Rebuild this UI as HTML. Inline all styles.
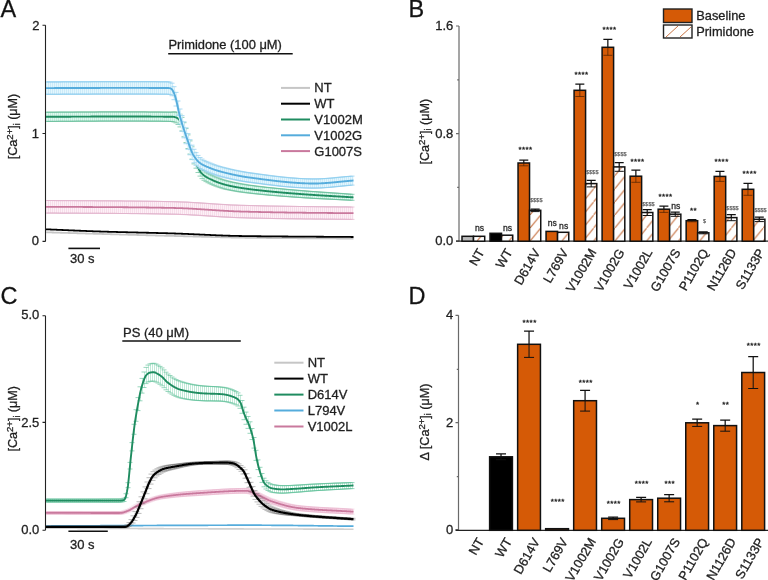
<!DOCTYPE html>
<html><head><meta charset="utf-8"><style>
html,body{margin:0;padding:0;background:#fff;width:768px;height:580px;overflow:hidden}
svg{display:block}
text{font-family:"Liberation Sans",sans-serif}
svg{will-change:transform}
text{stroke:#222;stroke-width:0.3px}
</style></head><body>
<svg width="768" height="580" viewBox="0 0 768 580">
<rect width="768" height="580" fill="#fff"/>
<defs><clipPath id="plotclip"><rect x="46.1" y="0" width="330" height="580"/></clipPath></defs>
<defs><pattern id="hatch" patternUnits="userSpaceOnUse" x="0" y="241.2" width="10.6" height="13.1"><rect width="10.6" height="13.1" fill="#fff"/><path d="M-1,14.34L11.6,-1.24" stroke="#c87444" stroke-width="1.05"/></pattern></defs>
<text x="0.5" y="17" font-size="23.5" text-anchor="start" fill="#111" stroke="#111" stroke-width="0.6">A</text>
<text x="408.5" y="17" font-size="23.5" text-anchor="start" fill="#111" stroke="#111" stroke-width="0.6">B</text>
<text x="0.5" y="303.5" font-size="23.5" text-anchor="start" fill="#111" stroke="#111" stroke-width="0.6">C</text>
<text x="408.5" y="303.5" font-size="23.5" text-anchor="start" fill="#111" stroke="#111" stroke-width="0.6">D</text>
<path d="M45.5,25.3V241.4M42.5,25.3h3M42.5,133.5h3M42.5,241.4h3" stroke="#222" stroke-width="1.1" fill="none"/>
<text x="39.5" y="29.5" font-size="13" text-anchor="end" fill="#1e1e1e" >2</text>
<text x="39.0" y="137.8" font-size="13" text-anchor="end" fill="#1e1e1e" >1</text>
<text x="39.0" y="245.0" font-size="13" text-anchor="end" fill="#1e1e1e" >0</text>
<text transform="translate(17,126.5) rotate(-90)" font-size="12.6" text-anchor="middle" fill="#1e1e1e">[Ca<tspan font-size="9.6" dy="-3.8">2+</tspan><tspan dy="3.8">]</tspan><tspan font-size="8.5" dy="2.5">i</tspan><tspan dy="-2.5"> (μM)</tspan></text>
<path d="M68.4,248.4H100" stroke="#111" stroke-width="1.6"/>
<text x="82.3" y="263" font-size="13" text-anchor="middle" fill="#1e1e1e" >30 s</text>
<path d="M168.2,53.7H292.7" stroke="#111" stroke-width="1.5"/>
<text x="168.4" y="48.5" font-size="12.9" text-anchor="start" fill="#1e1e1e" >Primidone (100 μM)</text>
<path d="M281,87.9H310" stroke="#c6c6c6" stroke-width="2"/>
<text x="314.3" y="92.30000000000001" font-size="13" text-anchor="start" fill="#1e1e1e" >NT</text>
<path d="M281,103.7H310" stroke="#000" stroke-width="2"/>
<text x="314.3" y="108.10000000000001" font-size="13" text-anchor="start" fill="#1e1e1e" >WT</text>
<path d="M281,119.5H310" stroke="#1f8c60" stroke-width="2"/>
<text x="314.3" y="123.9" font-size="13" text-anchor="start" fill="#1e1e1e" >V1002M</text>
<path d="M281,135.3H310" stroke="#55acdc" stroke-width="2"/>
<text x="314.3" y="139.70000000000002" font-size="13" text-anchor="start" fill="#1e1e1e" >V1002G</text>
<path d="M281,151.1H310" stroke="#c9799d" stroke-width="2"/>
<text x="314.3" y="155.50000000000003" font-size="13" text-anchor="start" fill="#1e1e1e" >G1007S</text>
<g clip-path="url(#plotclip)"><path d="M46.0,232.32 L46.5,232.32 L47.0,232.33 L47.5,232.35 L48.0,232.36 L48.5,232.37 L49.0,232.39 L49.5,232.40 L50.0,232.42 L50.5,232.43 L51.0,232.45 L51.5,232.46 L52.0,232.48 L52.5,232.49 L53.0,232.51 L53.5,232.52 L54.0,232.54 L54.5,232.55 L55.0,232.57 L55.5,232.58 L56.0,232.60 L56.5,232.61 L57.0,232.63 L57.5,232.64 L58.0,232.66 L58.5,232.67 L59.0,232.69 L59.5,232.70 L60.0,232.72 L60.5,232.73 L61.0,232.75 L61.5,232.76 L62.0,232.78 L62.5,232.79 L63.0,232.81 L63.5,232.82 L64.0,232.84 L64.5,232.85 L65.0,232.87 L65.5,232.88 L66.0,232.90 L66.5,232.91 L67.0,232.93 L67.5,232.95 L68.0,232.96 L68.5,232.98 L69.0,232.99 L69.5,233.01 L70.0,233.02 L70.5,233.04 L71.0,233.05 L71.5,233.07 L72.0,233.08 L72.5,233.10 L73.0,233.11 L73.5,233.13 L74.0,233.14 L74.5,233.16 L75.0,233.17 L75.5,233.19 L76.0,233.20 L76.5,233.22 L77.0,233.23 L77.5,233.25 L78.0,233.26 L78.5,233.28 L79.0,233.29 L79.5,233.31 L80.0,233.32 L80.5,233.34 L81.0,233.35 L81.5,233.37 L82.0,233.38 L82.5,233.40 L83.0,233.41 L83.5,233.43 L84.0,233.44 L84.5,233.46 L85.0,233.47 L85.5,233.49 L86.0,233.50 L86.5,233.52 L87.0,233.53 L87.5,233.55 L88.0,233.56 L88.5,233.58 L89.0,233.59 L89.5,233.61 L90.0,233.62 L90.5,233.64 L91.0,233.65 L91.5,233.67 L92.0,233.68 L92.5,233.70 L93.0,233.71 L93.5,233.73 L94.0,233.74 L94.5,233.76 L95.0,233.77 L95.5,233.79 L96.0,233.80 L96.5,233.82 L97.0,233.83 L97.5,233.85 L98.0,233.86 L98.5,233.88 L99.0,233.89 L99.5,233.90 L100.0,233.92 L100.5,233.93 L101.0,233.95 L101.5,233.96 L102.0,233.98 L102.5,233.99 L103.0,234.01 L103.5,234.02 L104.0,234.04 L104.5,234.05 L105.0,234.07 L105.5,234.08 L106.0,234.10 L106.5,234.11 L107.0,234.13 L107.5,234.14 L108.0,234.15 L108.5,234.17 L109.0,234.18 L109.5,234.20 L110.0,234.21 L110.5,234.23 L111.0,234.24 L111.5,234.26 L112.0,234.27 L112.5,234.29 L113.0,234.30 L113.5,234.31 L114.0,234.33 L114.5,234.34 L115.0,234.36 L115.5,234.37 L116.0,234.39 L116.5,234.40 L117.0,234.41 L117.5,234.43 L118.0,234.44 L118.5,234.46 L119.0,234.47 L119.5,234.49 L120.0,234.50 L120.5,234.51 L121.0,234.53 L121.5,234.54 L122.0,234.56 L122.5,234.57 L123.0,234.59 L123.5,234.60 L124.0,234.61 L124.5,234.63 L125.0,234.64 L125.5,234.66 L126.0,234.67 L126.5,234.68 L127.0,234.70 L127.5,234.71 L128.0,234.73 L128.5,234.74 L129.0,234.75 L129.5,234.77 L130.0,234.78 L130.5,234.80 L131.0,234.81 L131.5,234.82 L132.0,234.84 L132.5,234.85 L133.0,234.87 L133.5,234.88 L134.0,234.89 L134.5,234.91 L135.0,234.92 L135.5,234.94 L136.0,234.95 L136.5,234.96 L137.0,234.98 L137.5,234.99 L138.0,235.01 L138.5,235.02 L139.0,235.03 L139.5,235.05 L140.0,235.06 L140.5,235.08 L141.0,235.09 L141.5,235.10 L142.0,235.12 L142.5,235.13 L143.0,235.15 L143.5,235.16 L144.0,235.17 L144.5,235.19 L145.0,235.20 L145.5,235.21 L146.0,235.23 L146.5,235.24 L147.0,235.26 L147.5,235.27 L148.0,235.28 L148.5,235.30 L149.0,235.31 L149.5,235.32 L150.0,235.34 L150.5,235.35 L151.0,235.36 L151.5,235.38 L152.0,235.39 L152.5,235.41 L153.0,235.42 L153.5,235.43 L154.0,235.45 L154.5,235.46 L155.0,235.47 L155.5,235.49 L156.0,235.50 L156.5,235.51 L157.0,235.53 L157.5,235.54 L158.0,235.55 L158.5,235.57 L159.0,235.58 L159.5,235.59 L160.0,235.61 L160.5,235.62 L161.0,235.63 L161.5,235.65 L162.0,235.66 L162.5,235.67 L163.0,235.69 L163.5,235.70 L164.0,235.71 L164.5,235.73 L165.0,235.74 L165.5,235.75 L166.0,235.77 L166.5,235.78 L167.0,235.79 L167.5,235.81 L168.0,235.82 L168.5,235.83 L169.0,235.84 L169.5,235.86 L170.0,235.87 L170.5,235.88 L171.0,235.90 L171.5,235.91 L172.0,235.92 L172.5,235.94 L173.0,235.95 L173.5,235.96 L174.0,235.97 L174.5,235.99 L175.0,236.00 L175.5,236.01 L176.0,236.03 L176.5,236.04 L177.0,236.05 L177.5,236.06 L178.0,236.08 L178.5,236.09 L179.0,236.10 L179.5,236.12 L180.0,236.13 L180.5,236.14 L181.0,236.16 L181.5,236.17 L182.0,236.18 L182.5,236.20 L183.0,236.21 L183.5,236.23 L184.0,236.24 L184.5,236.25 L185.0,236.27 L185.5,236.28 L186.0,236.29 L186.5,236.31 L187.0,236.32 L187.5,236.33 L188.0,236.35 L188.5,236.36 L189.0,236.38 L189.5,236.39 L190.0,236.40 L190.5,236.42 L191.0,236.43 L191.5,236.45 L192.0,236.46 L192.5,236.47 L193.0,236.49 L193.5,236.50 L194.0,236.52 L194.5,236.53 L195.0,236.54 L195.5,236.56 L196.0,236.57 L196.5,236.59 L197.0,236.60 L197.5,236.61 L198.0,236.63 L198.5,236.64 L199.0,236.66 L199.5,236.67 L200.0,236.68 L200.5,236.70 L201.0,236.71 L201.5,236.73 L202.0,236.74 L202.5,236.75 L203.0,236.77 L203.5,236.78 L204.0,236.80 L204.5,236.81 L205.0,236.82 L205.5,236.84 L206.0,236.85 L206.5,236.87 L207.0,236.88 L207.5,236.89 L208.0,236.91 L208.5,236.92 L209.0,236.93 L209.5,236.95 L210.0,236.96 L210.5,236.97 L211.0,236.99 L211.5,237.00 L212.0,237.01 L212.5,237.03 L213.0,237.04 L213.5,237.05 L214.0,237.07 L214.5,237.08 L215.0,237.09 L215.5,237.11 L216.0,237.12 L216.5,237.13 L217.0,237.15 L217.5,237.16 L218.0,237.17 L218.5,237.18 L219.0,237.20 L219.5,237.21 L220.0,237.22 L220.5,237.23 L221.0,237.25 L221.5,237.26 L222.0,237.27 L222.5,237.28 L223.0,237.29 L223.5,237.31 L224.0,237.32 L224.5,237.33 L225.0,237.34 L225.5,237.35 L226.0,237.37 L226.5,237.38 L227.0,237.39 L227.5,237.40 L228.0,237.41 L228.5,237.42 L229.0,237.43 L229.5,237.44 L230.0,237.46 L230.5,237.47 L231.0,237.48 L231.5,237.49 L232.0,237.50 L232.5,237.51 L233.0,237.52 L233.5,237.53 L234.0,237.54 L234.5,237.55 L235.0,237.56 L235.5,237.57 L236.0,237.58 L236.5,237.59 L237.0,237.60 L237.5,237.61 L238.0,237.62 L238.5,237.62 L239.0,237.63 L239.5,237.64 L240.0,237.65 L240.5,237.66 L241.0,237.67 L241.5,237.68 L242.0,237.69 L242.5,237.69 L243.0,237.70 L243.5,237.71 L244.0,237.72 L244.5,237.72 L245.0,237.73 L245.5,237.74 L246.0,237.75 L246.5,237.75 L247.0,237.76 L247.5,237.77 L248.0,237.77 L248.5,237.78 L249.0,237.79 L249.5,237.79 L250.0,237.80 L250.5,237.81 L251.0,237.81 L251.5,237.82 L252.0,237.82 L252.5,237.83 L253.0,237.84 L253.5,237.84 L254.0,237.85 L254.5,237.85 L255.0,237.86 L255.5,237.86 L256.0,237.87 L256.5,237.87 L257.0,237.88 L257.5,237.89 L258.0,237.89 L258.5,237.90 L259.0,237.90 L259.5,237.91 L260.0,237.91 L260.5,237.92 L261.0,237.92 L261.5,237.93 L262.0,237.93 L262.5,237.94 L263.0,237.94 L263.5,237.95 L264.0,237.95 L264.5,237.96 L265.0,237.96 L265.5,237.97 L266.0,237.97 L266.5,237.98 L267.0,237.98 L267.5,237.99 L268.0,237.99 L268.5,238.00 L269.0,238.00 L269.5,238.01 L270.0,238.01 L270.5,238.01 L271.0,238.02 L271.5,238.02 L272.0,238.03 L272.5,238.03 L273.0,238.04 L273.5,238.04 L274.0,238.05 L274.5,238.05 L275.0,238.05 L275.5,238.06 L276.0,238.06 L276.5,238.07 L277.0,238.07 L277.5,238.08 L278.0,238.08 L278.5,238.08 L279.0,238.09 L279.5,238.09 L280.0,238.10 L280.5,238.10 L281.0,238.10 L281.5,238.11 L282.0,238.11 L282.5,238.12 L283.0,238.12 L283.5,238.12 L284.0,238.13 L284.5,238.13 L285.0,238.14 L285.5,238.14 L286.0,238.14 L286.5,238.15 L287.0,238.15 L287.5,238.15 L288.0,238.16 L288.5,238.16 L289.0,238.17 L289.5,238.17 L290.0,238.17 L290.5,238.18 L291.0,238.18 L291.5,238.18 L292.0,238.19 L292.5,238.19 L293.0,238.19 L293.5,238.20 L294.0,238.20 L294.5,238.21 L295.0,238.21 L295.5,238.21 L296.0,238.22 L296.5,238.22 L297.0,238.22 L297.5,238.23 L298.0,238.23 L298.5,238.23 L299.0,238.24 L299.5,238.24 L300.0,238.24 L300.5,238.25 L301.0,238.25 L301.5,238.25 L302.0,238.26 L302.5,238.26 L303.0,238.26 L303.5,238.27 L304.0,238.27 L304.5,238.27 L305.0,238.28 L305.5,238.28 L306.0,238.28 L306.5,238.29 L307.0,238.29 L307.5,238.29 L308.0,238.30 L308.5,238.30 L309.0,238.30 L309.5,238.31 L310.0,238.31 L310.5,238.31 L311.0,238.31 L311.5,238.32 L312.0,238.32 L312.5,238.32 L313.0,238.33 L313.5,238.33 L314.0,238.33 L314.5,238.34 L315.0,238.34 L315.5,238.34 L316.0,238.35 L316.5,238.35 L317.0,238.35 L317.5,238.36 L318.0,238.36 L318.5,238.36 L319.0,238.37 L319.5,238.37 L320.0,238.37 L320.5,238.37 L321.0,238.38 L321.5,238.38 L322.0,238.38 L322.5,238.39 L323.0,238.39 L323.5,238.39 L324.0,238.40 L324.5,238.40 L325.0,238.40 L325.5,238.41 L326.0,238.41 L326.5,238.41 L327.0,238.42 L327.5,238.42 L328.0,238.42 L328.5,238.43 L329.0,238.43 L329.5,238.43 L330.0,238.44 L330.5,238.44 L331.0,238.44 L331.5,238.44 L332.0,238.45 L332.5,238.45 L333.0,238.45 L333.5,238.46 L334.0,238.46 L334.5,238.46 L335.0,238.47 L335.5,238.47 L336.0,238.47 L336.5,238.48 L337.0,238.48 L337.5,238.48 L338.0,238.49 L338.5,238.49 L339.0,238.49 L339.5,238.50 L340.0,238.50 L340.5,238.50 L341.0,238.51 L341.5,238.51 L342.0,238.51 L342.5,238.52 L343.0,238.52 L343.5,238.53 L344.0,238.53 L344.5,238.53 L345.0,238.54 L345.5,238.54 L346.0,238.54 L346.5,238.55 L347.0,238.55 L347.5,238.55 L348.0,238.56 L348.5,238.56 L349.0,238.56 L349.5,238.57 L350.0,238.57 L350.5,238.58 L351.0,238.58 L351.5,238.58 L352.0,238.59 L352.5,238.59 L353.0,238.59 L353.5,238.59" stroke="#c6c6c6" stroke-width="1.8" fill="none" stroke-linejoin="round"/></g>
<g clip-path="url(#plotclip)"><path d="M46.0,229.32 L46.5,229.33 L47.0,229.35 L47.5,229.36 L48.0,229.38 L48.5,229.40 L49.0,229.42 L49.5,229.44 L50.0,229.47 L50.5,229.49 L51.0,229.51 L51.5,229.53 L52.0,229.55 L52.5,229.57 L53.0,229.59 L53.5,229.61 L54.0,229.63 L54.5,229.66 L55.0,229.68 L55.5,229.70 L56.0,229.72 L56.5,229.74 L57.0,229.76 L57.5,229.78 L58.0,229.81 L58.5,229.83 L59.0,229.85 L59.5,229.87 L60.0,229.89 L60.5,229.91 L61.0,229.94 L61.5,229.96 L62.0,229.98 L62.5,230.00 L63.0,230.02 L63.5,230.04 L64.0,230.07 L64.5,230.09 L65.0,230.11 L65.5,230.13 L66.0,230.15 L66.5,230.17 L67.0,230.20 L67.5,230.22 L68.0,230.24 L68.5,230.26 L69.0,230.28 L69.5,230.30 L70.0,230.33 L70.5,230.35 L71.0,230.37 L71.5,230.39 L72.0,230.41 L72.5,230.43 L73.0,230.45 L73.5,230.48 L74.0,230.50 L74.5,230.52 L75.0,230.54 L75.5,230.56 L76.0,230.58 L76.5,230.60 L77.0,230.62 L77.5,230.65 L78.0,230.67 L78.5,230.69 L79.0,230.71 L79.5,230.73 L80.0,230.75 L80.5,230.77 L81.0,230.79 L81.5,230.81 L82.0,230.83 L82.5,230.85 L83.0,230.87 L83.5,230.89 L84.0,230.91 L84.5,230.93 L85.0,230.95 L85.5,230.97 L86.0,230.99 L86.5,231.01 L87.0,231.03 L87.5,231.05 L88.0,231.07 L88.5,231.09 L89.0,231.11 L89.5,231.13 L90.0,231.15 L90.5,231.17 L91.0,231.18 L91.5,231.20 L92.0,231.22 L92.5,231.24 L93.0,231.26 L93.5,231.28 L94.0,231.29 L94.5,231.31 L95.0,231.33 L95.5,231.35 L96.0,231.36 L96.5,231.38 L97.0,231.40 L97.5,231.42 L98.0,231.43 L98.5,231.45 L99.0,231.47 L99.5,231.48 L100.0,231.50 L100.5,231.52 L101.0,231.53 L101.5,231.55 L102.0,231.56 L102.5,231.58 L103.0,231.60 L103.5,231.61 L104.0,231.63 L104.5,231.64 L105.0,231.66 L105.5,231.67 L106.0,231.69 L106.5,231.70 L107.0,231.72 L107.5,231.73 L108.0,231.75 L108.5,231.76 L109.0,231.78 L109.5,231.79 L110.0,231.81 L110.5,231.82 L111.0,231.83 L111.5,231.85 L112.0,231.86 L112.5,231.88 L113.0,231.89 L113.5,231.90 L114.0,231.92 L114.5,231.93 L115.0,231.94 L115.5,231.96 L116.0,231.97 L116.5,231.99 L117.0,232.00 L117.5,232.01 L118.0,232.03 L118.5,232.04 L119.0,232.05 L119.5,232.06 L120.0,232.08 L120.5,232.09 L121.0,232.10 L121.5,232.12 L122.0,232.13 L122.5,232.14 L123.0,232.15 L123.5,232.17 L124.0,232.18 L124.5,232.19 L125.0,232.20 L125.5,232.22 L126.0,232.23 L126.5,232.24 L127.0,232.25 L127.5,232.27 L128.0,232.28 L128.5,232.29 L129.0,232.30 L129.5,232.32 L130.0,232.33 L130.5,232.34 L131.0,232.35 L131.5,232.36 L132.0,232.38 L132.5,232.39 L133.0,232.40 L133.5,232.41 L134.0,232.43 L134.5,232.44 L135.0,232.45 L135.5,232.46 L136.0,232.47 L136.5,232.49 L137.0,232.50 L137.5,232.51 L138.0,232.52 L138.5,232.53 L139.0,232.55 L139.5,232.56 L140.0,232.57 L140.5,232.58 L141.0,232.59 L141.5,232.60 L142.0,232.62 L142.5,232.63 L143.0,232.64 L143.5,232.65 L144.0,232.67 L144.5,232.68 L145.0,232.69 L145.5,232.70 L146.0,232.71 L146.5,232.73 L147.0,232.74 L147.5,232.75 L148.0,232.76 L148.5,232.77 L149.0,232.79 L149.5,232.80 L150.0,232.81 L150.5,232.82 L151.0,232.84 L151.5,232.85 L152.0,232.86 L152.5,232.87 L153.0,232.89 L153.5,232.90 L154.0,232.91 L154.5,232.92 L155.0,232.94 L155.5,232.95 L156.0,232.96 L156.5,232.98 L157.0,232.99 L157.5,233.00 L158.0,233.01 L158.5,233.03 L159.0,233.04 L159.5,233.05 L160.0,233.07 L160.5,233.08 L161.0,233.09 L161.5,233.11 L162.0,233.12 L162.5,233.13 L163.0,233.15 L163.5,233.16 L164.0,233.18 L164.5,233.19 L165.0,233.20 L165.5,233.22 L166.0,233.23 L166.5,233.25 L167.0,233.26 L167.5,233.27 L168.0,233.29 L168.5,233.30 L169.0,233.32 L169.5,233.33 L170.0,233.35 L170.5,233.36 L171.0,233.38 L171.5,233.39 L172.0,233.41 L172.5,233.42 L173.0,233.44 L173.5,233.45 L174.0,233.47 L174.5,233.48 L175.0,233.50 L175.5,233.52 L176.0,233.53 L176.5,233.55 L177.0,233.57 L177.5,233.58 L178.0,233.60 L178.5,233.62 L179.0,233.64 L179.5,233.65 L180.0,233.67 L180.5,233.69 L181.0,233.71 L181.5,233.73 L182.0,233.75 L182.5,233.77 L183.0,233.79 L183.5,233.81 L184.0,233.83 L184.5,233.85 L185.0,233.87 L185.5,233.89 L186.0,233.91 L186.5,233.93 L187.0,233.95 L187.5,233.97 L188.0,233.99 L188.5,234.01 L189.0,234.04 L189.5,234.06 L190.0,234.08 L190.5,234.10 L191.0,234.12 L191.5,234.14 L192.0,234.17 L192.5,234.19 L193.0,234.21 L193.5,234.23 L194.0,234.26 L194.5,234.28 L195.0,234.30 L195.5,234.33 L196.0,234.35 L196.5,234.37 L197.0,234.40 L197.5,234.42 L198.0,234.44 L198.5,234.46 L199.0,234.49 L199.5,234.51 L200.0,234.53 L200.5,234.56 L201.0,234.58 L201.5,234.60 L202.0,234.63 L202.5,234.65 L203.0,234.67 L203.5,234.70 L204.0,234.72 L204.5,234.74 L205.0,234.77 L205.5,234.79 L206.0,234.81 L206.5,234.84 L207.0,234.86 L207.5,234.88 L208.0,234.91 L208.5,234.93 L209.0,234.95 L209.5,234.97 L210.0,235.00 L210.5,235.02 L211.0,235.04 L211.5,235.06 L212.0,235.09 L212.5,235.11 L213.0,235.13 L213.5,235.15 L214.0,235.17 L214.5,235.20 L215.0,235.22 L215.5,235.24 L216.0,235.26 L216.5,235.28 L217.0,235.30 L217.5,235.32 L218.0,235.34 L218.5,235.36 L219.0,235.38 L219.5,235.40 L220.0,235.42 L220.5,235.44 L221.0,235.46 L221.5,235.48 L222.0,235.50 L222.5,235.52 L223.0,235.54 L223.5,235.56 L224.0,235.58 L224.5,235.59 L225.0,235.61 L225.5,235.63 L226.0,235.65 L226.5,235.66 L227.0,235.68 L227.5,235.69 L228.0,235.71 L228.5,235.73 L229.0,235.74 L229.5,235.76 L230.0,235.77 L230.5,235.79 L231.0,235.80 L231.5,235.81 L232.0,235.83 L232.5,235.84 L233.0,235.85 L233.5,235.87 L234.0,235.88 L234.5,235.89 L235.0,235.90 L235.5,235.91 L236.0,235.93 L236.5,235.94 L237.0,235.95 L237.5,235.96 L238.0,235.97 L238.5,235.97 L239.0,235.98 L239.5,235.99 L240.0,236.00 L240.5,236.01 L241.0,236.01 L241.5,236.02 L242.0,236.03 L242.5,236.04 L243.0,236.04 L243.5,236.05 L244.0,236.06 L244.5,236.07 L245.0,236.07 L245.5,236.08 L246.0,236.09 L246.5,236.09 L247.0,236.10 L247.5,236.11 L248.0,236.11 L248.5,236.12 L249.0,236.13 L249.5,236.13 L250.0,236.14 L250.5,236.15 L251.0,236.15 L251.5,236.16 L252.0,236.17 L252.5,236.17 L253.0,236.18 L253.5,236.19 L254.0,236.19 L254.5,236.20 L255.0,236.20 L255.5,236.21 L256.0,236.22 L256.5,236.22 L257.0,236.23 L257.5,236.23 L258.0,236.24 L258.5,236.25 L259.0,236.25 L259.5,236.26 L260.0,236.26 L260.5,236.27 L261.0,236.27 L261.5,236.28 L262.0,236.28 L262.5,236.29 L263.0,236.30 L263.5,236.30 L264.0,236.31 L264.5,236.31 L265.0,236.32 L265.5,236.32 L266.0,236.33 L266.5,236.33 L267.0,236.34 L267.5,236.34 L268.0,236.35 L268.5,236.35 L269.0,236.36 L269.5,236.36 L270.0,236.37 L270.5,236.37 L271.0,236.38 L271.5,236.38 L272.0,236.39 L272.5,236.39 L273.0,236.40 L273.5,236.40 L274.0,236.41 L274.5,236.41 L275.0,236.41 L275.5,236.42 L276.0,236.42 L276.5,236.43 L277.0,236.43 L277.5,236.44 L278.0,236.44 L278.5,236.45 L279.0,236.45 L279.5,236.45 L280.0,236.46 L280.5,236.46 L281.0,236.47 L281.5,236.47 L282.0,236.48 L282.5,236.48 L283.0,236.48 L283.5,236.49 L284.0,236.49 L284.5,236.50 L285.0,236.50 L285.5,236.50 L286.0,236.51 L286.5,236.51 L287.0,236.52 L287.5,236.52 L288.0,236.52 L288.5,236.53 L289.0,236.53 L289.5,236.54 L290.0,236.54 L290.5,236.54 L291.0,236.55 L291.5,236.55 L292.0,236.56 L292.5,236.56 L293.0,236.56 L293.5,236.57 L294.0,236.57 L294.5,236.57 L295.0,236.58 L295.5,236.58 L296.0,236.58 L296.5,236.59 L297.0,236.59 L297.5,236.60 L298.0,236.60 L298.5,236.60 L299.0,236.61 L299.5,236.61 L300.0,236.61 L300.5,236.62 L301.0,236.62 L301.5,236.62 L302.0,236.63 L302.5,236.63 L303.0,236.63 L303.5,236.64 L304.0,236.64 L304.5,236.64 L305.0,236.65 L305.5,236.65 L306.0,236.65 L306.5,236.66 L307.0,236.66 L307.5,236.66 L308.0,236.67 L308.5,236.67 L309.0,236.67 L309.5,236.68 L310.0,236.68 L310.5,236.69 L311.0,236.69 L311.5,236.69 L312.0,236.70 L312.5,236.70 L313.0,236.70 L313.5,236.71 L314.0,236.71 L314.5,236.71 L315.0,236.72 L315.5,236.72 L316.0,236.72 L316.5,236.73 L317.0,236.73 L317.5,236.73 L318.0,236.74 L318.5,236.74 L319.0,236.74 L319.5,236.75 L320.0,236.75 L320.5,236.75 L321.0,236.76 L321.5,236.76 L322.0,236.76 L322.5,236.77 L323.0,236.77 L323.5,236.77 L324.0,236.78 L324.5,236.78 L325.0,236.78 L325.5,236.79 L326.0,236.79 L326.5,236.79 L327.0,236.80 L327.5,236.80 L328.0,236.80 L328.5,236.81 L329.0,236.81 L329.5,236.81 L330.0,236.82 L330.5,236.82 L331.0,236.82 L331.5,236.83 L332.0,236.83 L332.5,236.83 L333.0,236.84 L333.5,236.84 L334.0,236.84 L334.5,236.85 L335.0,236.85 L335.5,236.86 L336.0,236.86 L336.5,236.86 L337.0,236.87 L337.5,236.87 L338.0,236.87 L338.5,236.88 L339.0,236.88 L339.5,236.89 L340.0,236.89 L340.5,236.89 L341.0,236.90 L341.5,236.90 L342.0,236.90 L342.5,236.91 L343.0,236.91 L343.5,236.92 L344.0,236.92 L344.5,236.92 L345.0,236.93 L345.5,236.93 L346.0,236.94 L346.5,236.94 L347.0,236.94 L347.5,236.95 L348.0,236.95 L348.5,236.96 L349.0,236.96 L349.5,236.96 L350.0,236.97 L350.5,236.97 L351.0,236.98 L351.5,236.98 L352.0,236.98 L352.5,236.99 L353.0,236.99 L353.5,236.99" stroke="#000" stroke-width="1.8" fill="none" stroke-linejoin="round"/></g>
<g clip-path="url(#plotclip)"><path d="M46.0,200.50 L46.5,200.50 L47.0,200.51 L47.5,200.51 L48.0,200.51 L48.5,200.51 L49.0,200.52 L49.5,200.52 L50.0,200.52 L50.5,200.53 L51.0,200.53 L51.5,200.53 L52.0,200.53 L52.5,200.54 L53.0,200.54 L53.5,200.54 L54.0,200.54 L54.5,200.55 L55.0,200.55 L55.5,200.55 L56.0,200.55 L56.5,200.56 L57.0,200.56 L57.5,200.56 L58.0,200.56 L58.5,200.57 L59.0,200.57 L59.5,200.57 L60.0,200.57 L60.5,200.58 L61.0,200.58 L61.5,200.58 L62.0,200.58 L62.5,200.59 L63.0,200.59 L63.5,200.59 L64.0,200.59 L64.5,200.60 L65.0,200.60 L65.5,200.60 L66.0,200.60 L66.5,200.61 L67.0,200.61 L67.5,200.61 L68.0,200.61 L68.5,200.62 L69.0,200.62 L69.5,200.62 L70.0,200.62 L70.5,200.63 L71.0,200.63 L71.5,200.63 L72.0,200.63 L72.5,200.64 L73.0,200.64 L73.5,200.64 L74.0,200.64 L74.5,200.65 L75.0,200.65 L75.5,200.65 L76.0,200.65 L76.5,200.66 L77.0,200.66 L77.5,200.66 L78.0,200.66 L78.5,200.66 L79.0,200.67 L79.5,200.67 L80.0,200.67 L80.5,200.67 L81.0,200.68 L81.5,200.68 L82.0,200.68 L82.5,200.68 L83.0,200.69 L83.5,200.69 L84.0,200.69 L84.5,200.70 L85.0,200.70 L85.5,200.70 L86.0,200.70 L86.5,200.71 L87.0,200.71 L87.5,200.71 L88.0,200.71 L88.5,200.72 L89.0,200.72 L89.5,200.72 L90.0,200.72 L90.5,200.73 L91.0,200.73 L91.5,200.73 L92.0,200.73 L92.5,200.74 L93.0,200.74 L93.5,200.74 L94.0,200.75 L94.5,200.75 L95.0,200.75 L95.5,200.75 L96.0,200.76 L96.5,200.76 L97.0,200.76 L97.5,200.77 L98.0,200.77 L98.5,200.77 L99.0,200.78 L99.5,200.78 L100.0,200.78 L100.5,200.78 L101.0,200.79 L101.5,200.79 L102.0,200.79 L102.5,200.80 L103.0,200.80 L103.5,200.80 L104.0,200.81 L104.5,200.81 L105.0,200.81 L105.5,200.82 L106.0,200.82 L106.5,200.82 L107.0,200.83 L107.5,200.83 L108.0,200.83 L108.5,200.84 L109.0,200.84 L109.5,200.84 L110.0,200.85 L110.5,200.85 L111.0,200.85 L111.5,200.86 L112.0,200.86 L112.5,200.87 L113.0,200.87 L113.5,200.87 L114.0,200.88 L114.5,200.88 L115.0,200.88 L115.5,200.89 L116.0,200.89 L116.5,200.90 L117.0,200.90 L117.5,200.90 L118.0,200.91 L118.5,200.91 L119.0,200.92 L119.5,200.92 L120.0,200.92 L120.5,200.93 L121.0,200.93 L121.5,200.94 L122.0,200.94 L122.5,200.95 L123.0,200.95 L123.5,200.95 L124.0,200.96 L124.5,200.96 L125.0,200.97 L125.5,200.97 L126.0,200.98 L126.5,200.98 L127.0,200.99 L127.5,200.99 L128.0,201.00 L128.5,201.00 L129.0,201.01 L129.5,201.01 L130.0,201.02 L130.5,201.02 L131.0,201.03 L131.5,201.03 L132.0,201.04 L132.5,201.04 L133.0,201.05 L133.5,201.06 L134.0,201.06 L134.5,201.07 L135.0,201.07 L135.5,201.08 L136.0,201.08 L136.5,201.09 L137.0,201.10 L137.5,201.10 L138.0,201.11 L138.5,201.11 L139.0,201.12 L139.5,201.13 L140.0,201.13 L140.5,201.14 L141.0,201.14 L141.5,201.15 L142.0,201.16 L142.5,201.16 L143.0,201.17 L143.5,201.18 L144.0,201.18 L144.5,201.19 L145.0,201.20 L145.5,201.21 L146.0,201.21 L146.5,201.22 L147.0,201.23 L147.5,201.23 L148.0,201.24 L148.5,201.25 L149.0,201.26 L149.5,201.26 L150.0,201.27 L150.5,201.28 L151.0,201.29 L151.5,201.29 L152.0,201.30 L152.5,201.31 L153.0,201.32 L153.5,201.33 L154.0,201.33 L154.5,201.34 L155.0,201.35 L155.5,201.36 L156.0,201.37 L156.5,201.38 L157.0,201.38 L157.5,201.39 L158.0,201.40 L158.5,201.41 L159.0,201.42 L159.5,201.43 L160.0,201.44 L160.5,201.45 L161.0,201.45 L161.5,201.46 L162.0,201.47 L162.5,201.48 L163.0,201.49 L163.5,201.50 L164.0,201.51 L164.5,201.52 L165.0,201.53 L165.5,201.54 L166.0,201.55 L166.5,201.56 L167.0,201.57 L167.5,201.58 L168.0,201.59 L168.5,201.60 L169.0,201.61 L169.5,201.62 L170.0,201.63 L170.5,201.64 L171.0,201.65 L171.5,201.66 L172.0,201.68 L172.5,201.69 L173.0,201.70 L173.5,201.71 L174.0,201.72 L174.5,201.73 L175.0,201.74 L175.5,201.76 L176.0,201.77 L176.5,201.78 L177.0,201.80 L177.5,201.81 L178.0,201.82 L178.5,201.84 L179.0,201.86 L179.5,201.87 L180.0,201.89 L180.5,201.91 L181.0,201.93 L181.5,201.95 L182.0,201.97 L182.5,201.99 L183.0,202.01 L183.5,202.03 L184.0,202.05 L184.5,202.07 L185.0,202.09 L185.5,202.12 L186.0,202.14 L186.5,202.16 L187.0,202.19 L187.5,202.21 L188.0,202.24 L188.5,202.26 L189.0,202.29 L189.5,202.32 L190.0,202.34 L190.5,202.37 L191.0,202.40 L191.5,202.43 L192.0,202.46 L192.5,202.48 L193.0,202.51 L193.5,202.54 L194.0,202.57 L194.5,202.60 L195.0,202.63 L195.5,202.66 L196.0,202.69 L196.5,202.72 L197.0,202.76 L197.5,202.79 L198.0,202.82 L198.5,202.85 L199.0,202.88 L199.5,202.92 L200.0,202.95 L200.5,202.98 L201.0,203.01 L201.5,203.05 L202.0,203.08 L202.5,203.11 L203.0,203.15 L203.5,203.18 L204.0,203.21 L204.5,203.25 L205.0,203.28 L205.5,203.31 L206.0,203.35 L206.5,203.38 L207.0,203.42 L207.5,203.45 L208.0,203.48 L208.5,203.52 L209.0,203.55 L209.5,203.59 L210.0,203.62 L210.5,203.65 L211.0,203.69 L211.5,203.72 L212.0,203.76 L212.5,203.79 L213.0,203.82 L213.5,203.86 L214.0,203.89 L214.5,203.93 L215.0,203.96 L215.5,203.99 L216.0,204.02 L216.5,204.06 L217.0,204.09 L217.5,204.12 L218.0,204.16 L218.5,204.19 L219.0,204.22 L219.5,204.25 L220.0,204.28 L220.5,204.32 L221.0,204.35 L221.5,204.38 L222.0,204.41 L222.5,204.44 L223.0,204.47 L223.5,204.50 L224.0,204.53 L224.5,204.56 L225.0,204.59 L225.5,204.62 L226.0,204.64 L226.5,204.67 L227.0,204.70 L227.5,204.73 L228.0,204.75 L228.5,204.78 L229.0,204.81 L229.5,204.83 L230.0,204.86 L230.5,204.88 L231.0,204.91 L231.5,204.93 L232.0,204.95 L232.5,204.98 L233.0,205.00 L233.5,205.02 L234.0,205.04 L234.5,205.06 L235.0,205.09 L235.5,205.11 L236.0,205.12 L236.5,205.14 L237.0,205.16 L237.5,205.18 L238.0,205.20 L238.5,205.21 L239.0,205.23 L239.5,205.25 L240.0,205.26 L240.5,205.28 L241.0,205.29 L241.5,205.31 L242.0,205.32 L242.5,205.33 L243.0,205.35 L243.5,205.36 L244.0,205.38 L244.5,205.39 L245.0,205.40 L245.5,205.42 L246.0,205.43 L246.5,205.45 L247.0,205.46 L247.5,205.47 L248.0,205.49 L248.5,205.50 L249.0,205.51 L249.5,205.53 L250.0,205.54 L250.5,205.55 L251.0,205.56 L251.5,205.58 L252.0,205.59 L252.5,205.60 L253.0,205.61 L253.5,205.63 L254.0,205.64 L254.5,205.65 L255.0,205.66 L255.5,205.68 L256.0,205.69 L256.5,205.70 L257.0,205.71 L257.5,205.72 L258.0,205.74 L258.5,205.75 L259.0,205.76 L259.5,205.77 L260.0,205.78 L260.5,205.79 L261.0,205.80 L261.5,205.82 L262.0,205.83 L262.5,205.84 L263.0,205.85 L263.5,205.86 L264.0,205.87 L264.5,205.88 L265.0,205.89 L265.5,205.90 L266.0,205.91 L266.5,205.92 L267.0,205.93 L267.5,205.94 L268.0,205.95 L268.5,205.97 L269.0,205.98 L269.5,205.99 L270.0,206.00 L270.5,206.01 L271.0,206.02 L271.5,206.02 L272.0,206.03 L272.5,206.04 L273.0,206.05 L273.5,206.06 L274.0,206.07 L274.5,206.08 L275.0,206.09 L275.5,206.10 L276.0,206.11 L276.5,206.12 L277.0,206.13 L277.5,206.14 L278.0,206.15 L278.5,206.16 L279.0,206.16 L279.5,206.17 L280.0,206.18 L280.5,206.19 L281.0,206.20 L281.5,206.21 L282.0,206.22 L282.5,206.22 L283.0,206.23 L283.5,206.24 L284.0,206.25 L284.5,206.26 L285.0,206.27 L285.5,206.27 L286.0,206.28 L286.5,206.29 L287.0,206.30 L287.5,206.30 L288.0,206.31 L288.5,206.32 L289.0,206.33 L289.5,206.34 L290.0,206.34 L290.5,206.35 L291.0,206.36 L291.5,206.37 L292.0,206.37 L292.5,206.38 L293.0,206.39 L293.5,206.39 L294.0,206.40 L294.5,206.41 L295.0,206.42 L295.5,206.42 L296.0,206.43 L296.5,206.44 L297.0,206.44 L297.5,206.45 L298.0,206.46 L298.5,206.46 L299.0,206.47 L299.5,206.48 L300.0,206.48 L300.5,206.49 L301.0,206.50 L301.5,206.50 L302.0,206.51 L302.5,206.51 L303.0,206.52 L303.5,206.53 L304.0,206.53 L304.5,206.54 L305.0,206.54 L305.5,206.55 L306.0,206.56 L306.5,206.56 L307.0,206.57 L307.5,206.57 L308.0,206.58 L308.5,206.58 L309.0,206.59 L309.5,206.60 L310.0,206.60 L310.5,206.61 L311.0,206.61 L311.5,206.62 L312.0,206.62 L312.5,206.63 L313.0,206.63 L313.5,206.64 L314.0,206.64 L314.5,206.65 L315.0,206.65 L315.5,206.66 L316.0,206.66 L316.5,206.67 L317.0,206.67 L317.5,206.68 L318.0,206.68 L318.5,206.69 L319.0,206.69 L319.5,206.70 L320.0,206.70 L320.5,206.71 L321.0,206.71 L321.5,206.72 L322.0,206.72 L322.5,206.72 L323.0,206.73 L323.5,206.73 L324.0,206.74 L324.5,206.74 L325.0,206.75 L325.5,206.75 L326.0,206.76 L326.5,206.76 L327.0,206.76 L327.5,206.77 L328.0,206.77 L328.5,206.78 L329.0,206.78 L329.5,206.79 L330.0,206.79 L330.5,206.80 L331.0,206.80 L331.5,206.80 L332.0,206.81 L332.5,206.81 L333.0,206.82 L333.5,206.82 L334.0,206.83 L334.5,206.83 L335.0,206.83 L335.5,206.84 L336.0,206.84 L336.5,206.85 L337.0,206.85 L337.5,206.86 L338.0,206.86 L338.5,206.86 L339.0,206.87 L339.5,206.87 L340.0,206.88 L340.5,206.88 L341.0,206.89 L341.5,206.89 L342.0,206.89 L342.5,206.90 L343.0,206.90 L343.5,206.91 L344.0,206.91 L344.5,206.92 L345.0,206.92 L345.5,206.92 L346.0,206.93 L346.5,206.93 L347.0,206.94 L347.5,206.94 L348.0,206.95 L348.5,206.95 L349.0,206.96 L349.5,206.96 L350.0,206.97 L350.5,206.97 L351.0,206.97 L351.5,206.98 L352.0,206.98 L352.5,206.99 L353.0,206.99 L353.5,206.99 L353.5,219.39 L353.0,219.39 L352.5,219.39 L352.0,219.38 L351.5,219.38 L351.0,219.38 L350.5,219.37 L350.0,219.37 L349.5,219.36 L349.0,219.36 L348.5,219.35 L348.0,219.35 L347.5,219.35 L347.0,219.34 L346.5,219.34 L346.0,219.33 L345.5,219.33 L345.0,219.33 L344.5,219.32 L344.0,219.32 L343.5,219.31 L343.0,219.31 L342.5,219.31 L342.0,219.30 L341.5,219.30 L341.0,219.29 L340.5,219.29 L340.0,219.29 L339.5,219.28 L339.0,219.28 L338.5,219.27 L338.0,219.27 L337.5,219.27 L337.0,219.26 L336.5,219.26 L336.0,219.25 L335.5,219.25 L335.0,219.25 L334.5,219.24 L334.0,219.24 L333.5,219.23 L333.0,219.23 L332.5,219.23 L332.0,219.22 L331.5,219.22 L331.0,219.21 L330.5,219.21 L330.0,219.21 L329.5,219.20 L329.0,219.20 L328.5,219.19 L328.0,219.19 L327.5,219.19 L327.0,219.18 L326.5,219.18 L326.0,219.17 L325.5,219.17 L325.0,219.17 L324.5,219.16 L324.0,219.16 L323.5,219.15 L323.0,219.15 L322.5,219.14 L322.0,219.14 L321.5,219.14 L321.0,219.13 L320.5,219.13 L320.0,219.12 L319.5,219.12 L319.0,219.11 L318.5,219.11 L318.0,219.11 L317.5,219.10 L317.0,219.10 L316.5,219.09 L316.0,219.09 L315.5,219.08 L315.0,219.08 L314.5,219.07 L314.0,219.07 L313.5,219.06 L313.0,219.06 L312.5,219.05 L312.0,219.05 L311.5,219.04 L311.0,219.04 L310.5,219.03 L310.0,219.03 L309.5,219.02 L309.0,219.02 L308.5,219.01 L308.0,219.01 L307.5,219.00 L307.0,219.00 L306.5,218.99 L306.0,218.99 L305.5,218.98 L305.0,218.98 L304.5,218.97 L304.0,218.96 L303.5,218.96 L303.0,218.95 L302.5,218.95 L302.0,218.94 L301.5,218.94 L301.0,218.93 L300.5,218.92 L300.0,218.92 L299.5,218.91 L299.0,218.90 L298.5,218.90 L298.0,218.89 L297.5,218.89 L297.0,218.88 L296.5,218.87 L296.0,218.87 L295.5,218.86 L295.0,218.85 L294.5,218.85 L294.0,218.84 L293.5,218.83 L293.0,218.83 L292.5,218.82 L292.0,218.81 L291.5,218.81 L291.0,218.80 L290.5,218.79 L290.0,218.78 L289.5,218.78 L289.0,218.77 L288.5,218.76 L288.0,218.76 L287.5,218.75 L287.0,218.74 L286.5,218.73 L286.0,218.73 L285.5,218.72 L285.0,218.71 L284.5,218.70 L284.0,218.69 L283.5,218.69 L283.0,218.68 L282.5,218.67 L282.0,218.66 L281.5,218.65 L281.0,218.65 L280.5,218.64 L280.0,218.63 L279.5,218.62 L279.0,218.61 L278.5,218.60 L278.0,218.60 L277.5,218.59 L277.0,218.58 L276.5,218.57 L276.0,218.56 L275.5,218.55 L275.0,218.54 L274.5,218.53 L274.0,218.52 L273.5,218.52 L273.0,218.51 L272.5,218.50 L272.0,218.49 L271.5,218.48 L271.0,218.47 L270.5,218.46 L270.0,218.45 L269.5,218.44 L269.0,218.43 L268.5,218.42 L268.0,218.41 L267.5,218.40 L267.0,218.39 L266.5,218.38 L266.0,218.37 L265.5,218.36 L265.0,218.35 L264.5,218.34 L264.0,218.33 L263.5,218.32 L263.0,218.31 L262.5,218.30 L262.0,218.29 L261.5,218.28 L261.0,218.26 L260.5,218.25 L260.0,218.24 L259.5,218.23 L259.0,218.22 L258.5,218.21 L258.0,218.20 L257.5,218.19 L257.0,218.18 L256.5,218.16 L256.0,218.15 L255.5,218.14 L255.0,218.13 L254.5,218.12 L254.0,218.10 L253.5,218.09 L253.0,218.08 L252.5,218.07 L252.0,218.06 L251.5,218.04 L251.0,218.03 L250.5,218.02 L250.0,218.01 L249.5,217.99 L249.0,217.98 L248.5,217.97 L248.0,217.95 L247.5,217.94 L247.0,217.93 L246.5,217.92 L246.0,217.90 L245.5,217.89 L245.0,217.88 L244.5,217.86 L244.0,217.85 L243.5,217.83 L243.0,217.82 L242.5,217.81 L242.0,217.79 L241.5,217.78 L241.0,217.77 L240.5,217.75 L240.0,217.74 L239.5,217.72 L239.0,217.71 L238.5,217.69 L238.0,217.67 L237.5,217.66 L237.0,217.64 L236.5,217.62 L236.0,217.60 L235.5,217.58 L235.0,217.56 L234.5,217.54 L234.0,217.52 L233.5,217.50 L233.0,217.48 L232.5,217.46 L232.0,217.43 L231.5,217.41 L231.0,217.39 L230.5,217.36 L230.0,217.34 L229.5,217.31 L229.0,217.29 L228.5,217.26 L228.0,217.24 L227.5,217.21 L227.0,217.18 L226.5,217.15 L226.0,217.13 L225.5,217.10 L225.0,217.07 L224.5,217.04 L224.0,217.01 L223.5,216.98 L223.0,216.95 L222.5,216.92 L222.0,216.89 L221.5,216.86 L221.0,216.83 L220.5,216.80 L220.0,216.77 L219.5,216.74 L219.0,216.71 L218.5,216.68 L218.0,216.64 L217.5,216.61 L217.0,216.58 L216.5,216.55 L216.0,216.51 L215.5,216.48 L215.0,216.45 L214.5,216.42 L214.0,216.38 L213.5,216.35 L213.0,216.32 L212.5,216.28 L212.0,216.25 L211.5,216.22 L211.0,216.18 L210.5,216.15 L210.0,216.11 L209.5,216.08 L209.0,216.05 L208.5,216.01 L208.0,215.98 L207.5,215.95 L207.0,215.91 L206.5,215.88 L206.0,215.84 L205.5,215.81 L205.0,215.78 L204.5,215.74 L204.0,215.71 L203.5,215.68 L203.0,215.64 L202.5,215.61 L202.0,215.58 L201.5,215.54 L201.0,215.51 L200.5,215.48 L200.0,215.45 L199.5,215.42 L199.0,215.38 L198.5,215.35 L198.0,215.32 L197.5,215.29 L197.0,215.26 L196.5,215.23 L196.0,215.20 L195.5,215.17 L195.0,215.14 L194.5,215.11 L194.0,215.08 L193.5,215.05 L193.0,215.02 L192.5,214.99 L192.0,214.96 L191.5,214.93 L191.0,214.90 L190.5,214.88 L190.0,214.85 L189.5,214.82 L189.0,214.80 L188.5,214.77 L188.0,214.75 L187.5,214.72 L187.0,214.70 L186.5,214.67 L186.0,214.65 L185.5,214.63 L185.0,214.60 L184.5,214.58 L184.0,214.56 L183.5,214.54 L183.0,214.52 L182.5,214.50 L182.0,214.48 L181.5,214.46 L181.0,214.44 L180.5,214.42 L180.0,214.40 L179.5,214.39 L179.0,214.37 L178.5,214.35 L178.0,214.34 L177.5,214.32 L177.0,214.31 L176.5,214.30 L176.0,214.28 L175.5,214.27 L175.0,214.26 L174.5,214.25 L174.0,214.24 L173.5,214.23 L173.0,214.21 L172.5,214.20 L172.0,214.19 L171.5,214.18 L171.0,214.17 L170.5,214.16 L170.0,214.15 L169.5,214.14 L169.0,214.13 L168.5,214.12 L168.0,214.11 L167.5,214.10 L167.0,214.09 L166.5,214.08 L166.0,214.07 L165.5,214.06 L165.0,214.05 L164.5,214.04 L164.0,214.03 L163.5,214.02 L163.0,214.02 L162.5,214.01 L162.0,214.00 L161.5,213.99 L161.0,213.98 L160.5,213.97 L160.0,213.96 L159.5,213.95 L159.0,213.95 L158.5,213.94 L158.0,213.93 L157.5,213.92 L157.0,213.91 L156.5,213.90 L156.0,213.90 L155.5,213.89 L155.0,213.88 L154.5,213.87 L154.0,213.86 L153.5,213.86 L153.0,213.85 L152.5,213.84 L152.0,213.83 L151.5,213.83 L151.0,213.82 L150.5,213.81 L150.0,213.80 L149.5,213.80 L149.0,213.79 L148.5,213.78 L148.0,213.77 L147.5,213.77 L147.0,213.76 L146.5,213.75 L146.0,213.75 L145.5,213.74 L145.0,213.73 L144.5,213.73 L144.0,213.72 L143.5,213.71 L143.0,213.71 L142.5,213.70 L142.0,213.70 L141.5,213.69 L141.0,213.68 L140.5,213.68 L140.0,213.67 L139.5,213.67 L139.0,213.66 L138.5,213.65 L138.0,213.65 L137.5,213.64 L137.0,213.64 L136.5,213.63 L136.0,213.63 L135.5,213.62 L135.0,213.61 L134.5,213.61 L134.0,213.60 L133.5,213.60 L133.0,213.59 L132.5,213.59 L132.0,213.58 L131.5,213.58 L131.0,213.57 L130.5,213.57 L130.0,213.56 L129.5,213.56 L129.0,213.55 L128.5,213.55 L128.0,213.54 L127.5,213.54 L127.0,213.53 L126.5,213.53 L126.0,213.53 L125.5,213.52 L125.0,213.52 L124.5,213.51 L124.0,213.51 L123.5,213.50 L123.0,213.50 L122.5,213.50 L122.0,213.49 L121.5,213.49 L121.0,213.48 L120.5,213.48 L120.0,213.48 L119.5,213.47 L119.0,213.47 L118.5,213.46 L118.0,213.46 L117.5,213.46 L117.0,213.45 L116.5,213.45 L116.0,213.45 L115.5,213.44 L115.0,213.44 L114.5,213.44 L114.0,213.43 L113.5,213.43 L113.0,213.43 L112.5,213.42 L112.0,213.42 L111.5,213.42 L111.0,213.41 L110.5,213.41 L110.0,213.41 L109.5,213.40 L109.0,213.40 L108.5,213.40 L108.0,213.39 L107.5,213.39 L107.0,213.39 L106.5,213.38 L106.0,213.38 L105.5,213.38 L105.0,213.37 L104.5,213.37 L104.0,213.37 L103.5,213.37 L103.0,213.36 L102.5,213.36 L102.0,213.36 L101.5,213.35 L101.0,213.35 L100.5,213.35 L100.0,213.35 L99.5,213.34 L99.0,213.34 L98.5,213.34 L98.0,213.34 L97.5,213.33 L97.0,213.33 L96.5,213.33 L96.0,213.32 L95.5,213.32 L95.0,213.32 L94.5,213.32 L94.0,213.31 L93.5,213.31 L93.0,213.31 L92.5,213.31 L92.0,213.30 L91.5,213.30 L91.0,213.30 L90.5,213.30 L90.0,213.30 L89.5,213.29 L89.0,213.29 L88.5,213.29 L88.0,213.29 L87.5,213.28 L87.0,213.28 L86.5,213.28 L86.0,213.28 L85.5,213.27 L85.0,213.27 L84.5,213.27 L84.0,213.27 L83.5,213.27 L83.0,213.26 L82.5,213.26 L82.0,213.26 L81.5,213.26 L81.0,213.25 L80.5,213.25 L80.0,213.25 L79.5,213.25 L79.0,213.25 L78.5,213.24 L78.0,213.24 L77.5,213.24 L77.0,213.24 L76.5,213.24 L76.0,213.23 L75.5,213.23 L75.0,213.23 L74.5,213.23 L74.0,213.22 L73.5,213.22 L73.0,213.22 L72.5,213.22 L72.0,213.22 L71.5,213.21 L71.0,213.21 L70.5,213.21 L70.0,213.21 L69.5,213.21 L69.0,213.20 L68.5,213.20 L68.0,213.20 L67.5,213.20 L67.0,213.20 L66.5,213.19 L66.0,213.19 L65.5,213.19 L65.0,213.19 L64.5,213.18 L64.0,213.18 L63.5,213.18 L63.0,213.18 L62.5,213.18 L62.0,213.17 L61.5,213.17 L61.0,213.17 L60.5,213.17 L60.0,213.17 L59.5,213.16 L59.0,213.16 L58.5,213.16 L58.0,213.16 L57.5,213.15 L57.0,213.15 L56.5,213.15 L56.0,213.15 L55.5,213.15 L55.0,213.14 L54.5,213.14 L54.0,213.14 L53.5,213.14 L53.0,213.13 L52.5,213.13 L52.0,213.13 L51.5,213.13 L51.0,213.12 L50.5,213.12 L50.0,213.12 L49.5,213.12 L49.0,213.11 L48.5,213.11 L48.0,213.11 L47.5,213.11 L47.0,213.11 L46.5,213.10 L46.0,213.10Z" fill="#fdf1f7" stroke="none"/>
<path d="M46.5,200.5V213.1M48.5,200.5V213.1M50.5,200.5V213.1M52.5,200.5V213.1M54.5,200.5V213.1M56.5,200.6V213.1M58.5,200.6V213.2M60.5,200.6V213.2M62.5,200.6V213.2M64.5,200.6V213.2M66.5,200.6V213.2M68.5,200.6V213.2M70.5,200.6V213.2M72.5,200.6V213.2M74.5,200.6V213.2M76.5,200.7V213.2M78.5,200.7V213.2M80.5,200.7V213.3M82.5,200.7V213.3M84.5,200.7V213.3M86.5,200.7V213.3M88.5,200.7V213.3M90.5,200.7V213.3M92.5,200.7V213.3M94.5,200.7V213.3M96.5,200.8V213.3M98.5,200.8V213.3M100.5,200.8V213.3M102.5,200.8V213.4M104.5,200.8V213.4M106.5,200.8V213.4M108.5,200.8V213.4M110.5,200.8V213.4M112.5,200.9V213.4M114.5,200.9V213.4M116.5,200.9V213.4M118.5,200.9V213.5M120.5,200.9V213.5M122.5,200.9V213.5M124.5,201.0V213.5M126.5,201.0V213.5M128.5,201.0V213.5M130.5,201.0V213.6M132.5,201.0V213.6M134.5,201.1V213.6M136.5,201.1V213.6M138.5,201.1V213.6M140.5,201.1V213.7M142.5,201.2V213.7M144.5,201.2V213.7M146.5,201.2V213.7M148.5,201.2V213.8M150.5,201.3V213.8M152.5,201.3V213.8M154.5,201.3V213.9M156.5,201.4V213.9M158.5,201.4V213.9M160.5,201.4V214.0M162.5,201.5V214.0M164.5,201.5V214.0M166.5,201.6V214.1M168.5,201.6V214.1M170.5,201.6V214.2M172.5,201.7V214.2M174.5,201.7V214.2M176.5,201.8V214.3M178.5,201.8V214.3M180.5,201.9V214.4M182.5,202.0V214.5M184.5,202.0V214.6M186.5,202.1V214.6M188.5,202.2V214.7M190.5,202.3V214.9M192.5,202.5V215.0M194.5,202.6V215.1M196.5,202.7V215.2M198.5,202.8V215.3M200.5,202.9V215.4M202.5,203.1V215.6M204.5,203.2V215.7M206.5,203.3V215.8M208.5,203.5V216.0M210.5,203.6V216.1M212.5,203.8V216.2M214.5,203.9V216.4M216.5,204.0V216.5M218.5,204.2V216.6M220.5,204.3V216.8M222.5,204.4V216.9M224.5,204.5V217.0M226.5,204.6V217.1M228.5,204.8V217.2M230.5,204.9V217.3M232.5,205.0V217.4M234.5,205.0V217.5M236.5,205.1V217.6M238.5,205.2V217.7M240.5,205.3V217.7M242.5,205.3V217.8M244.5,205.4V217.8M246.5,205.4V217.9M248.5,205.5V218.0M250.5,205.5V218.0M252.5,205.6V218.1M254.5,205.6V218.1M256.5,205.7V218.2M258.5,205.7V218.2M260.5,205.8V218.2M262.5,205.8V218.3M264.5,205.9V218.3M266.5,205.9V218.4M268.5,206.0V218.4M270.5,206.0V218.4M272.5,206.0V218.5M274.5,206.1V218.5M276.5,206.1V218.6M278.5,206.1V218.6M280.5,206.2V218.6M282.5,206.2V218.7M284.5,206.2V218.7M286.5,206.3V218.7M288.5,206.3V218.8M290.5,206.3V218.8M292.5,206.4V218.8M294.5,206.4V218.8M296.5,206.4V218.9M298.5,206.5V218.9M300.5,206.5V218.9M302.5,206.5V218.9M304.5,206.5V219.0M306.5,206.6V219.0M308.5,206.6V219.0M310.5,206.6V219.0M312.5,206.6V219.0M314.5,206.6V219.1M316.5,206.7V219.1M318.5,206.7V219.1M320.5,206.7V219.1M322.5,206.7V219.1M324.5,206.7V219.2M326.5,206.8V219.2M328.5,206.8V219.2M330.5,206.8V219.2M332.5,206.8V219.2M334.5,206.8V219.2M336.5,206.8V219.3M338.5,206.9V219.3M340.5,206.9V219.3M342.5,206.9V219.3M344.5,206.9V219.3M346.5,206.9V219.3M348.5,206.9V219.4M350.5,207.0V219.4M352.5,207.0V219.4" stroke="#e9a3c4" stroke-width="1.0" fill="none" opacity="0.25"/>
<path d="M43.5,200.5h5M43.5,213.1h5M45.5,200.5h5M45.5,213.1h5M47.5,200.5h5M47.5,213.1h5M49.5,200.5h5M49.5,213.1h5M51.5,200.5h5M51.5,213.1h5M53.5,200.6h5M53.5,213.1h5M55.5,200.6h5M55.5,213.2h5M57.5,200.6h5M57.5,213.2h5M59.5,200.6h5M59.5,213.2h5M61.5,200.6h5M61.5,213.2h5M63.5,200.6h5M63.5,213.2h5M65.5,200.6h5M65.5,213.2h5M67.5,200.6h5M67.5,213.2h5M69.5,200.6h5M69.5,213.2h5M71.5,200.6h5M71.5,213.2h5M73.5,200.7h5M73.5,213.2h5M75.5,200.7h5M75.5,213.2h5M77.5,200.7h5M77.5,213.3h5M79.5,200.7h5M79.5,213.3h5M81.5,200.7h5M81.5,213.3h5M83.5,200.7h5M83.5,213.3h5M85.5,200.7h5M85.5,213.3h5M87.5,200.7h5M87.5,213.3h5M89.5,200.7h5M89.5,213.3h5M91.5,200.7h5M91.5,213.3h5M93.5,200.8h5M93.5,213.3h5M95.5,200.8h5M95.5,213.3h5M97.5,200.8h5M97.5,213.3h5M99.5,200.8h5M99.5,213.4h5M101.5,200.8h5M101.5,213.4h5M103.5,200.8h5M103.5,213.4h5M105.5,200.8h5M105.5,213.4h5M107.5,200.8h5M107.5,213.4h5M109.5,200.9h5M109.5,213.4h5M111.5,200.9h5M111.5,213.4h5M113.5,200.9h5M113.5,213.4h5M115.5,200.9h5M115.5,213.5h5M117.5,200.9h5M117.5,213.5h5M119.5,200.9h5M119.5,213.5h5M121.5,201.0h5M121.5,213.5h5M123.5,201.0h5M123.5,213.5h5M125.5,201.0h5M125.5,213.5h5M127.5,201.0h5M127.5,213.6h5M129.5,201.0h5M129.5,213.6h5M131.5,201.1h5M131.5,213.6h5M133.5,201.1h5M133.5,213.6h5M135.5,201.1h5M135.5,213.6h5M137.5,201.1h5M137.5,213.7h5M139.5,201.2h5M139.5,213.7h5M141.5,201.2h5M141.5,213.7h5M143.5,201.2h5M143.5,213.7h5M145.5,201.2h5M145.5,213.8h5M147.5,201.3h5M147.5,213.8h5M149.5,201.3h5M149.5,213.8h5M151.5,201.3h5M151.5,213.9h5M153.5,201.4h5M153.5,213.9h5M155.5,201.4h5M155.5,213.9h5M157.5,201.4h5M157.5,214.0h5M159.5,201.5h5M159.5,214.0h5M161.5,201.5h5M161.5,214.0h5M163.5,201.6h5M163.5,214.1h5M165.5,201.6h5M165.5,214.1h5M167.5,201.6h5M167.5,214.2h5M169.5,201.7h5M169.5,214.2h5M171.5,201.7h5M171.5,214.2h5M173.5,201.8h5M173.5,214.3h5M175.5,201.8h5M175.5,214.3h5M177.5,201.9h5M177.5,214.4h5M179.5,202.0h5M179.5,214.5h5M181.5,202.0h5M181.5,214.6h5M183.5,202.1h5M183.5,214.6h5M185.5,202.2h5M185.5,214.7h5M187.5,202.3h5M187.5,214.9h5M189.5,202.5h5M189.5,215.0h5M191.5,202.6h5M191.5,215.1h5M193.5,202.7h5M193.5,215.2h5M195.5,202.8h5M195.5,215.3h5M197.5,202.9h5M197.5,215.4h5M199.5,203.1h5M199.5,215.6h5M201.5,203.2h5M201.5,215.7h5M203.5,203.3h5M203.5,215.8h5M205.5,203.5h5M205.5,216.0h5M207.5,203.6h5M207.5,216.1h5M209.5,203.8h5M209.5,216.2h5M211.5,203.9h5M211.5,216.4h5M213.5,204.0h5M213.5,216.5h5M215.5,204.2h5M215.5,216.6h5M217.5,204.3h5M217.5,216.8h5M219.5,204.4h5M219.5,216.9h5M221.5,204.5h5M221.5,217.0h5M223.5,204.6h5M223.5,217.1h5M225.5,204.8h5M225.5,217.2h5M227.5,204.9h5M227.5,217.3h5M229.5,205.0h5M229.5,217.4h5M231.5,205.0h5M231.5,217.5h5M233.5,205.1h5M233.5,217.6h5M235.5,205.2h5M235.5,217.7h5M237.5,205.3h5M237.5,217.7h5M239.5,205.3h5M239.5,217.8h5M241.5,205.4h5M241.5,217.8h5M243.5,205.4h5M243.5,217.9h5M245.5,205.5h5M245.5,218.0h5M247.5,205.5h5M247.5,218.0h5M249.5,205.6h5M249.5,218.1h5M251.5,205.6h5M251.5,218.1h5M253.5,205.7h5M253.5,218.2h5M255.5,205.7h5M255.5,218.2h5M257.5,205.8h5M257.5,218.2h5M259.5,205.8h5M259.5,218.3h5M261.5,205.9h5M261.5,218.3h5M263.5,205.9h5M263.5,218.4h5M265.5,206.0h5M265.5,218.4h5M267.5,206.0h5M267.5,218.4h5M269.5,206.0h5M269.5,218.5h5M271.5,206.1h5M271.5,218.5h5M273.5,206.1h5M273.5,218.6h5M275.5,206.1h5M275.5,218.6h5M277.5,206.2h5M277.5,218.6h5M279.5,206.2h5M279.5,218.7h5M281.5,206.2h5M281.5,218.7h5M283.5,206.3h5M283.5,218.7h5M285.5,206.3h5M285.5,218.8h5M287.5,206.3h5M287.5,218.8h5M289.5,206.4h5M289.5,218.8h5M291.5,206.4h5M291.5,218.8h5M293.5,206.4h5M293.5,218.9h5M295.5,206.5h5M295.5,218.9h5M297.5,206.5h5M297.5,218.9h5M299.5,206.5h5M299.5,218.9h5M301.5,206.5h5M301.5,219.0h5M303.5,206.6h5M303.5,219.0h5M305.5,206.6h5M305.5,219.0h5M307.5,206.6h5M307.5,219.0h5M309.5,206.6h5M309.5,219.0h5M311.5,206.6h5M311.5,219.1h5M313.5,206.7h5M313.5,219.1h5M315.5,206.7h5M315.5,219.1h5M317.5,206.7h5M317.5,219.1h5M319.5,206.7h5M319.5,219.1h5M321.5,206.7h5M321.5,219.2h5M323.5,206.8h5M323.5,219.2h5M325.5,206.8h5M325.5,219.2h5M327.5,206.8h5M327.5,219.2h5M329.5,206.8h5M329.5,219.2h5M331.5,206.8h5M331.5,219.2h5M333.5,206.8h5M333.5,219.3h5M335.5,206.9h5M335.5,219.3h5M337.5,206.9h5M337.5,219.3h5M339.5,206.9h5M339.5,219.3h5M341.5,206.9h5M341.5,219.3h5M343.5,206.9h5M343.5,219.3h5M345.5,206.9h5M345.5,219.4h5M347.5,207.0h5M347.5,219.4h5M349.5,207.0h5M349.5,219.4h5" stroke="#dfb0ca" stroke-width="0.9" fill="none" opacity="0.75"/>
<path d="M46.0,206.80 L46.5,206.80 L47.0,206.81 L47.5,206.81 L48.0,206.81 L48.5,206.81 L49.0,206.82 L49.5,206.82 L50.0,206.82 L50.5,206.82 L51.0,206.83 L51.5,206.83 L52.0,206.83 L52.5,206.83 L53.0,206.84 L53.5,206.84 L54.0,206.84 L54.5,206.84 L55.0,206.85 L55.5,206.85 L56.0,206.85 L56.5,206.85 L57.0,206.86 L57.5,206.86 L58.0,206.86 L58.5,206.86 L59.0,206.87 L59.5,206.87 L60.0,206.87 L60.5,206.87 L61.0,206.87 L61.5,206.88 L62.0,206.88 L62.5,206.88 L63.0,206.88 L63.5,206.89 L64.0,206.89 L64.5,206.89 L65.0,206.89 L65.5,206.90 L66.0,206.90 L66.5,206.90 L67.0,206.90 L67.5,206.90 L68.0,206.91 L68.5,206.91 L69.0,206.91 L69.5,206.91 L70.0,206.92 L70.5,206.92 L71.0,206.92 L71.5,206.92 L72.0,206.92 L72.5,206.93 L73.0,206.93 L73.5,206.93 L74.0,206.93 L74.5,206.94 L75.0,206.94 L75.5,206.94 L76.0,206.94 L76.5,206.95 L77.0,206.95 L77.5,206.95 L78.0,206.95 L78.5,206.95 L79.0,206.96 L79.5,206.96 L80.0,206.96 L80.5,206.96 L81.0,206.97 L81.5,206.97 L82.0,206.97 L82.5,206.97 L83.0,206.98 L83.5,206.98 L84.0,206.98 L84.5,206.98 L85.0,206.99 L85.5,206.99 L86.0,206.99 L86.5,206.99 L87.0,206.99 L87.5,207.00 L88.0,207.00 L88.5,207.00 L89.0,207.00 L89.5,207.01 L90.0,207.01 L90.5,207.01 L91.0,207.01 L91.5,207.02 L92.0,207.02 L92.5,207.02 L93.0,207.03 L93.5,207.03 L94.0,207.03 L94.5,207.03 L95.0,207.04 L95.5,207.04 L96.0,207.04 L96.5,207.04 L97.0,207.05 L97.5,207.05 L98.0,207.05 L98.5,207.06 L99.0,207.06 L99.5,207.06 L100.0,207.06 L100.5,207.07 L101.0,207.07 L101.5,207.07 L102.0,207.08 L102.5,207.08 L103.0,207.08 L103.5,207.08 L104.0,207.09 L104.5,207.09 L105.0,207.09 L105.5,207.10 L106.0,207.10 L106.5,207.10 L107.0,207.11 L107.5,207.11 L108.0,207.11 L108.5,207.12 L109.0,207.12 L109.5,207.12 L110.0,207.13 L110.5,207.13 L111.0,207.13 L111.5,207.14 L112.0,207.14 L112.5,207.14 L113.0,207.15 L113.5,207.15 L114.0,207.15 L114.5,207.16 L115.0,207.16 L115.5,207.17 L116.0,207.17 L116.5,207.17 L117.0,207.18 L117.5,207.18 L118.0,207.18 L118.5,207.19 L119.0,207.19 L119.5,207.20 L120.0,207.20 L120.5,207.20 L121.0,207.21 L121.5,207.21 L122.0,207.22 L122.5,207.22 L123.0,207.23 L123.5,207.23 L124.0,207.23 L124.5,207.24 L125.0,207.24 L125.5,207.25 L126.0,207.25 L126.5,207.26 L127.0,207.26 L127.5,207.27 L128.0,207.27 L128.5,207.28 L129.0,207.28 L129.5,207.29 L130.0,207.29 L130.5,207.30 L131.0,207.30 L131.5,207.31 L132.0,207.31 L132.5,207.32 L133.0,207.32 L133.5,207.33 L134.0,207.33 L134.5,207.34 L135.0,207.34 L135.5,207.35 L136.0,207.35 L136.5,207.36 L137.0,207.37 L137.5,207.37 L138.0,207.38 L138.5,207.38 L139.0,207.39 L139.5,207.40 L140.0,207.40 L140.5,207.41 L141.0,207.41 L141.5,207.42 L142.0,207.43 L142.5,207.43 L143.0,207.44 L143.5,207.45 L144.0,207.45 L144.5,207.46 L145.0,207.47 L145.5,207.47 L146.0,207.48 L146.5,207.49 L147.0,207.49 L147.5,207.50 L148.0,207.51 L148.5,207.51 L149.0,207.52 L149.5,207.53 L150.0,207.54 L150.5,207.54 L151.0,207.55 L151.5,207.56 L152.0,207.57 L152.5,207.57 L153.0,207.58 L153.5,207.59 L154.0,207.60 L154.5,207.61 L155.0,207.61 L155.5,207.62 L156.0,207.63 L156.5,207.64 L157.0,207.65 L157.5,207.66 L158.0,207.66 L158.5,207.67 L159.0,207.68 L159.5,207.69 L160.0,207.70 L160.5,207.71 L161.0,207.72 L161.5,207.73 L162.0,207.74 L162.5,207.74 L163.0,207.75 L163.5,207.76 L164.0,207.77 L164.5,207.78 L165.0,207.79 L165.5,207.80 L166.0,207.81 L166.5,207.82 L167.0,207.83 L167.5,207.84 L168.0,207.85 L168.5,207.86 L169.0,207.87 L169.5,207.88 L170.0,207.89 L170.5,207.90 L171.0,207.91 L171.5,207.92 L172.0,207.93 L172.5,207.94 L173.0,207.96 L173.5,207.97 L174.0,207.98 L174.5,207.99 L175.0,208.00 L175.5,208.01 L176.0,208.03 L176.5,208.04 L177.0,208.05 L177.5,208.07 L178.0,208.08 L178.5,208.10 L179.0,208.11 L179.5,208.13 L180.0,208.15 L180.5,208.16 L181.0,208.18 L181.5,208.20 L182.0,208.22 L182.5,208.24 L183.0,208.26 L183.5,208.28 L184.0,208.30 L184.5,208.33 L185.0,208.35 L185.5,208.37 L186.0,208.39 L186.5,208.42 L187.0,208.44 L187.5,208.47 L188.0,208.49 L188.5,208.52 L189.0,208.54 L189.5,208.57 L190.0,208.60 L190.5,208.62 L191.0,208.65 L191.5,208.68 L192.0,208.71 L192.5,208.74 L193.0,208.77 L193.5,208.79 L194.0,208.82 L194.5,208.85 L195.0,208.88 L195.5,208.91 L196.0,208.94 L196.5,208.98 L197.0,209.01 L197.5,209.04 L198.0,209.07 L198.5,209.10 L199.0,209.13 L199.5,209.17 L200.0,209.20 L200.5,209.23 L201.0,209.26 L201.5,209.30 L202.0,209.33 L202.5,209.36 L203.0,209.39 L203.5,209.43 L204.0,209.46 L204.5,209.50 L205.0,209.53 L205.5,209.56 L206.0,209.60 L206.5,209.63 L207.0,209.66 L207.5,209.70 L208.0,209.73 L208.5,209.77 L209.0,209.80 L209.5,209.83 L210.0,209.87 L210.5,209.90 L211.0,209.94 L211.5,209.97 L212.0,210.00 L212.5,210.04 L213.0,210.07 L213.5,210.10 L214.0,210.14 L214.5,210.17 L215.0,210.20 L215.5,210.24 L216.0,210.27 L216.5,210.30 L217.0,210.34 L217.5,210.37 L218.0,210.40 L218.5,210.43 L219.0,210.46 L219.5,210.50 L220.0,210.53 L220.5,210.56 L221.0,210.59 L221.5,210.62 L222.0,210.65 L222.5,210.68 L223.0,210.71 L223.5,210.74 L224.0,210.77 L224.5,210.80 L225.0,210.83 L225.5,210.86 L226.0,210.89 L226.5,210.91 L227.0,210.94 L227.5,210.97 L228.0,210.99 L228.5,211.02 L229.0,211.05 L229.5,211.07 L230.0,211.10 L230.5,211.12 L231.0,211.15 L231.5,211.17 L232.0,211.19 L232.5,211.22 L233.0,211.24 L233.5,211.26 L234.0,211.28 L234.5,211.30 L235.0,211.32 L235.5,211.34 L236.0,211.36 L236.5,211.38 L237.0,211.40 L237.5,211.42 L238.0,211.44 L238.5,211.45 L239.0,211.47 L239.5,211.48 L240.0,211.50 L240.5,211.51 L241.0,211.53 L241.5,211.54 L242.0,211.56 L242.5,211.57 L243.0,211.59 L243.5,211.60 L244.0,211.61 L244.5,211.63 L245.0,211.64 L245.5,211.65 L246.0,211.67 L246.5,211.68 L247.0,211.69 L247.5,211.71 L248.0,211.72 L248.5,211.73 L249.0,211.75 L249.5,211.76 L250.0,211.77 L250.5,211.79 L251.0,211.80 L251.5,211.81 L252.0,211.82 L252.5,211.84 L253.0,211.85 L253.5,211.86 L254.0,211.87 L254.5,211.88 L255.0,211.90 L255.5,211.91 L256.0,211.92 L256.5,211.93 L257.0,211.94 L257.5,211.96 L258.0,211.97 L258.5,211.98 L259.0,211.99 L259.5,212.00 L260.0,212.01 L260.5,212.02 L261.0,212.03 L261.5,212.05 L262.0,212.06 L262.5,212.07 L263.0,212.08 L263.5,212.09 L264.0,212.10 L264.5,212.11 L265.0,212.12 L265.5,212.13 L266.0,212.14 L266.5,212.15 L267.0,212.16 L267.5,212.17 L268.0,212.18 L268.5,212.19 L269.0,212.20 L269.5,212.21 L270.0,212.22 L270.5,212.23 L271.0,212.24 L271.5,212.25 L272.0,212.26 L272.5,212.27 L273.0,212.28 L273.5,212.29 L274.0,212.30 L274.5,212.31 L275.0,212.32 L275.5,212.33 L276.0,212.34 L276.5,212.34 L277.0,212.35 L277.5,212.36 L278.0,212.37 L278.5,212.38 L279.0,212.39 L279.5,212.40 L280.0,212.41 L280.5,212.41 L281.0,212.42 L281.5,212.43 L282.0,212.44 L282.5,212.45 L283.0,212.46 L283.5,212.46 L284.0,212.47 L284.5,212.48 L285.0,212.49 L285.5,212.50 L286.0,212.50 L286.5,212.51 L287.0,212.52 L287.5,212.53 L288.0,212.53 L288.5,212.54 L289.0,212.55 L289.5,212.56 L290.0,212.56 L290.5,212.57 L291.0,212.58 L291.5,212.59 L292.0,212.59 L292.5,212.60 L293.0,212.61 L293.5,212.61 L294.0,212.62 L294.5,212.63 L295.0,212.63 L295.5,212.64 L296.0,212.65 L296.5,212.65 L297.0,212.66 L297.5,212.67 L298.0,212.67 L298.5,212.68 L299.0,212.69 L299.5,212.69 L300.0,212.70 L300.5,212.71 L301.0,212.71 L301.5,212.72 L302.0,212.72 L302.5,212.73 L303.0,212.74 L303.5,212.74 L304.0,212.75 L304.5,212.75 L305.0,212.76 L305.5,212.77 L306.0,212.77 L306.5,212.78 L307.0,212.78 L307.5,212.79 L308.0,212.79 L308.5,212.80 L309.0,212.80 L309.5,212.81 L310.0,212.81 L310.5,212.82 L311.0,212.83 L311.5,212.83 L312.0,212.84 L312.5,212.84 L313.0,212.85 L313.5,212.85 L314.0,212.86 L314.5,212.86 L315.0,212.87 L315.5,212.87 L316.0,212.87 L316.5,212.88 L317.0,212.88 L317.5,212.89 L318.0,212.89 L318.5,212.90 L319.0,212.90 L319.5,212.91 L320.0,212.91 L320.5,212.92 L321.0,212.92 L321.5,212.93 L322.0,212.93 L322.5,212.93 L323.0,212.94 L323.5,212.94 L324.0,212.95 L324.5,212.95 L325.0,212.96 L325.5,212.96 L326.0,212.96 L326.5,212.97 L327.0,212.97 L327.5,212.98 L328.0,212.98 L328.5,212.99 L329.0,212.99 L329.5,212.99 L330.0,213.00 L330.5,213.00 L331.0,213.01 L331.5,213.01 L332.0,213.02 L332.5,213.02 L333.0,213.02 L333.5,213.03 L334.0,213.03 L334.5,213.04 L335.0,213.04 L335.5,213.04 L336.0,213.05 L336.5,213.05 L337.0,213.06 L337.5,213.06 L338.0,213.06 L338.5,213.07 L339.0,213.07 L339.5,213.08 L340.0,213.08 L340.5,213.09 L341.0,213.09 L341.5,213.09 L342.0,213.10 L342.5,213.10 L343.0,213.11 L343.5,213.11 L344.0,213.11 L344.5,213.12 L345.0,213.12 L345.5,213.13 L346.0,213.13 L346.5,213.14 L347.0,213.14 L347.5,213.14 L348.0,213.15 L348.5,213.15 L349.0,213.16 L349.5,213.16 L350.0,213.17 L350.5,213.17 L351.0,213.18 L351.5,213.18 L352.0,213.18 L352.5,213.19 L353.0,213.19 L353.5,213.19" stroke="#c9799d" stroke-width="1.8" fill="none" stroke-linejoin="round"/></g>
<g clip-path="url(#plotclip)"><path d="M46.0,112.20 L46.5,112.20 L47.0,112.20 L47.5,112.19 L48.0,112.19 L48.5,112.19 L49.0,112.19 L49.5,112.19 L50.0,112.18 L50.5,112.18 L51.0,112.18 L51.5,112.18 L52.0,112.17 L52.5,112.17 L53.0,112.17 L53.5,112.17 L54.0,112.16 L54.5,112.16 L55.0,112.16 L55.5,112.16 L56.0,112.15 L56.5,112.15 L57.0,112.15 L57.5,112.15 L58.0,112.14 L58.5,112.14 L59.0,112.14 L59.5,112.14 L60.0,112.13 L60.5,112.13 L61.0,112.13 L61.5,112.13 L62.0,112.12 L62.5,112.12 L63.0,112.12 L63.5,112.12 L64.0,112.11 L64.5,112.11 L65.0,112.11 L65.5,112.11 L66.0,112.10 L66.5,112.10 L67.0,112.10 L67.5,112.09 L68.0,112.09 L68.5,112.09 L69.0,112.09 L69.5,112.08 L70.0,112.08 L70.5,112.08 L71.0,112.08 L71.5,112.07 L72.0,112.07 L72.5,112.07 L73.0,112.07 L73.5,112.06 L74.0,112.06 L74.5,112.06 L75.0,112.05 L75.5,112.05 L76.0,112.05 L76.5,112.05 L77.0,112.04 L77.5,112.04 L78.0,112.04 L78.5,112.04 L79.0,112.03 L79.5,112.03 L80.0,112.03 L80.5,112.03 L81.0,112.02 L81.5,112.02 L82.0,112.02 L82.5,112.02 L83.0,112.01 L83.5,112.01 L84.0,112.01 L84.5,112.00 L85.0,112.00 L85.5,112.00 L86.0,112.00 L86.5,112.00 L87.0,111.99 L87.5,111.99 L88.0,111.99 L88.5,111.99 L89.0,111.98 L89.5,111.98 L90.0,111.98 L90.5,111.98 L91.0,111.97 L91.5,111.97 L92.0,111.97 L92.5,111.97 L93.0,111.97 L93.5,111.96 L94.0,111.96 L94.5,111.96 L95.0,111.96 L95.5,111.95 L96.0,111.95 L96.5,111.95 L97.0,111.95 L97.5,111.95 L98.0,111.95 L98.5,111.94 L99.0,111.94 L99.5,111.94 L100.0,111.94 L100.5,111.94 L101.0,111.93 L101.5,111.93 L102.0,111.93 L102.5,111.93 L103.0,111.93 L103.5,111.93 L104.0,111.93 L104.5,111.92 L105.0,111.92 L105.5,111.92 L106.0,111.92 L106.5,111.92 L107.0,111.92 L107.5,111.92 L108.0,111.91 L108.5,111.91 L109.0,111.91 L109.5,111.91 L110.0,111.91 L110.5,111.91 L111.0,111.91 L111.5,111.91 L112.0,111.91 L112.5,111.91 L113.0,111.91 L113.5,111.90 L114.0,111.90 L114.5,111.90 L115.0,111.90 L115.5,111.90 L116.0,111.90 L116.5,111.90 L117.0,111.90 L117.5,111.90 L118.0,111.90 L118.5,111.90 L119.0,111.90 L119.5,111.90 L120.0,111.90 L120.5,111.90 L121.0,111.90 L121.5,111.90 L122.0,111.90 L122.5,111.90 L123.0,111.90 L123.5,111.90 L124.0,111.90 L124.5,111.90 L125.0,111.90 L125.5,111.90 L126.0,111.90 L126.5,111.90 L127.0,111.90 L127.5,111.90 L128.0,111.90 L128.5,111.90 L129.0,111.90 L129.5,111.90 L130.0,111.90 L130.5,111.91 L131.0,111.91 L131.5,111.91 L132.0,111.91 L132.5,111.91 L133.0,111.91 L133.5,111.91 L134.0,111.91 L134.5,111.91 L135.0,111.91 L135.5,111.91 L136.0,111.91 L136.5,111.91 L137.0,111.92 L137.5,111.92 L138.0,111.92 L138.5,111.92 L139.0,111.92 L139.5,111.92 L140.0,111.92 L140.5,111.93 L141.0,111.93 L141.5,111.93 L142.0,111.93 L142.5,111.93 L143.0,111.93 L143.5,111.94 L144.0,111.94 L144.5,111.94 L145.0,111.94 L145.5,111.94 L146.0,111.95 L146.5,111.95 L147.0,111.95 L147.5,111.95 L148.0,111.96 L148.5,111.96 L149.0,111.96 L149.5,111.96 L150.0,111.97 L150.5,111.97 L151.0,111.97 L151.5,111.98 L152.0,111.98 L152.5,111.98 L153.0,111.99 L153.5,111.99 L154.0,111.99 L154.5,112.00 L155.0,112.00 L155.5,112.00 L156.0,112.01 L156.5,112.01 L157.0,112.01 L157.5,112.02 L158.0,112.02 L158.5,112.03 L159.0,112.03 L159.5,112.04 L160.0,112.04 L160.5,112.05 L161.0,112.05 L161.5,112.06 L162.0,112.06 L162.5,112.07 L163.0,112.07 L163.5,112.08 L164.0,112.08 L164.5,112.09 L165.0,112.09 L165.5,112.10 L166.0,112.10 L166.5,112.11 L167.0,112.12 L167.5,112.12 L168.0,112.13 L168.5,112.14 L169.0,112.14 L169.5,112.15 L170.0,112.16 L170.5,112.16 L171.0,112.14 L171.5,112.11 L172.0,112.07 L172.5,112.02 L173.0,111.97 L173.5,111.93 L174.0,111.91 L174.5,111.91 L175.0,111.93 L175.5,111.97 L176.0,112.03 L176.5,112.12 L177.0,112.25 L177.5,112.42 L178.0,112.66 L178.5,112.95 L179.0,113.30 L179.5,113.72 L180.0,114.19 L180.5,114.77 L181.0,115.50 L181.5,116.38 L182.0,117.44 L182.5,118.66 L183.0,119.97 L183.5,121.34 L184.0,122.73 L184.5,124.15 L185.0,125.59 L185.5,127.07 L186.0,128.59 L186.5,130.14 L187.0,131.71 L187.5,133.28 L188.0,134.85 L188.5,136.41 L189.0,137.94 L189.5,139.45 L190.0,140.95 L190.5,142.43 L191.0,143.91 L191.5,145.38 L192.0,146.82 L192.5,148.25 L193.0,149.64 L193.5,151.00 L194.0,152.32 L194.5,153.61 L195.0,154.88 L195.5,156.14 L196.0,157.40 L196.5,158.64 L197.0,159.86 L197.5,161.05 L198.0,162.20 L198.5,163.29 L199.0,164.32 L199.5,165.27 L200.0,166.13 L200.5,166.90 L201.0,167.58 L201.5,168.19 L202.0,168.73 L202.5,169.22 L203.0,169.69 L203.5,170.12 L204.0,170.54 L204.5,170.93 L205.0,171.30 L205.5,171.66 L206.0,171.99 L206.5,172.32 L207.0,172.62 L207.5,172.92 L208.0,173.21 L208.5,173.49 L209.0,173.76 L209.5,174.02 L210.0,174.28 L210.5,174.54 L211.0,174.79 L211.5,175.04 L212.0,175.28 L212.5,175.52 L213.0,175.76 L213.5,175.99 L214.0,176.22 L214.5,176.44 L215.0,176.66 L215.5,176.88 L216.0,177.09 L216.5,177.30 L217.0,177.51 L217.5,177.71 L218.0,177.91 L218.5,178.10 L219.0,178.29 L219.5,178.48 L220.0,178.66 L220.5,178.84 L221.0,179.02 L221.5,179.19 L222.0,179.36 L222.5,179.52 L223.0,179.68 L223.5,179.84 L224.0,180.00 L224.5,180.15 L225.0,180.30 L225.5,180.44 L226.0,180.58 L226.5,180.72 L227.0,180.85 L227.5,180.98 L228.0,181.11 L228.5,181.24 L229.0,181.36 L229.5,181.48 L230.0,181.60 L230.5,181.72 L231.0,181.84 L231.5,181.95 L232.0,182.06 L232.5,182.18 L233.0,182.29 L233.5,182.39 L234.0,182.50 L234.5,182.61 L235.0,182.71 L235.5,182.81 L236.0,182.91 L236.5,183.01 L237.0,183.11 L237.5,183.21 L238.0,183.30 L238.5,183.40 L239.0,183.49 L239.5,183.58 L240.0,183.67 L240.5,183.76 L241.0,183.84 L241.5,183.93 L242.0,184.02 L242.5,184.10 L243.0,184.18 L243.5,184.27 L244.0,184.35 L244.5,184.43 L245.0,184.51 L245.5,184.58 L246.0,184.66 L246.5,184.74 L247.0,184.81 L247.5,184.89 L248.0,184.96 L248.5,185.04 L249.0,185.11 L249.5,185.18 L250.0,185.25 L250.5,185.32 L251.0,185.39 L251.5,185.46 L252.0,185.53 L252.5,185.60 L253.0,185.67 L253.5,185.73 L254.0,185.80 L254.5,185.87 L255.0,185.93 L255.5,186.00 L256.0,186.06 L256.5,186.13 L257.0,186.19 L257.5,186.26 L258.0,186.32 L258.5,186.38 L259.0,186.45 L259.5,186.51 L260.0,186.57 L260.5,186.63 L261.0,186.69 L261.5,186.75 L262.0,186.81 L262.5,186.87 L263.0,186.93 L263.5,186.99 L264.0,187.05 L264.5,187.11 L265.0,187.16 L265.5,187.22 L266.0,187.28 L266.5,187.34 L267.0,187.39 L267.5,187.45 L268.0,187.50 L268.5,187.56 L269.0,187.61 L269.5,187.67 L270.0,187.72 L270.5,187.78 L271.0,187.83 L271.5,187.88 L272.0,187.93 L272.5,187.99 L273.0,188.04 L273.5,188.09 L274.0,188.14 L274.5,188.19 L275.0,188.24 L275.5,188.30 L276.0,188.35 L276.5,188.40 L277.0,188.45 L277.5,188.50 L278.0,188.54 L278.5,188.59 L279.0,188.64 L279.5,188.69 L280.0,188.74 L280.5,188.79 L281.0,188.84 L281.5,188.88 L282.0,188.93 L282.5,188.98 L283.0,189.02 L283.5,189.07 L284.0,189.12 L284.5,189.16 L285.0,189.21 L285.5,189.26 L286.0,189.30 L286.5,189.35 L287.0,189.39 L287.5,189.44 L288.0,189.48 L288.5,189.53 L289.0,189.57 L289.5,189.62 L290.0,189.66 L290.5,189.70 L291.0,189.75 L291.5,189.79 L292.0,189.83 L292.5,189.88 L293.0,189.92 L293.5,189.96 L294.0,190.01 L294.5,190.05 L295.0,190.09 L295.5,190.14 L296.0,190.18 L296.5,190.22 L297.0,190.26 L297.5,190.31 L298.0,190.35 L298.5,190.39 L299.0,190.43 L299.5,190.47 L300.0,190.52 L300.5,190.56 L301.0,190.60 L301.5,190.64 L302.0,190.68 L302.5,190.72 L303.0,190.76 L303.5,190.80 L304.0,190.84 L304.5,190.88 L305.0,190.92 L305.5,190.96 L306.0,191.00 L306.5,191.04 L307.0,191.08 L307.5,191.12 L308.0,191.16 L308.5,191.19 L309.0,191.23 L309.5,191.27 L310.0,191.31 L310.5,191.35 L311.0,191.38 L311.5,191.42 L312.0,191.46 L312.5,191.49 L313.0,191.53 L313.5,191.57 L314.0,191.60 L314.5,191.64 L315.0,191.68 L315.5,191.71 L316.0,191.75 L316.5,191.78 L317.0,191.82 L317.5,191.86 L318.0,191.89 L318.5,191.93 L319.0,191.96 L319.5,192.00 L320.0,192.03 L320.5,192.07 L321.0,192.10 L321.5,192.14 L322.0,192.17 L322.5,192.21 L323.0,192.24 L323.5,192.28 L324.0,192.31 L324.5,192.35 L325.0,192.38 L325.5,192.41 L326.0,192.45 L326.5,192.48 L327.0,192.52 L327.5,192.55 L328.0,192.59 L328.5,192.62 L329.0,192.65 L329.5,192.69 L330.0,192.72 L330.5,192.76 L331.0,192.79 L331.5,192.82 L332.0,192.86 L332.5,192.89 L333.0,192.93 L333.5,192.96 L334.0,193.00 L334.5,193.03 L335.0,193.06 L335.5,193.10 L336.0,193.13 L336.5,193.17 L337.0,193.20 L337.5,193.24 L338.0,193.27 L338.5,193.30 L339.0,193.34 L339.5,193.37 L340.0,193.41 L340.5,193.44 L341.0,193.48 L341.5,193.51 L342.0,193.55 L342.5,193.58 L343.0,193.62 L343.5,193.65 L344.0,193.69 L344.5,193.72 L345.0,193.76 L345.5,193.80 L346.0,193.83 L346.5,193.87 L347.0,193.90 L347.5,193.94 L348.0,193.98 L348.5,194.01 L349.0,194.05 L349.5,194.09 L350.0,194.12 L350.5,194.16 L351.0,194.20 L351.5,194.23 L352.0,194.27 L352.5,194.31 L353.0,194.34 L353.5,194.37 L353.5,200.37 L353.0,200.36 L352.5,200.34 L352.0,200.31 L351.5,200.29 L351.0,200.27 L350.5,200.24 L350.0,200.22 L349.5,200.19 L349.0,200.17 L348.5,200.14 L348.0,200.12 L347.5,200.09 L347.0,200.07 L346.5,200.04 L346.0,200.02 L345.5,199.99 L345.0,199.97 L344.5,199.95 L344.0,199.92 L343.5,199.90 L343.0,199.87 L342.5,199.85 L342.0,199.82 L341.5,199.80 L341.0,199.77 L340.5,199.75 L340.0,199.73 L339.5,199.70 L339.0,199.68 L338.5,199.65 L338.0,199.63 L337.5,199.60 L337.0,199.58 L336.5,199.55 L336.0,199.53 L335.5,199.50 L335.0,199.48 L334.5,199.46 L334.0,199.43 L333.5,199.41 L333.0,199.38 L332.5,199.36 L332.0,199.33 L331.5,199.31 L331.0,199.28 L330.5,199.26 L330.0,199.23 L329.5,199.21 L329.0,199.18 L328.5,199.15 L328.0,199.13 L327.5,199.10 L327.0,199.08 L326.5,199.05 L326.0,199.03 L325.5,199.00 L325.0,198.97 L324.5,198.95 L324.0,198.92 L323.5,198.89 L323.0,198.87 L322.5,198.84 L322.0,198.82 L321.5,198.79 L321.0,198.76 L320.5,198.73 L320.0,198.71 L319.5,198.68 L319.0,198.65 L318.5,198.62 L318.0,198.60 L317.5,198.57 L317.0,198.54 L316.5,198.51 L316.0,198.48 L315.5,198.46 L315.0,198.43 L314.5,198.40 L314.0,198.37 L313.5,198.34 L313.0,198.31 L312.5,198.28 L312.0,198.25 L311.5,198.22 L311.0,198.19 L310.5,198.16 L310.0,198.13 L309.5,198.10 L309.0,198.07 L308.5,198.04 L308.0,198.01 L307.5,197.98 L307.0,197.95 L306.5,197.91 L306.0,197.88 L305.5,197.85 L305.0,197.82 L304.5,197.79 L304.0,197.75 L303.5,197.72 L303.0,197.69 L302.5,197.65 L302.0,197.62 L301.5,197.59 L301.0,197.55 L300.5,197.52 L300.0,197.48 L299.5,197.45 L299.0,197.41 L298.5,197.38 L298.0,197.34 L297.5,197.31 L297.0,197.27 L296.5,197.24 L296.0,197.20 L295.5,197.17 L295.0,197.13 L294.5,197.10 L294.0,197.06 L293.5,197.03 L293.0,196.99 L292.5,196.95 L292.0,196.92 L291.5,196.88 L291.0,196.85 L290.5,196.81 L290.0,196.77 L289.5,196.74 L289.0,196.70 L288.5,196.66 L288.0,196.63 L287.5,196.59 L287.0,196.55 L286.5,196.51 L286.0,196.48 L285.5,196.44 L285.0,196.40 L284.5,196.36 L284.0,196.32 L283.5,196.28 L283.0,196.25 L282.5,196.21 L282.0,196.17 L281.5,196.13 L281.0,196.09 L280.5,196.05 L280.0,196.01 L279.5,195.97 L279.0,195.93 L278.5,195.89 L278.0,195.85 L277.5,195.81 L277.0,195.77 L276.5,195.73 L276.0,195.68 L275.5,195.64 L275.0,195.60 L274.5,195.56 L274.0,195.52 L273.5,195.47 L273.0,195.43 L272.5,195.39 L272.0,195.34 L271.5,195.30 L271.0,195.26 L270.5,195.21 L270.0,195.17 L269.5,195.12 L269.0,195.08 L268.5,195.03 L268.0,194.99 L267.5,194.94 L267.0,194.90 L266.5,194.85 L266.0,194.81 L265.5,194.76 L265.0,194.71 L264.5,194.66 L264.0,194.62 L263.5,194.57 L263.0,194.52 L262.5,194.47 L262.0,194.42 L261.5,194.37 L261.0,194.32 L260.5,194.27 L260.0,194.22 L259.5,194.17 L259.0,194.12 L258.5,194.07 L258.0,194.02 L257.5,193.97 L257.0,193.92 L256.5,193.86 L256.0,193.81 L255.5,193.76 L255.0,193.70 L254.5,193.65 L254.0,193.60 L253.5,193.54 L253.0,193.49 L252.5,193.43 L252.0,193.38 L251.5,193.32 L251.0,193.26 L250.5,193.21 L250.0,193.15 L249.5,193.09 L249.0,193.03 L248.5,192.97 L248.0,192.91 L247.5,192.85 L247.0,192.79 L246.5,192.73 L246.0,192.67 L245.5,192.61 L245.0,192.54 L244.5,192.48 L244.0,192.41 L243.5,192.35 L243.0,192.28 L242.5,192.21 L242.0,192.14 L241.5,192.07 L241.0,192.00 L240.5,191.93 L240.0,191.86 L239.5,191.78 L239.0,191.71 L238.5,191.63 L238.0,191.55 L237.5,191.48 L237.0,191.40 L236.5,191.32 L236.0,191.23 L235.5,191.15 L235.0,191.06 L234.5,190.98 L234.0,190.89 L233.5,190.80 L233.0,190.71 L232.5,190.62 L232.0,190.53 L231.5,190.43 L231.0,190.33 L230.5,190.24 L230.0,190.14 L229.5,190.04 L229.0,189.93 L228.5,189.83 L228.0,189.72 L227.5,189.61 L227.0,189.50 L226.5,189.39 L226.0,189.27 L225.5,189.15 L225.0,189.03 L224.5,188.90 L224.0,188.77 L223.5,188.64 L223.0,188.50 L222.5,188.36 L222.0,188.22 L221.5,188.07 L221.0,187.92 L220.5,187.77 L220.0,187.61 L219.5,187.45 L219.0,187.28 L218.5,187.12 L218.0,186.94 L217.5,186.77 L217.0,186.59 L216.5,186.41 L216.0,186.22 L215.5,186.03 L215.0,185.84 L214.5,185.65 L214.0,185.45 L213.5,185.24 L213.0,185.03 L212.5,184.82 L212.0,184.61 L211.5,184.39 L211.0,184.17 L210.5,183.94 L210.0,183.71 L209.5,183.48 L209.0,183.24 L208.5,183.00 L208.0,182.75 L207.5,182.49 L207.0,182.22 L206.5,181.94 L206.0,181.64 L205.5,181.33 L205.0,181.01 L204.5,180.66 L204.0,180.30 L203.5,179.91 L203.0,179.51 L202.5,179.07 L202.0,178.61 L201.5,178.10 L201.0,177.52 L200.5,176.87 L200.0,176.13 L199.5,175.31 L199.0,174.43 L198.5,173.48 L198.0,172.49 L197.5,171.46 L197.0,170.40 L196.5,169.32 L196.0,168.23 L195.5,167.14 L195.0,166.05 L194.5,164.96 L194.0,163.86 L193.5,162.73 L193.0,161.56 L192.5,160.36 L192.0,159.13 L191.5,157.87 L191.0,156.59 L190.5,155.29 L190.0,153.98 L189.5,152.64 L189.0,151.28 L188.5,149.89 L188.0,148.47 L187.5,147.01 L187.0,145.53 L186.5,144.03 L186.0,142.54 L185.5,141.05 L185.0,139.59 L184.5,138.13 L184.0,136.67 L183.5,135.20 L183.0,133.74 L182.5,132.30 L182.0,130.94 L181.5,129.72 L181.0,128.65 L180.5,127.74 L180.0,126.95 L179.5,126.25 L179.0,125.61 L178.5,125.03 L178.0,124.50 L177.5,124.02 L177.0,123.61 L176.5,123.24 L176.0,122.92 L175.5,122.64 L175.0,122.38 L174.5,122.15 L174.0,121.95 L173.5,121.80 L173.0,121.67 L172.5,121.57 L172.0,121.50 L171.5,121.44 L171.0,121.40 L170.5,121.37 L170.0,121.36 L169.5,121.35 L169.0,121.34 L168.5,121.34 L168.0,121.33 L167.5,121.32 L167.0,121.32 L166.5,121.31 L166.0,121.30 L165.5,121.30 L165.0,121.29 L164.5,121.29 L164.0,121.28 L163.5,121.28 L163.0,121.27 L162.5,121.27 L162.0,121.26 L161.5,121.26 L161.0,121.25 L160.5,121.25 L160.0,121.24 L159.5,121.24 L159.0,121.23 L158.5,121.23 L158.0,121.22 L157.5,121.22 L157.0,121.21 L156.5,121.21 L156.0,121.21 L155.5,121.20 L155.0,121.20 L154.5,121.20 L154.0,121.19 L153.5,121.19 L153.0,121.19 L152.5,121.18 L152.0,121.18 L151.5,121.18 L151.0,121.17 L150.5,121.17 L150.0,121.17 L149.5,121.16 L149.0,121.16 L148.5,121.16 L148.0,121.16 L147.5,121.15 L147.0,121.15 L146.5,121.15 L146.0,121.15 L145.5,121.14 L145.0,121.14 L144.5,121.14 L144.0,121.14 L143.5,121.14 L143.0,121.13 L142.5,121.13 L142.0,121.13 L141.5,121.13 L141.0,121.13 L140.5,121.13 L140.0,121.12 L139.5,121.12 L139.0,121.12 L138.5,121.12 L138.0,121.12 L137.5,121.12 L137.0,121.12 L136.5,121.11 L136.0,121.11 L135.5,121.11 L135.0,121.11 L134.5,121.11 L134.0,121.11 L133.5,121.11 L133.0,121.11 L132.5,121.11 L132.0,121.11 L131.5,121.11 L131.0,121.11 L130.5,121.11 L130.0,121.10 L129.5,121.10 L129.0,121.10 L128.5,121.10 L128.0,121.10 L127.5,121.10 L127.0,121.10 L126.5,121.10 L126.0,121.10 L125.5,121.10 L125.0,121.10 L124.5,121.10 L124.0,121.10 L123.5,121.10 L123.0,121.10 L122.5,121.10 L122.0,121.10 L121.5,121.10 L121.0,121.10 L120.5,121.10 L120.0,121.10 L119.5,121.10 L119.0,121.10 L118.5,121.10 L118.0,121.10 L117.5,121.10 L117.0,121.10 L116.5,121.10 L116.0,121.10 L115.5,121.10 L115.0,121.10 L114.5,121.10 L114.0,121.10 L113.5,121.10 L113.0,121.11 L112.5,121.11 L112.0,121.11 L111.5,121.11 L111.0,121.11 L110.5,121.11 L110.0,121.11 L109.5,121.11 L109.0,121.11 L108.5,121.11 L108.0,121.11 L107.5,121.12 L107.0,121.12 L106.5,121.12 L106.0,121.12 L105.5,121.12 L105.0,121.12 L104.5,121.12 L104.0,121.13 L103.5,121.13 L103.0,121.13 L102.5,121.13 L102.0,121.13 L101.5,121.13 L101.0,121.13 L100.5,121.14 L100.0,121.14 L99.5,121.14 L99.0,121.14 L98.5,121.14 L98.0,121.15 L97.5,121.15 L97.0,121.15 L96.5,121.15 L96.0,121.15 L95.5,121.15 L95.0,121.16 L94.5,121.16 L94.0,121.16 L93.5,121.16 L93.0,121.17 L92.5,121.17 L92.0,121.17 L91.5,121.17 L91.0,121.17 L90.5,121.18 L90.0,121.18 L89.5,121.18 L89.0,121.18 L88.5,121.19 L88.0,121.19 L87.5,121.19 L87.0,121.19 L86.5,121.20 L86.0,121.20 L85.5,121.20 L85.0,121.20 L84.5,121.20 L84.0,121.21 L83.5,121.21 L83.0,121.21 L82.5,121.22 L82.0,121.22 L81.5,121.22 L81.0,121.22 L80.5,121.23 L80.0,121.23 L79.5,121.23 L79.0,121.23 L78.5,121.24 L78.0,121.24 L77.5,121.24 L77.0,121.24 L76.5,121.25 L76.0,121.25 L75.5,121.25 L75.0,121.25 L74.5,121.26 L74.0,121.26 L73.5,121.26 L73.0,121.27 L72.5,121.27 L72.0,121.27 L71.5,121.27 L71.0,121.28 L70.5,121.28 L70.0,121.28 L69.5,121.28 L69.0,121.29 L68.5,121.29 L68.0,121.29 L67.5,121.29 L67.0,121.30 L66.5,121.30 L66.0,121.30 L65.5,121.31 L65.0,121.31 L64.5,121.31 L64.0,121.31 L63.5,121.32 L63.0,121.32 L62.5,121.32 L62.0,121.32 L61.5,121.33 L61.0,121.33 L60.5,121.33 L60.0,121.33 L59.5,121.34 L59.0,121.34 L58.5,121.34 L58.0,121.34 L57.5,121.35 L57.0,121.35 L56.5,121.35 L56.0,121.35 L55.5,121.36 L55.0,121.36 L54.5,121.36 L54.0,121.36 L53.5,121.37 L53.0,121.37 L52.5,121.37 L52.0,121.37 L51.5,121.38 L51.0,121.38 L50.5,121.38 L50.0,121.38 L49.5,121.39 L49.0,121.39 L48.5,121.39 L48.0,121.39 L47.5,121.39 L47.0,121.40 L46.5,121.40 L46.0,121.40Z" fill="#e0f8ef" stroke="none"/>
<path d="M46.5,112.2V121.4M48.5,112.2V121.4M50.5,112.2V121.4M52.5,112.2V121.4M54.5,112.2V121.4M56.5,112.2V121.4M58.5,112.1V121.3M60.5,112.1V121.3M62.5,112.1V121.3M64.5,112.1V121.3M66.5,112.1V121.3M68.5,112.1V121.3M70.5,112.1V121.3M72.5,112.1V121.3M74.5,112.1V121.3M76.5,112.0V121.2M78.5,112.0V121.2M80.5,112.0V121.2M82.5,112.0V121.2M84.5,112.0V121.2M86.5,112.0V121.2M88.5,112.0V121.2M90.5,112.0V121.2M92.5,112.0V121.2M94.5,112.0V121.2M96.5,112.0V121.2M98.5,111.9V121.1M100.5,111.9V121.1M102.5,111.9V121.1M104.5,111.9V121.1M106.5,111.9V121.1M108.5,111.9V121.1M110.5,111.9V121.1M112.5,111.9V121.1M114.5,111.9V121.1M116.5,111.9V121.1M118.5,111.9V121.1M120.5,111.9V121.1M122.5,111.9V121.1M124.5,111.9V121.1M126.5,111.9V121.1M128.5,111.9V121.1M130.5,111.9V121.1M132.5,111.9V121.1M134.5,111.9V121.1M136.5,111.9V121.1M138.5,111.9V121.1M140.5,111.9V121.1M142.5,111.9V121.1M144.5,111.9V121.1M146.5,111.9V121.1M148.5,112.0V121.2M150.5,112.0V121.2M152.5,112.0V121.2M154.5,112.0V121.2M156.5,112.0V121.2M158.5,112.0V121.2M160.5,112.0V121.2M162.5,112.1V121.3M164.5,112.1V121.3M166.5,112.1V121.3M168.5,112.1V121.3M170.5,112.2V121.4M172.5,112.1V121.5M174.5,111.9V122.0M176.5,112.0V122.9M178.5,112.7V124.5M180.5,114.2V126.9M182.5,117.4V130.9M184.5,122.7V136.7M186.5,128.6V142.5M188.5,134.9V148.5M190.5,140.9V154.0M192.5,146.8V159.1M194.5,152.3V163.9M196.5,157.4V168.2M198.5,162.2V172.5M200.5,166.1V176.1M202.5,168.7V178.6M204.5,170.5V180.3M206.5,172.0V181.6M208.5,173.2V182.7M210.5,174.3V183.7M212.5,175.3V184.6M214.5,176.2V185.4M216.5,177.1V186.2M218.5,177.9V186.9M220.5,178.7V187.6M222.5,179.4V188.2M224.5,180.0V188.8M226.5,180.6V189.3M228.5,181.1V189.7M230.5,181.6V190.1M232.5,182.1V190.5M234.5,182.5V190.9M236.5,182.9V191.2M238.5,183.3V191.6M240.5,183.7V191.9M242.5,184.0V192.1M244.5,184.3V192.4M246.5,184.7V192.7M248.5,185.0V192.9M250.5,185.3V193.1M252.5,185.5V193.4M254.5,185.8V193.6M256.5,186.1V193.8M258.5,186.3V194.0M260.5,186.6V194.2M262.5,186.8V194.4M264.5,187.0V194.6M266.5,187.3V194.8M268.5,187.5V195.0M270.5,187.7V195.2M272.5,187.9V195.3M274.5,188.1V195.5M276.5,188.3V195.7M278.5,188.5V195.8M280.5,188.7V196.0M282.5,188.9V196.2M284.5,189.1V196.3M286.5,189.3V196.5M288.5,189.5V196.6M290.5,189.7V196.8M292.5,189.8V196.9M294.5,190.0V197.1M296.5,190.2V197.2M298.5,190.3V197.3M300.5,190.5V197.5M302.5,190.7V197.6M304.5,190.8V197.8M306.5,191.0V197.9M308.5,191.2V198.0M310.5,191.3V198.1M312.5,191.5V198.3M314.5,191.6V198.4M316.5,191.7V198.5M318.5,191.9V198.6M320.5,192.0V198.7M322.5,192.2V198.8M324.5,192.3V198.9M326.5,192.4V199.0M328.5,192.6V199.1M330.5,192.7V199.2M332.5,192.9V199.3M334.5,193.0V199.4M336.5,193.1V199.5M338.5,193.3V199.6M340.5,193.4V199.7M342.5,193.5V199.8M344.5,193.7V199.9M346.5,193.8V200.0M348.5,194.0V200.1M350.5,194.1V200.2M352.5,194.3V200.3" stroke="#7fd6b2" stroke-width="1.0" fill="none" opacity="0.3"/>
<path d="M43.5,112.2h5M43.5,121.4h5M45.5,112.2h5M45.5,121.4h5M47.5,112.2h5M47.5,121.4h5M49.5,112.2h5M49.5,121.4h5M51.5,112.2h5M51.5,121.4h5M53.5,112.2h5M53.5,121.4h5M55.5,112.1h5M55.5,121.3h5M57.5,112.1h5M57.5,121.3h5M59.5,112.1h5M59.5,121.3h5M61.5,112.1h5M61.5,121.3h5M63.5,112.1h5M63.5,121.3h5M65.5,112.1h5M65.5,121.3h5M67.5,112.1h5M67.5,121.3h5M69.5,112.1h5M69.5,121.3h5M71.5,112.1h5M71.5,121.3h5M73.5,112.0h5M73.5,121.2h5M75.5,112.0h5M75.5,121.2h5M77.5,112.0h5M77.5,121.2h5M79.5,112.0h5M79.5,121.2h5M81.5,112.0h5M81.5,121.2h5M83.5,112.0h5M83.5,121.2h5M85.5,112.0h5M85.5,121.2h5M87.5,112.0h5M87.5,121.2h5M89.5,112.0h5M89.5,121.2h5M91.5,112.0h5M91.5,121.2h5M93.5,112.0h5M93.5,121.2h5M95.5,111.9h5M95.5,121.1h5M97.5,111.9h5M97.5,121.1h5M99.5,111.9h5M99.5,121.1h5M101.5,111.9h5M101.5,121.1h5M103.5,111.9h5M103.5,121.1h5M105.5,111.9h5M105.5,121.1h5M107.5,111.9h5M107.5,121.1h5M109.5,111.9h5M109.5,121.1h5M111.5,111.9h5M111.5,121.1h5M113.5,111.9h5M113.5,121.1h5M115.5,111.9h5M115.5,121.1h5M117.5,111.9h5M117.5,121.1h5M119.5,111.9h5M119.5,121.1h5M121.5,111.9h5M121.5,121.1h5M123.5,111.9h5M123.5,121.1h5M125.5,111.9h5M125.5,121.1h5M127.5,111.9h5M127.5,121.1h5M129.5,111.9h5M129.5,121.1h5M131.5,111.9h5M131.5,121.1h5M133.5,111.9h5M133.5,121.1h5M135.5,111.9h5M135.5,121.1h5M137.5,111.9h5M137.5,121.1h5M139.5,111.9h5M139.5,121.1h5M141.5,111.9h5M141.5,121.1h5M143.5,111.9h5M143.5,121.1h5M145.5,112.0h5M145.5,121.2h5M147.5,112.0h5M147.5,121.2h5M149.5,112.0h5M149.5,121.2h5M151.5,112.0h5M151.5,121.2h5M153.5,112.0h5M153.5,121.2h5M155.5,112.0h5M155.5,121.2h5M157.5,112.0h5M157.5,121.2h5M159.5,112.1h5M159.5,121.3h5M161.5,112.1h5M161.5,121.3h5M163.5,112.1h5M163.5,121.3h5M165.5,112.1h5M165.5,121.3h5M167.5,112.2h5M167.5,121.4h5M169.5,112.1h5M169.5,121.5h5M171.5,111.9h5M171.5,122.0h5M173.5,112.0h5M173.5,122.9h5M175.5,112.7h5M175.5,124.5h5M177.5,114.2h5M177.5,126.9h5M179.5,117.4h5M179.5,130.9h5M181.5,122.7h5M181.5,136.7h5M183.5,128.6h5M183.5,142.5h5M185.5,134.9h5M185.5,148.5h5M187.5,140.9h5M187.5,154.0h5M189.5,146.8h5M189.5,159.1h5M191.5,152.3h5M191.5,163.9h5M193.5,157.4h5M193.5,168.2h5M195.5,162.2h5M195.5,172.5h5M197.5,166.1h5M197.5,176.1h5M199.5,168.7h5M199.5,178.6h5M201.5,170.5h5M201.5,180.3h5M203.5,172.0h5M203.5,181.6h5M205.5,173.2h5M205.5,182.7h5M207.5,174.3h5M207.5,183.7h5M209.5,175.3h5M209.5,184.6h5M211.5,176.2h5M211.5,185.4h5M213.5,177.1h5M213.5,186.2h5M215.5,177.9h5M215.5,186.9h5M217.5,178.7h5M217.5,187.6h5M219.5,179.4h5M219.5,188.2h5M221.5,180.0h5M221.5,188.8h5M223.5,180.6h5M223.5,189.3h5M225.5,181.1h5M225.5,189.7h5M227.5,181.6h5M227.5,190.1h5M229.5,182.1h5M229.5,190.5h5M231.5,182.5h5M231.5,190.9h5M233.5,182.9h5M233.5,191.2h5M235.5,183.3h5M235.5,191.6h5M237.5,183.7h5M237.5,191.9h5M239.5,184.0h5M239.5,192.1h5M241.5,184.3h5M241.5,192.4h5M243.5,184.7h5M243.5,192.7h5M245.5,185.0h5M245.5,192.9h5M247.5,185.3h5M247.5,193.1h5M249.5,185.5h5M249.5,193.4h5M251.5,185.8h5M251.5,193.6h5M253.5,186.1h5M253.5,193.8h5M255.5,186.3h5M255.5,194.0h5M257.5,186.6h5M257.5,194.2h5M259.5,186.8h5M259.5,194.4h5M261.5,187.0h5M261.5,194.6h5M263.5,187.3h5M263.5,194.8h5M265.5,187.5h5M265.5,195.0h5M267.5,187.7h5M267.5,195.2h5M269.5,187.9h5M269.5,195.3h5M271.5,188.1h5M271.5,195.5h5M273.5,188.3h5M273.5,195.7h5M275.5,188.5h5M275.5,195.8h5M277.5,188.7h5M277.5,196.0h5M279.5,188.9h5M279.5,196.2h5M281.5,189.1h5M281.5,196.3h5M283.5,189.3h5M283.5,196.5h5M285.5,189.5h5M285.5,196.6h5M287.5,189.7h5M287.5,196.8h5M289.5,189.8h5M289.5,196.9h5M291.5,190.0h5M291.5,197.1h5M293.5,190.2h5M293.5,197.2h5M295.5,190.3h5M295.5,197.3h5M297.5,190.5h5M297.5,197.5h5M299.5,190.7h5M299.5,197.6h5M301.5,190.8h5M301.5,197.8h5M303.5,191.0h5M303.5,197.9h5M305.5,191.2h5M305.5,198.0h5M307.5,191.3h5M307.5,198.1h5M309.5,191.5h5M309.5,198.3h5M311.5,191.6h5M311.5,198.4h5M313.5,191.7h5M313.5,198.5h5M315.5,191.9h5M315.5,198.6h5M317.5,192.0h5M317.5,198.7h5M319.5,192.2h5M319.5,198.8h5M321.5,192.3h5M321.5,198.9h5M323.5,192.4h5M323.5,199.0h5M325.5,192.6h5M325.5,199.1h5M327.5,192.7h5M327.5,199.2h5M329.5,192.9h5M329.5,199.3h5M331.5,193.0h5M331.5,199.4h5M333.5,193.1h5M333.5,199.5h5M335.5,193.3h5M335.5,199.6h5M337.5,193.4h5M337.5,199.7h5M339.5,193.5h5M339.5,199.8h5M341.5,193.7h5M341.5,199.9h5M343.5,193.8h5M343.5,200.0h5M345.5,194.0h5M345.5,200.1h5M347.5,194.1h5M347.5,200.2h5M349.5,194.3h5M349.5,200.3h5" stroke="#62bc96" stroke-width="0.9" fill="none" opacity="0.75"/>
<path d="M46.0,116.80 L46.5,116.80 L47.0,116.80 L47.5,116.79 L48.0,116.79 L48.5,116.79 L49.0,116.79 L49.5,116.79 L50.0,116.78 L50.5,116.78 L51.0,116.78 L51.5,116.78 L52.0,116.77 L52.5,116.77 L53.0,116.77 L53.5,116.77 L54.0,116.76 L54.5,116.76 L55.0,116.76 L55.5,116.76 L56.0,116.75 L56.5,116.75 L57.0,116.75 L57.5,116.75 L58.0,116.74 L58.5,116.74 L59.0,116.74 L59.5,116.74 L60.0,116.73 L60.5,116.73 L61.0,116.73 L61.5,116.73 L62.0,116.72 L62.5,116.72 L63.0,116.72 L63.5,116.72 L64.0,116.71 L64.5,116.71 L65.0,116.71 L65.5,116.71 L66.0,116.70 L66.5,116.70 L67.0,116.70 L67.5,116.69 L68.0,116.69 L68.5,116.69 L69.0,116.69 L69.5,116.68 L70.0,116.68 L70.5,116.68 L71.0,116.68 L71.5,116.67 L72.0,116.67 L72.5,116.67 L73.0,116.67 L73.5,116.66 L74.0,116.66 L74.5,116.66 L75.0,116.65 L75.5,116.65 L76.0,116.65 L76.5,116.65 L77.0,116.64 L77.5,116.64 L78.0,116.64 L78.5,116.64 L79.0,116.63 L79.5,116.63 L80.0,116.63 L80.5,116.63 L81.0,116.62 L81.5,116.62 L82.0,116.62 L82.5,116.62 L83.0,116.61 L83.5,116.61 L84.0,116.61 L84.5,116.60 L85.0,116.60 L85.5,116.60 L86.0,116.60 L86.5,116.60 L87.0,116.59 L87.5,116.59 L88.0,116.59 L88.5,116.59 L89.0,116.58 L89.5,116.58 L90.0,116.58 L90.5,116.58 L91.0,116.57 L91.5,116.57 L92.0,116.57 L92.5,116.57 L93.0,116.57 L93.5,116.56 L94.0,116.56 L94.5,116.56 L95.0,116.56 L95.5,116.55 L96.0,116.55 L96.5,116.55 L97.0,116.55 L97.5,116.55 L98.0,116.55 L98.5,116.54 L99.0,116.54 L99.5,116.54 L100.0,116.54 L100.5,116.54 L101.0,116.53 L101.5,116.53 L102.0,116.53 L102.5,116.53 L103.0,116.53 L103.5,116.53 L104.0,116.53 L104.5,116.52 L105.0,116.52 L105.5,116.52 L106.0,116.52 L106.5,116.52 L107.0,116.52 L107.5,116.52 L108.0,116.51 L108.5,116.51 L109.0,116.51 L109.5,116.51 L110.0,116.51 L110.5,116.51 L111.0,116.51 L111.5,116.51 L112.0,116.51 L112.5,116.51 L113.0,116.51 L113.5,116.50 L114.0,116.50 L114.5,116.50 L115.0,116.50 L115.5,116.50 L116.0,116.50 L116.5,116.50 L117.0,116.50 L117.5,116.50 L118.0,116.50 L118.5,116.50 L119.0,116.50 L119.5,116.50 L120.0,116.50 L120.5,116.50 L121.0,116.50 L121.5,116.50 L122.0,116.50 L122.5,116.50 L123.0,116.50 L123.5,116.50 L124.0,116.50 L124.5,116.50 L125.0,116.50 L125.5,116.50 L126.0,116.50 L126.5,116.50 L127.0,116.50 L127.5,116.50 L128.0,116.50 L128.5,116.50 L129.0,116.50 L129.5,116.50 L130.0,116.50 L130.5,116.51 L131.0,116.51 L131.5,116.51 L132.0,116.51 L132.5,116.51 L133.0,116.51 L133.5,116.51 L134.0,116.51 L134.5,116.51 L135.0,116.51 L135.5,116.51 L136.0,116.51 L136.5,116.51 L137.0,116.52 L137.5,116.52 L138.0,116.52 L138.5,116.52 L139.0,116.52 L139.5,116.52 L140.0,116.52 L140.5,116.53 L141.0,116.53 L141.5,116.53 L142.0,116.53 L142.5,116.53 L143.0,116.53 L143.5,116.54 L144.0,116.54 L144.5,116.54 L145.0,116.54 L145.5,116.54 L146.0,116.55 L146.5,116.55 L147.0,116.55 L147.5,116.55 L148.0,116.56 L148.5,116.56 L149.0,116.56 L149.5,116.56 L150.0,116.57 L150.5,116.57 L151.0,116.57 L151.5,116.58 L152.0,116.58 L152.5,116.58 L153.0,116.59 L153.5,116.59 L154.0,116.59 L154.5,116.60 L155.0,116.60 L155.5,116.60 L156.0,116.61 L156.5,116.61 L157.0,116.61 L157.5,116.62 L158.0,116.62 L158.5,116.63 L159.0,116.63 L159.5,116.64 L160.0,116.64 L160.5,116.65 L161.0,116.65 L161.5,116.66 L162.0,116.66 L162.5,116.67 L163.0,116.67 L163.5,116.68 L164.0,116.68 L164.5,116.69 L165.0,116.69 L165.5,116.70 L166.0,116.70 L166.5,116.71 L167.0,116.72 L167.5,116.72 L168.0,116.73 L168.5,116.74 L169.0,116.74 L169.5,116.75 L170.0,116.76 L170.5,116.76 L171.0,116.77 L171.5,116.78 L172.0,116.79 L172.5,116.80 L173.0,116.82 L173.5,116.86 L174.0,116.93 L174.5,117.03 L175.0,117.16 L175.5,117.30 L176.0,117.48 L176.5,117.68 L177.0,117.93 L177.5,118.22 L178.0,118.58 L178.5,118.99 L179.0,119.46 L179.5,119.98 L180.0,120.57 L180.5,121.25 L181.0,122.08 L181.5,123.05 L182.0,124.19 L182.5,125.48 L183.0,126.86 L183.5,128.27 L184.0,129.70 L184.5,131.14 L185.0,132.59 L185.5,134.06 L186.0,135.56 L186.5,137.09 L187.0,138.62 L187.5,140.15 L188.0,141.66 L188.5,143.15 L189.0,144.61 L189.5,146.05 L190.0,147.46 L190.5,148.86 L191.0,150.25 L191.5,151.62 L192.0,152.98 L192.5,154.30 L193.0,155.60 L193.5,156.86 L194.0,158.09 L194.5,159.28 L195.0,160.47 L195.5,161.64 L196.0,162.81 L196.5,163.98 L197.0,165.13 L197.5,166.26 L198.0,167.34 L198.5,168.39 L199.0,169.37 L199.5,170.29 L200.0,171.13 L200.5,171.88 L201.0,172.55 L201.5,173.14 L202.0,173.67 L202.5,174.15 L203.0,174.60 L203.5,175.02 L204.0,175.42 L204.5,175.80 L205.0,176.15 L205.5,176.49 L206.0,176.82 L206.5,177.13 L207.0,177.42 L207.5,177.70 L208.0,177.98 L208.5,178.24 L209.0,178.50 L209.5,178.75 L210.0,179.00 L210.5,179.24 L211.0,179.48 L211.5,179.71 L212.0,179.94 L212.5,180.17 L213.0,180.40 L213.5,180.62 L214.0,180.83 L214.5,181.04 L215.0,181.25 L215.5,181.46 L216.0,181.66 L216.5,181.85 L217.0,182.05 L217.5,182.24 L218.0,182.43 L218.5,182.61 L219.0,182.79 L219.5,182.96 L220.0,183.13 L220.5,183.30 L221.0,183.47 L221.5,183.63 L222.0,183.79 L222.5,183.94 L223.0,184.09 L223.5,184.24 L224.0,184.38 L224.5,184.52 L225.0,184.66 L225.5,184.80 L226.0,184.93 L226.5,185.05 L227.0,185.18 L227.5,185.30 L228.0,185.42 L228.5,185.53 L229.0,185.65 L229.5,185.76 L230.0,185.87 L230.5,185.98 L231.0,186.09 L231.5,186.19 L232.0,186.30 L232.5,186.40 L233.0,186.50 L233.5,186.60 L234.0,186.70 L234.5,186.79 L235.0,186.89 L235.5,186.98 L236.0,187.07 L236.5,187.16 L237.0,187.25 L237.5,187.34 L238.0,187.43 L238.5,187.51 L239.0,187.60 L239.5,187.68 L240.0,187.76 L240.5,187.84 L241.0,187.92 L241.5,188.00 L242.0,188.08 L242.5,188.16 L243.0,188.23 L243.5,188.31 L244.0,188.38 L244.5,188.45 L245.0,188.52 L245.5,188.60 L246.0,188.67 L246.5,188.73 L247.0,188.80 L247.5,188.87 L248.0,188.94 L248.5,189.00 L249.0,189.07 L249.5,189.13 L250.0,189.20 L250.5,189.26 L251.0,189.33 L251.5,189.39 L252.0,189.45 L252.5,189.51 L253.0,189.58 L253.5,189.64 L254.0,189.70 L254.5,189.76 L255.0,189.82 L255.5,189.88 L256.0,189.94 L256.5,190.00 L257.0,190.05 L257.5,190.11 L258.0,190.17 L258.5,190.23 L259.0,190.28 L259.5,190.34 L260.0,190.40 L260.5,190.45 L261.0,190.51 L261.5,190.56 L262.0,190.62 L262.5,190.67 L263.0,190.73 L263.5,190.78 L264.0,190.83 L264.5,190.89 L265.0,190.94 L265.5,190.99 L266.0,191.04 L266.5,191.09 L267.0,191.14 L267.5,191.20 L268.0,191.25 L268.5,191.30 L269.0,191.35 L269.5,191.40 L270.0,191.45 L270.5,191.49 L271.0,191.54 L271.5,191.59 L272.0,191.64 L272.5,191.69 L273.0,191.74 L273.5,191.78 L274.0,191.83 L274.5,191.88 L275.0,191.92 L275.5,191.97 L276.0,192.02 L276.5,192.06 L277.0,192.11 L277.5,192.15 L278.0,192.20 L278.5,192.24 L279.0,192.29 L279.5,192.33 L280.0,192.37 L280.5,192.42 L281.0,192.46 L281.5,192.51 L282.0,192.55 L282.5,192.59 L283.0,192.64 L283.5,192.68 L284.0,192.72 L284.5,192.76 L285.0,192.80 L285.5,192.85 L286.0,192.89 L286.5,192.93 L287.0,192.97 L287.5,193.01 L288.0,193.05 L288.5,193.09 L289.0,193.14 L289.5,193.18 L290.0,193.22 L290.5,193.26 L291.0,193.30 L291.5,193.34 L292.0,193.38 L292.5,193.42 L293.0,193.46 L293.5,193.50 L294.0,193.53 L294.5,193.57 L295.0,193.61 L295.5,193.65 L296.0,193.69 L296.5,193.73 L297.0,193.77 L297.5,193.81 L298.0,193.85 L298.5,193.88 L299.0,193.92 L299.5,193.96 L300.0,194.00 L300.5,194.04 L301.0,194.08 L301.5,194.11 L302.0,194.15 L302.5,194.19 L303.0,194.22 L303.5,194.26 L304.0,194.30 L304.5,194.33 L305.0,194.37 L305.5,194.41 L306.0,194.44 L306.5,194.48 L307.0,194.51 L307.5,194.55 L308.0,194.58 L308.5,194.62 L309.0,194.65 L309.5,194.69 L310.0,194.72 L310.5,194.75 L311.0,194.79 L311.5,194.82 L312.0,194.85 L312.5,194.89 L313.0,194.92 L313.5,194.95 L314.0,194.99 L314.5,195.02 L315.0,195.05 L315.5,195.08 L316.0,195.12 L316.5,195.15 L317.0,195.18 L317.5,195.21 L318.0,195.24 L318.5,195.28 L319.0,195.31 L319.5,195.34 L320.0,195.37 L320.5,195.40 L321.0,195.43 L321.5,195.46 L322.0,195.49 L322.5,195.52 L323.0,195.56 L323.5,195.59 L324.0,195.62 L324.5,195.65 L325.0,195.68 L325.5,195.71 L326.0,195.74 L326.5,195.77 L327.0,195.80 L327.5,195.83 L328.0,195.86 L328.5,195.89 L329.0,195.92 L329.5,195.95 L330.0,195.98 L330.5,196.01 L331.0,196.04 L331.5,196.07 L332.0,196.09 L332.5,196.12 L333.0,196.15 L333.5,196.18 L334.0,196.21 L334.5,196.24 L335.0,196.27 L335.5,196.30 L336.0,196.33 L336.5,196.36 L337.0,196.39 L337.5,196.42 L338.0,196.45 L338.5,196.48 L339.0,196.51 L339.5,196.54 L340.0,196.57 L340.5,196.60 L341.0,196.63 L341.5,196.66 L342.0,196.69 L342.5,196.72 L343.0,196.75 L343.5,196.77 L344.0,196.80 L344.5,196.83 L345.0,196.86 L345.5,196.89 L346.0,196.93 L346.5,196.96 L347.0,196.99 L347.5,197.02 L348.0,197.05 L348.5,197.08 L349.0,197.11 L349.5,197.14 L350.0,197.17 L350.5,197.20 L351.0,197.23 L351.5,197.26 L352.0,197.29 L352.5,197.32 L353.0,197.35 L353.5,197.37" stroke="#1f8c60" stroke-width="1.9" fill="none" stroke-linejoin="round"/></g>
<g clip-path="url(#plotclip)"><path d="M46.0,81.90 L46.5,81.90 L47.0,81.90 L47.5,81.90 L48.0,81.89 L48.5,81.89 L49.0,81.89 L49.5,81.89 L50.0,81.89 L50.5,81.89 L51.0,81.89 L51.5,81.88 L52.0,81.88 L52.5,81.88 L53.0,81.88 L53.5,81.88 L54.0,81.88 L54.5,81.87 L55.0,81.87 L55.5,81.87 L56.0,81.87 L56.5,81.87 L57.0,81.87 L57.5,81.86 L58.0,81.86 L58.5,81.86 L59.0,81.86 L59.5,81.86 L60.0,81.86 L60.5,81.85 L61.0,81.85 L61.5,81.85 L62.0,81.85 L62.5,81.85 L63.0,81.85 L63.5,81.84 L64.0,81.84 L64.5,81.84 L65.0,81.84 L65.5,81.84 L66.0,81.84 L66.5,81.83 L67.0,81.83 L67.5,81.83 L68.0,81.83 L68.5,81.83 L69.0,81.82 L69.5,81.82 L70.0,81.82 L70.5,81.82 L71.0,81.82 L71.5,81.82 L72.0,81.81 L72.5,81.81 L73.0,81.81 L73.5,81.81 L74.0,81.81 L74.5,81.80 L75.0,81.80 L75.5,81.80 L76.0,81.80 L76.5,81.80 L77.0,81.80 L77.5,81.79 L78.0,81.79 L78.5,81.79 L79.0,81.79 L79.5,81.79 L80.0,81.79 L80.5,81.78 L81.0,81.78 L81.5,81.78 L82.0,81.78 L82.5,81.78 L83.0,81.78 L83.5,81.77 L84.0,81.77 L84.5,81.77 L85.0,81.77 L85.5,81.77 L86.0,81.77 L86.5,81.76 L87.0,81.76 L87.5,81.76 L88.0,81.76 L88.5,81.76 L89.0,81.76 L89.5,81.75 L90.0,81.75 L90.5,81.75 L91.0,81.75 L91.5,81.75 L92.0,81.75 L92.5,81.74 L93.0,81.74 L93.5,81.74 L94.0,81.74 L94.5,81.74 L95.0,81.74 L95.5,81.74 L96.0,81.74 L96.5,81.73 L97.0,81.73 L97.5,81.73 L98.0,81.73 L98.5,81.73 L99.0,81.73 L99.5,81.73 L100.0,81.73 L100.5,81.72 L101.0,81.72 L101.5,81.72 L102.0,81.72 L102.5,81.72 L103.0,81.72 L103.5,81.72 L104.0,81.72 L104.5,81.72 L105.0,81.71 L105.5,81.71 L106.0,81.71 L106.5,81.71 L107.0,81.71 L107.5,81.71 L108.0,81.71 L108.5,81.71 L109.0,81.71 L109.5,81.71 L110.0,81.71 L110.5,81.71 L111.0,81.71 L111.5,81.71 L112.0,81.70 L112.5,81.70 L113.0,81.70 L113.5,81.70 L114.0,81.70 L114.5,81.70 L115.0,81.70 L115.5,81.70 L116.0,81.70 L116.5,81.70 L117.0,81.70 L117.5,81.70 L118.0,81.70 L118.5,81.70 L119.0,81.70 L119.5,81.70 L120.0,81.70 L120.5,81.70 L121.0,81.70 L121.5,81.70 L122.0,81.70 L122.5,81.70 L123.0,81.70 L123.5,81.70 L124.0,81.70 L124.5,81.70 L125.0,81.70 L125.5,81.70 L126.0,81.70 L126.5,81.70 L127.0,81.70 L127.5,81.70 L128.0,81.70 L128.5,81.70 L129.0,81.70 L129.5,81.70 L130.0,81.70 L130.5,81.70 L131.0,81.70 L131.5,81.70 L132.0,81.70 L132.5,81.70 L133.0,81.70 L133.5,81.70 L134.0,81.70 L134.5,81.70 L135.0,81.70 L135.5,81.71 L136.0,81.71 L136.5,81.71 L137.0,81.71 L137.5,81.71 L138.0,81.71 L138.5,81.71 L139.0,81.71 L139.5,81.71 L140.0,81.71 L140.5,81.71 L141.0,81.71 L141.5,81.71 L142.0,81.71 L142.5,81.71 L143.0,81.71 L143.5,81.71 L144.0,81.72 L144.5,81.72 L145.0,81.72 L145.5,81.72 L146.0,81.72 L146.5,81.72 L147.0,81.72 L147.5,81.72 L148.0,81.72 L148.5,81.72 L149.0,81.73 L149.5,81.73 L150.0,81.73 L150.5,81.73 L151.0,81.73 L151.5,81.73 L152.0,81.73 L152.5,81.73 L153.0,81.74 L153.5,81.74 L154.0,81.74 L154.5,81.74 L155.0,81.74 L155.5,81.74 L156.0,81.75 L156.5,81.75 L157.0,81.75 L157.5,81.75 L158.0,81.75 L158.5,81.75 L159.0,81.76 L159.5,81.76 L160.0,81.76 L160.5,81.76 L161.0,81.76 L161.5,81.77 L162.0,81.77 L162.5,81.77 L163.0,81.77 L163.5,81.78 L164.0,81.78 L164.5,81.78 L165.0,81.78 L165.5,81.79 L166.0,81.79 L166.5,81.79 L167.0,81.79 L167.5,81.80 L168.0,81.82 L168.5,81.85 L169.0,81.90 L169.5,81.98 L170.0,82.08 L170.5,82.21 L171.0,82.41 L171.5,82.71 L172.0,83.17 L172.5,83.79 L173.0,84.62 L173.5,85.60 L174.0,86.71 L174.5,87.91 L175.0,89.22 L175.5,90.69 L176.0,92.37 L176.5,94.28 L177.0,96.40 L177.5,98.67 L178.0,100.96 L178.5,103.17 L179.0,105.24 L179.5,107.18 L180.0,108.99 L180.5,110.72 L181.0,112.40 L181.5,114.04 L182.0,115.65 L182.5,117.23 L183.0,118.78 L183.5,120.32 L184.0,121.83 L184.5,123.33 L185.0,124.82 L185.5,126.29 L186.0,127.76 L186.5,129.22 L187.0,130.69 L187.5,132.16 L188.0,133.65 L188.5,135.16 L189.0,136.69 L189.5,138.22 L190.0,139.74 L190.5,141.22 L191.0,142.64 L191.5,143.98 L192.0,145.22 L192.5,146.36 L193.0,147.42 L193.5,148.40 L194.0,149.32 L194.5,150.20 L195.0,151.05 L195.5,151.87 L196.0,152.65 L196.5,153.40 L197.0,154.10 L197.5,154.77 L198.0,155.40 L198.5,155.98 L199.0,156.53 L199.5,157.03 L200.0,157.50 L200.5,157.94 L201.0,158.36 L201.5,158.75 L202.0,159.11 L202.5,159.46 L203.0,159.79 L203.5,160.09 L204.0,160.38 L204.5,160.65 L205.0,160.89 L205.5,161.13 L206.0,161.36 L206.5,161.58 L207.0,161.79 L207.5,162.01 L208.0,162.22 L208.5,162.42 L209.0,162.63 L209.5,162.84 L210.0,163.04 L210.5,163.24 L211.0,163.45 L211.5,163.65 L212.0,163.84 L212.5,164.03 L213.0,164.22 L213.5,164.41 L214.0,164.59 L214.5,164.77 L215.0,164.95 L215.5,165.12 L216.0,165.29 L216.5,165.46 L217.0,165.62 L217.5,165.78 L218.0,165.93 L218.5,166.08 L219.0,166.23 L219.5,166.37 L220.0,166.51 L220.5,166.65 L221.0,166.79 L221.5,166.92 L222.0,167.06 L222.5,167.19 L223.0,167.32 L223.5,167.45 L224.0,167.58 L224.5,167.71 L225.0,167.84 L225.5,167.97 L226.0,168.10 L226.5,168.22 L227.0,168.35 L227.5,168.47 L228.0,168.60 L228.5,168.72 L229.0,168.84 L229.5,168.96 L230.0,169.08 L230.5,169.19 L231.0,169.31 L231.5,169.43 L232.0,169.54 L232.5,169.65 L233.0,169.77 L233.5,169.88 L234.0,169.99 L234.5,170.10 L235.0,170.21 L235.5,170.31 L236.0,170.42 L236.5,170.52 L237.0,170.63 L237.5,170.73 L238.0,170.83 L238.5,170.93 L239.0,171.03 L239.5,171.12 L240.0,171.22 L240.5,171.31 L241.0,171.41 L241.5,171.50 L242.0,171.59 L242.5,171.68 L243.0,171.77 L243.5,171.86 L244.0,171.94 L244.5,172.03 L245.0,172.11 L245.5,172.19 L246.0,172.27 L246.5,172.35 L247.0,172.43 L247.5,172.51 L248.0,172.58 L248.5,172.65 L249.0,172.73 L249.5,172.80 L250.0,172.87 L250.5,172.94 L251.0,173.01 L251.5,173.07 L252.0,173.14 L252.5,173.21 L253.0,173.28 L253.5,173.35 L254.0,173.42 L254.5,173.49 L255.0,173.56 L255.5,173.62 L256.0,173.69 L256.5,173.76 L257.0,173.83 L257.5,173.90 L258.0,173.97 L258.5,174.04 L259.0,174.10 L259.5,174.17 L260.0,174.24 L260.5,174.31 L261.0,174.38 L261.5,174.44 L262.0,174.51 L262.5,174.58 L263.0,174.64 L263.5,174.71 L264.0,174.78 L264.5,174.84 L265.0,174.91 L265.5,174.98 L266.0,175.04 L266.5,175.11 L267.0,175.17 L267.5,175.24 L268.0,175.30 L268.5,175.37 L269.0,175.43 L269.5,175.50 L270.0,175.56 L270.5,175.62 L271.0,175.69 L271.5,175.75 L272.0,175.81 L272.5,175.87 L273.0,175.94 L273.5,176.00 L274.0,176.06 L274.5,176.12 L275.0,176.18 L275.5,176.24 L276.0,176.30 L276.5,176.36 L277.0,176.41 L277.5,176.47 L278.0,176.53 L278.5,176.59 L279.0,176.64 L279.5,176.70 L280.0,176.76 L280.5,176.81 L281.0,176.87 L281.5,176.92 L282.0,176.97 L282.5,177.03 L283.0,177.08 L283.5,177.13 L284.0,177.18 L284.5,177.23 L285.0,177.28 L285.5,177.33 L286.0,177.38 L286.5,177.43 L287.0,177.48 L287.5,177.53 L288.0,177.57 L288.5,177.62 L289.0,177.66 L289.5,177.71 L290.0,177.75 L290.5,177.80 L291.0,177.84 L291.5,177.88 L292.0,177.92 L292.5,177.96 L293.0,178.00 L293.5,178.04 L294.0,178.08 L294.5,178.12 L295.0,178.16 L295.5,178.19 L296.0,178.23 L296.5,178.26 L297.0,178.30 L297.5,178.33 L298.0,178.36 L298.5,178.39 L299.0,178.42 L299.5,178.45 L300.0,178.48 L300.5,178.51 L301.0,178.54 L301.5,178.56 L302.0,178.59 L302.5,178.61 L303.0,178.64 L303.5,178.66 L304.0,178.68 L304.5,178.70 L305.0,178.72 L305.5,178.74 L306.0,178.76 L306.5,178.77 L307.0,178.79 L307.5,178.81 L308.0,178.82 L308.5,178.83 L309.0,178.84 L309.5,178.86 L310.0,178.87 L310.5,178.87 L311.0,178.88 L311.5,178.89 L312.0,178.89 L312.5,178.90 L313.0,178.90 L313.5,178.91 L314.0,178.91 L314.5,178.91 L315.0,178.90 L315.5,178.90 L316.0,178.89 L316.5,178.89 L317.0,178.88 L317.5,178.87 L318.0,178.86 L318.5,178.84 L319.0,178.83 L319.5,178.81 L320.0,178.79 L320.5,178.77 L321.0,178.75 L321.5,178.73 L322.0,178.70 L322.5,178.68 L323.0,178.65 L323.5,178.62 L324.0,178.59 L324.5,178.56 L325.0,178.53 L325.5,178.50 L326.0,178.46 L326.5,178.43 L327.0,178.39 L327.5,178.36 L328.0,178.32 L328.5,178.28 L329.0,178.24 L329.5,178.20 L330.0,178.16 L330.5,178.12 L331.0,178.07 L331.5,178.03 L332.0,177.99 L332.5,177.94 L333.0,177.90 L333.5,177.85 L334.0,177.81 L334.5,177.76 L335.0,177.71 L335.5,177.67 L336.0,177.62 L336.5,177.57 L337.0,177.52 L337.5,177.47 L338.0,177.42 L338.5,177.38 L339.0,177.33 L339.5,177.28 L340.0,177.23 L340.5,177.18 L341.0,177.13 L341.5,177.08 L342.0,177.03 L342.5,176.98 L343.0,176.94 L343.5,176.89 L344.0,176.84 L344.5,176.79 L345.0,176.74 L345.5,176.70 L346.0,176.65 L346.5,176.60 L347.0,176.56 L347.5,176.51 L348.0,176.47 L348.5,176.42 L349.0,176.38 L349.5,176.33 L350.0,176.29 L350.5,176.25 L351.0,176.21 L351.5,176.17 L352.0,176.13 L352.5,176.09 L353.0,176.06 L353.5,176.04 L353.5,185.04 L353.0,185.06 L352.5,185.10 L352.0,185.14 L351.5,185.18 L351.0,185.23 L350.5,185.27 L350.0,185.32 L349.5,185.36 L349.0,185.41 L348.5,185.45 L348.0,185.50 L347.5,185.55 L347.0,185.60 L346.5,185.65 L346.0,185.70 L345.5,185.75 L345.0,185.80 L344.5,185.85 L344.0,185.90 L343.5,185.95 L343.0,186.00 L342.5,186.05 L342.0,186.10 L341.5,186.15 L341.0,186.21 L340.5,186.26 L340.0,186.31 L339.5,186.36 L339.0,186.41 L338.5,186.46 L338.0,186.51 L337.5,186.57 L337.0,186.62 L336.5,186.67 L336.0,186.72 L335.5,186.77 L335.0,186.82 L334.5,186.87 L334.0,186.91 L333.5,186.96 L333.0,187.01 L332.5,187.06 L332.0,187.10 L331.5,187.15 L331.0,187.20 L330.5,187.24 L330.0,187.28 L329.5,187.33 L329.0,187.37 L328.5,187.41 L328.0,187.45 L327.5,187.49 L327.0,187.53 L326.5,187.57 L326.0,187.60 L325.5,187.64 L325.0,187.67 L324.5,187.71 L324.0,187.74 L323.5,187.77 L323.0,187.80 L322.5,187.83 L322.0,187.86 L321.5,187.88 L321.0,187.91 L320.5,187.93 L320.0,187.95 L319.5,187.97 L319.0,187.99 L318.5,188.01 L318.0,188.03 L317.5,188.04 L317.0,188.05 L316.5,188.06 L316.0,188.07 L315.5,188.08 L315.0,188.08 L314.5,188.09 L314.0,188.09 L313.5,188.09 L313.0,188.09 L312.5,188.09 L312.0,188.09 L311.5,188.08 L311.0,188.08 L310.5,188.07 L310.0,188.06 L309.5,188.05 L309.0,188.04 L308.5,188.03 L308.0,188.02 L307.5,188.01 L307.0,188.00 L306.5,187.98 L306.0,187.97 L305.5,187.95 L305.0,187.93 L304.5,187.92 L304.0,187.90 L303.5,187.88 L303.0,187.86 L302.5,187.83 L302.0,187.81 L301.5,187.79 L301.0,187.76 L300.5,187.74 L300.0,187.71 L299.5,187.68 L299.0,187.65 L298.5,187.63 L298.0,187.60 L297.5,187.57 L297.0,187.53 L296.5,187.50 L296.0,187.47 L295.5,187.44 L295.0,187.40 L294.5,187.37 L294.0,187.33 L293.5,187.29 L293.0,187.26 L292.5,187.22 L292.0,187.18 L291.5,187.14 L291.0,187.10 L290.5,187.06 L290.0,187.02 L289.5,186.97 L289.0,186.93 L288.5,186.89 L288.0,186.84 L287.5,186.80 L287.0,186.75 L286.5,186.71 L286.0,186.66 L285.5,186.61 L285.0,186.56 L284.5,186.52 L284.0,186.47 L283.5,186.42 L283.0,186.37 L282.5,186.32 L282.0,186.26 L281.5,186.21 L281.0,186.16 L280.5,186.11 L280.0,186.05 L279.5,186.00 L279.0,185.95 L278.5,185.89 L278.0,185.84 L277.5,185.78 L277.0,185.73 L276.5,185.67 L276.0,185.61 L275.5,185.56 L275.0,185.50 L274.5,185.44 L274.0,185.38 L273.5,185.32 L273.0,185.26 L272.5,185.21 L272.0,185.15 L271.5,185.09 L271.0,185.03 L270.5,184.96 L270.0,184.90 L269.5,184.84 L269.0,184.78 L268.5,184.72 L268.0,184.66 L267.5,184.59 L267.0,184.53 L266.5,184.47 L266.0,184.41 L265.5,184.34 L265.0,184.28 L264.5,184.22 L264.0,184.15 L263.5,184.09 L263.0,184.02 L262.5,183.96 L262.0,183.90 L261.5,183.83 L261.0,183.77 L260.5,183.70 L260.0,183.64 L259.5,183.57 L259.0,183.51 L258.5,183.44 L258.0,183.38 L257.5,183.31 L257.0,183.25 L256.5,183.18 L256.0,183.12 L255.5,183.05 L255.0,182.98 L254.5,182.92 L254.0,182.85 L253.5,182.79 L253.0,182.72 L252.5,182.66 L252.0,182.59 L251.5,182.53 L251.0,182.46 L250.5,182.40 L250.0,182.33 L249.5,182.27 L249.0,182.20 L248.5,182.13 L248.0,182.06 L247.5,181.99 L247.0,181.92 L246.5,181.84 L246.0,181.77 L245.5,181.69 L245.0,181.61 L244.5,181.53 L244.0,181.45 L243.5,181.37 L243.0,181.29 L242.5,181.21 L242.0,181.12 L241.5,181.03 L241.0,180.95 L240.5,180.86 L240.0,180.77 L239.5,180.67 L239.0,180.58 L238.5,180.49 L238.0,180.39 L237.5,180.30 L237.0,180.20 L236.5,180.10 L236.0,180.00 L235.5,179.90 L235.0,179.80 L234.5,179.70 L234.0,179.59 L233.5,179.49 L233.0,179.38 L232.5,179.27 L232.0,179.17 L231.5,179.06 L231.0,178.95 L230.5,178.84 L230.0,178.72 L229.5,178.61 L229.0,178.50 L228.5,178.38 L228.0,178.27 L227.5,178.15 L227.0,178.03 L226.5,177.91 L226.0,177.79 L225.5,177.67 L225.0,177.55 L224.5,177.43 L224.0,177.30 L223.5,177.18 L223.0,177.05 L222.5,176.93 L222.0,176.80 L221.5,176.67 L221.0,176.54 L220.5,176.41 L220.0,176.28 L219.5,176.15 L219.0,176.01 L218.5,175.87 L218.0,175.73 L217.5,175.58 L217.0,175.43 L216.5,175.27 L216.0,175.12 L215.5,174.95 L215.0,174.79 L214.5,174.62 L214.0,174.45 L213.5,174.27 L213.0,174.09 L212.5,173.91 L212.0,173.73 L211.5,173.54 L211.0,173.35 L210.5,173.15 L210.0,172.96 L209.5,172.76 L209.0,172.56 L208.5,172.36 L208.0,172.17 L207.5,171.96 L207.0,171.76 L206.5,171.55 L206.0,171.34 L205.5,171.12 L205.0,170.89 L204.5,170.67 L204.0,170.44 L203.5,170.21 L203.0,169.98 L202.5,169.75 L202.0,169.52 L201.5,169.27 L201.0,169.02 L200.5,168.76 L200.0,168.49 L199.5,168.20 L199.0,167.88 L198.5,167.53 L198.0,167.14 L197.5,166.72 L197.0,166.27 L196.5,165.78 L196.0,165.25 L195.5,164.69 L195.0,164.10 L194.5,163.47 L194.0,162.80 L193.5,162.10 L193.0,161.34 L192.5,160.50 L192.0,159.56 L191.5,158.52 L191.0,157.37 L190.5,156.13 L190.0,154.82 L189.5,153.46 L189.0,152.08 L188.5,150.68 L188.0,149.29 L187.5,147.91 L187.0,146.52 L186.5,145.13 L186.0,143.72 L185.5,142.28 L185.0,140.82 L184.5,139.32 L184.0,137.79 L183.5,136.22 L183.0,134.61 L182.5,132.96 L182.0,131.27 L181.5,129.55 L181.0,127.77 L180.5,125.95 L180.0,124.06 L179.5,122.09 L179.0,119.98 L178.5,117.72 L178.0,115.34 L177.5,112.87 L177.0,110.42 L176.5,108.12 L176.0,106.04 L175.5,104.19 L175.0,102.55 L174.5,101.08 L174.0,99.74 L173.5,98.49 L173.0,97.39 L172.5,96.46 L172.0,95.74 L171.5,95.21 L171.0,94.85 L170.5,94.62 L170.0,94.48 L169.5,94.38 L169.0,94.30 L168.5,94.25 L168.0,94.22 L167.5,94.20 L167.0,94.19 L166.5,94.19 L166.0,94.19 L165.5,94.19 L165.0,94.18 L164.5,94.18 L164.0,94.18 L163.5,94.18 L163.0,94.17 L162.5,94.17 L162.0,94.17 L161.5,94.17 L161.0,94.16 L160.5,94.16 L160.0,94.16 L159.5,94.16 L159.0,94.16 L158.5,94.15 L158.0,94.15 L157.5,94.15 L157.0,94.15 L156.5,94.15 L156.0,94.15 L155.5,94.14 L155.0,94.14 L154.5,94.14 L154.0,94.14 L153.5,94.14 L153.0,94.14 L152.5,94.13 L152.0,94.13 L151.5,94.13 L151.0,94.13 L150.5,94.13 L150.0,94.13 L149.5,94.13 L149.0,94.13 L148.5,94.12 L148.0,94.12 L147.5,94.12 L147.0,94.12 L146.5,94.12 L146.0,94.12 L145.5,94.12 L145.0,94.12 L144.5,94.12 L144.0,94.12 L143.5,94.11 L143.0,94.11 L142.5,94.11 L142.0,94.11 L141.5,94.11 L141.0,94.11 L140.5,94.11 L140.0,94.11 L139.5,94.11 L139.0,94.11 L138.5,94.11 L138.0,94.11 L137.5,94.11 L137.0,94.11 L136.5,94.11 L136.0,94.11 L135.5,94.11 L135.0,94.10 L134.5,94.10 L134.0,94.10 L133.5,94.10 L133.0,94.10 L132.5,94.10 L132.0,94.10 L131.5,94.10 L131.0,94.10 L130.5,94.10 L130.0,94.10 L129.5,94.10 L129.0,94.10 L128.5,94.10 L128.0,94.10 L127.5,94.10 L127.0,94.10 L126.5,94.10 L126.0,94.10 L125.5,94.10 L125.0,94.10 L124.5,94.10 L124.0,94.10 L123.5,94.10 L123.0,94.10 L122.5,94.10 L122.0,94.10 L121.5,94.10 L121.0,94.10 L120.5,94.10 L120.0,94.10 L119.5,94.10 L119.0,94.10 L118.5,94.10 L118.0,94.10 L117.5,94.10 L117.0,94.10 L116.5,94.10 L116.0,94.10 L115.5,94.10 L115.0,94.10 L114.5,94.10 L114.0,94.10 L113.5,94.10 L113.0,94.10 L112.5,94.10 L112.0,94.10 L111.5,94.11 L111.0,94.11 L110.5,94.11 L110.0,94.11 L109.5,94.11 L109.0,94.11 L108.5,94.11 L108.0,94.11 L107.5,94.11 L107.0,94.11 L106.5,94.11 L106.0,94.11 L105.5,94.11 L105.0,94.11 L104.5,94.12 L104.0,94.12 L103.5,94.12 L103.0,94.12 L102.5,94.12 L102.0,94.12 L101.5,94.12 L101.0,94.12 L100.5,94.12 L100.0,94.13 L99.5,94.13 L99.0,94.13 L98.5,94.13 L98.0,94.13 L97.5,94.13 L97.0,94.13 L96.5,94.13 L96.0,94.14 L95.5,94.14 L95.0,94.14 L94.5,94.14 L94.0,94.14 L93.5,94.14 L93.0,94.14 L92.5,94.14 L92.0,94.15 L91.5,94.15 L91.0,94.15 L90.5,94.15 L90.0,94.15 L89.5,94.15 L89.0,94.16 L88.5,94.16 L88.0,94.16 L87.5,94.16 L87.0,94.16 L86.5,94.16 L86.0,94.17 L85.5,94.17 L85.0,94.17 L84.5,94.17 L84.0,94.17 L83.5,94.17 L83.0,94.18 L82.5,94.18 L82.0,94.18 L81.5,94.18 L81.0,94.18 L80.5,94.18 L80.0,94.19 L79.5,94.19 L79.0,94.19 L78.5,94.19 L78.0,94.19 L77.5,94.19 L77.0,94.20 L76.5,94.20 L76.0,94.20 L75.5,94.20 L75.0,94.20 L74.5,94.20 L74.0,94.21 L73.5,94.21 L73.0,94.21 L72.5,94.21 L72.0,94.21 L71.5,94.22 L71.0,94.22 L70.5,94.22 L70.0,94.22 L69.5,94.22 L69.0,94.22 L68.5,94.23 L68.0,94.23 L67.5,94.23 L67.0,94.23 L66.5,94.23 L66.0,94.24 L65.5,94.24 L65.0,94.24 L64.5,94.24 L64.0,94.24 L63.5,94.24 L63.0,94.25 L62.5,94.25 L62.0,94.25 L61.5,94.25 L61.0,94.25 L60.5,94.25 L60.0,94.26 L59.5,94.26 L59.0,94.26 L58.5,94.26 L58.0,94.26 L57.5,94.26 L57.0,94.27 L56.5,94.27 L56.0,94.27 L55.5,94.27 L55.0,94.27 L54.5,94.27 L54.0,94.28 L53.5,94.28 L53.0,94.28 L52.5,94.28 L52.0,94.28 L51.5,94.28 L51.0,94.29 L50.5,94.29 L50.0,94.29 L49.5,94.29 L49.0,94.29 L48.5,94.29 L48.0,94.29 L47.5,94.30 L47.0,94.30 L46.5,94.30 L46.0,94.30Z" fill="#e4f6fd" stroke="none"/>
<path d="M46.5,81.9V94.3M48.5,81.9V94.3M50.5,81.9V94.3M52.5,81.9V94.3M54.5,81.9V94.3M56.5,81.9V94.3M58.5,81.9V94.3M60.5,81.9V94.3M62.5,81.8V94.2M64.5,81.8V94.2M66.5,81.8V94.2M68.5,81.8V94.2M70.5,81.8V94.2M72.5,81.8V94.2M74.5,81.8V94.2M76.5,81.8V94.2M78.5,81.8V94.2M80.5,81.8V94.2M82.5,81.8V94.2M84.5,81.8V94.2M86.5,81.8V94.2M88.5,81.8V94.2M90.5,81.8V94.2M92.5,81.7V94.1M94.5,81.7V94.1M96.5,81.7V94.1M98.5,81.7V94.1M100.5,81.7V94.1M102.5,81.7V94.1M104.5,81.7V94.1M106.5,81.7V94.1M108.5,81.7V94.1M110.5,81.7V94.1M112.5,81.7V94.1M114.5,81.7V94.1M116.5,81.7V94.1M118.5,81.7V94.1M120.5,81.7V94.1M122.5,81.7V94.1M124.5,81.7V94.1M126.5,81.7V94.1M128.5,81.7V94.1M130.5,81.7V94.1M132.5,81.7V94.1M134.5,81.7V94.1M136.5,81.7V94.1M138.5,81.7V94.1M140.5,81.7V94.1M142.5,81.7V94.1M144.5,81.7V94.1M146.5,81.7V94.1M148.5,81.7V94.1M150.5,81.7V94.1M152.5,81.7V94.1M154.5,81.7V94.1M156.5,81.7V94.1M158.5,81.8V94.2M160.5,81.8V94.2M162.5,81.8V94.2M164.5,81.8V94.2M166.5,81.8V94.2M168.5,81.8V94.2M170.5,82.1V94.5M172.5,83.2V95.7M174.5,86.7V99.7M176.5,92.4V106.0M178.5,101.0V115.3M180.5,109.0V124.1M182.5,115.6V131.3M184.5,121.8V137.8M186.5,127.8V143.7M188.5,133.6V149.3M190.5,139.7V154.8M192.5,145.2V159.6M194.5,149.3V162.8M196.5,152.7V165.3M198.5,155.4V167.1M200.5,157.5V168.5M202.5,159.1V169.5M204.5,160.4V170.4M206.5,161.4V171.3M208.5,162.2V172.2M210.5,163.0V173.0M212.5,163.8V173.7M214.5,164.6V174.4M216.5,165.3V175.1M218.5,165.9V175.7M220.5,166.5V176.3M222.5,167.1V176.8M224.5,167.6V177.3M226.5,168.1V177.8M228.5,168.6V178.3M230.5,169.1V178.7M232.5,169.5V179.2M234.5,170.0V179.6M236.5,170.4V180.0M238.5,170.8V180.4M240.5,171.2V180.8M242.5,171.6V181.1M244.5,171.9V181.5M246.5,172.3V181.8M248.5,172.6V182.1M250.5,172.9V182.3M252.5,173.1V182.6M254.5,173.4V182.9M256.5,173.7V183.1M258.5,174.0V183.4M260.5,174.2V183.6M262.5,174.5V183.9M264.5,174.8V184.2M266.5,175.0V184.4M268.5,175.3V184.7M270.5,175.6V184.9M272.5,175.8V185.1M274.5,176.1V185.4M276.5,176.3V185.6M278.5,176.5V185.8M280.5,176.8V186.1M282.5,177.0V186.3M284.5,177.2V186.5M286.5,177.4V186.7M288.5,177.6V186.8M290.5,177.8V187.0M292.5,177.9V187.2M294.5,178.1V187.3M296.5,178.2V187.5M298.5,178.4V187.6M300.5,178.5V187.7M302.5,178.6V187.8M304.5,178.7V187.9M306.5,178.8V188.0M308.5,178.8V188.0M310.5,178.9V188.1M312.5,178.9V188.1M314.5,178.9V188.1M316.5,178.9V188.1M318.5,178.9V188.0M320.5,178.8V188.0M322.5,178.7V187.9M324.5,178.6V187.7M326.5,178.5V187.6M328.5,178.3V187.5M330.5,178.2V187.3M332.5,178.0V187.1M334.5,177.8V186.9M336.5,177.6V186.7M338.5,177.4V186.5M340.5,177.2V186.3M342.5,177.0V186.1M344.5,176.8V185.9M346.5,176.6V185.7M348.5,176.5V185.5M350.5,176.3V185.3M352.5,176.1V185.1" stroke="#7fcbef" stroke-width="1.0" fill="none" opacity="0.25"/>
<path d="M43.5,81.9h5M43.5,94.3h5M45.5,81.9h5M45.5,94.3h5M47.5,81.9h5M47.5,94.3h5M49.5,81.9h5M49.5,94.3h5M51.5,81.9h5M51.5,94.3h5M53.5,81.9h5M53.5,94.3h5M55.5,81.9h5M55.5,94.3h5M57.5,81.9h5M57.5,94.3h5M59.5,81.8h5M59.5,94.2h5M61.5,81.8h5M61.5,94.2h5M63.5,81.8h5M63.5,94.2h5M65.5,81.8h5M65.5,94.2h5M67.5,81.8h5M67.5,94.2h5M69.5,81.8h5M69.5,94.2h5M71.5,81.8h5M71.5,94.2h5M73.5,81.8h5M73.5,94.2h5M75.5,81.8h5M75.5,94.2h5M77.5,81.8h5M77.5,94.2h5M79.5,81.8h5M79.5,94.2h5M81.5,81.8h5M81.5,94.2h5M83.5,81.8h5M83.5,94.2h5M85.5,81.8h5M85.5,94.2h5M87.5,81.8h5M87.5,94.2h5M89.5,81.7h5M89.5,94.1h5M91.5,81.7h5M91.5,94.1h5M93.5,81.7h5M93.5,94.1h5M95.5,81.7h5M95.5,94.1h5M97.5,81.7h5M97.5,94.1h5M99.5,81.7h5M99.5,94.1h5M101.5,81.7h5M101.5,94.1h5M103.5,81.7h5M103.5,94.1h5M105.5,81.7h5M105.5,94.1h5M107.5,81.7h5M107.5,94.1h5M109.5,81.7h5M109.5,94.1h5M111.5,81.7h5M111.5,94.1h5M113.5,81.7h5M113.5,94.1h5M115.5,81.7h5M115.5,94.1h5M117.5,81.7h5M117.5,94.1h5M119.5,81.7h5M119.5,94.1h5M121.5,81.7h5M121.5,94.1h5M123.5,81.7h5M123.5,94.1h5M125.5,81.7h5M125.5,94.1h5M127.5,81.7h5M127.5,94.1h5M129.5,81.7h5M129.5,94.1h5M131.5,81.7h5M131.5,94.1h5M133.5,81.7h5M133.5,94.1h5M135.5,81.7h5M135.5,94.1h5M137.5,81.7h5M137.5,94.1h5M139.5,81.7h5M139.5,94.1h5M141.5,81.7h5M141.5,94.1h5M143.5,81.7h5M143.5,94.1h5M145.5,81.7h5M145.5,94.1h5M147.5,81.7h5M147.5,94.1h5M149.5,81.7h5M149.5,94.1h5M151.5,81.7h5M151.5,94.1h5M153.5,81.7h5M153.5,94.1h5M155.5,81.8h5M155.5,94.2h5M157.5,81.8h5M157.5,94.2h5M159.5,81.8h5M159.5,94.2h5M161.5,81.8h5M161.5,94.2h5M163.5,81.8h5M163.5,94.2h5M165.5,81.8h5M165.5,94.2h5M167.5,82.1h5M167.5,94.5h5M169.5,83.2h5M169.5,95.7h5M171.5,86.7h5M171.5,99.7h5M173.5,92.4h5M173.5,106.0h5M175.5,101.0h5M175.5,115.3h5M177.5,109.0h5M177.5,124.1h5M179.5,115.6h5M179.5,131.3h5M181.5,121.8h5M181.5,137.8h5M183.5,127.8h5M183.5,143.7h5M185.5,133.6h5M185.5,149.3h5M187.5,139.7h5M187.5,154.8h5M189.5,145.2h5M189.5,159.6h5M191.5,149.3h5M191.5,162.8h5M193.5,152.7h5M193.5,165.3h5M195.5,155.4h5M195.5,167.1h5M197.5,157.5h5M197.5,168.5h5M199.5,159.1h5M199.5,169.5h5M201.5,160.4h5M201.5,170.4h5M203.5,161.4h5M203.5,171.3h5M205.5,162.2h5M205.5,172.2h5M207.5,163.0h5M207.5,173.0h5M209.5,163.8h5M209.5,173.7h5M211.5,164.6h5M211.5,174.4h5M213.5,165.3h5M213.5,175.1h5M215.5,165.9h5M215.5,175.7h5M217.5,166.5h5M217.5,176.3h5M219.5,167.1h5M219.5,176.8h5M221.5,167.6h5M221.5,177.3h5M223.5,168.1h5M223.5,177.8h5M225.5,168.6h5M225.5,178.3h5M227.5,169.1h5M227.5,178.7h5M229.5,169.5h5M229.5,179.2h5M231.5,170.0h5M231.5,179.6h5M233.5,170.4h5M233.5,180.0h5M235.5,170.8h5M235.5,180.4h5M237.5,171.2h5M237.5,180.8h5M239.5,171.6h5M239.5,181.1h5M241.5,171.9h5M241.5,181.5h5M243.5,172.3h5M243.5,181.8h5M245.5,172.6h5M245.5,182.1h5M247.5,172.9h5M247.5,182.3h5M249.5,173.1h5M249.5,182.6h5M251.5,173.4h5M251.5,182.9h5M253.5,173.7h5M253.5,183.1h5M255.5,174.0h5M255.5,183.4h5M257.5,174.2h5M257.5,183.6h5M259.5,174.5h5M259.5,183.9h5M261.5,174.8h5M261.5,184.2h5M263.5,175.0h5M263.5,184.4h5M265.5,175.3h5M265.5,184.7h5M267.5,175.6h5M267.5,184.9h5M269.5,175.8h5M269.5,185.1h5M271.5,176.1h5M271.5,185.4h5M273.5,176.3h5M273.5,185.6h5M275.5,176.5h5M275.5,185.8h5M277.5,176.8h5M277.5,186.1h5M279.5,177.0h5M279.5,186.3h5M281.5,177.2h5M281.5,186.5h5M283.5,177.4h5M283.5,186.7h5M285.5,177.6h5M285.5,186.8h5M287.5,177.8h5M287.5,187.0h5M289.5,177.9h5M289.5,187.2h5M291.5,178.1h5M291.5,187.3h5M293.5,178.2h5M293.5,187.5h5M295.5,178.4h5M295.5,187.6h5M297.5,178.5h5M297.5,187.7h5M299.5,178.6h5M299.5,187.8h5M301.5,178.7h5M301.5,187.9h5M303.5,178.8h5M303.5,188.0h5M305.5,178.8h5M305.5,188.0h5M307.5,178.9h5M307.5,188.1h5M309.5,178.9h5M309.5,188.1h5M311.5,178.9h5M311.5,188.1h5M313.5,178.9h5M313.5,188.1h5M315.5,178.9h5M315.5,188.0h5M317.5,178.8h5M317.5,188.0h5M319.5,178.7h5M319.5,187.9h5M321.5,178.6h5M321.5,187.7h5M323.5,178.5h5M323.5,187.6h5M325.5,178.3h5M325.5,187.5h5M327.5,178.2h5M327.5,187.3h5M329.5,178.0h5M329.5,187.1h5M331.5,177.8h5M331.5,186.9h5M333.5,177.6h5M333.5,186.7h5M335.5,177.4h5M335.5,186.5h5M337.5,177.2h5M337.5,186.3h5M339.5,177.0h5M339.5,186.1h5M341.5,176.8h5M341.5,185.9h5M343.5,176.6h5M343.5,185.7h5M345.5,176.5h5M345.5,185.5h5M347.5,176.3h5M347.5,185.3h5M349.5,176.1h5M349.5,185.1h5" stroke="#8ccdee" stroke-width="0.9" fill="none" opacity="0.8"/>
<path d="M46.0,88.10 L46.5,88.10 L47.0,88.10 L47.5,88.10 L48.0,88.09 L48.5,88.09 L49.0,88.09 L49.5,88.09 L50.0,88.09 L50.5,88.09 L51.0,88.09 L51.5,88.08 L52.0,88.08 L52.5,88.08 L53.0,88.08 L53.5,88.08 L54.0,88.08 L54.5,88.07 L55.0,88.07 L55.5,88.07 L56.0,88.07 L56.5,88.07 L57.0,88.07 L57.5,88.06 L58.0,88.06 L58.5,88.06 L59.0,88.06 L59.5,88.06 L60.0,88.06 L60.5,88.05 L61.0,88.05 L61.5,88.05 L62.0,88.05 L62.5,88.05 L63.0,88.05 L63.5,88.04 L64.0,88.04 L64.5,88.04 L65.0,88.04 L65.5,88.04 L66.0,88.04 L66.5,88.03 L67.0,88.03 L67.5,88.03 L68.0,88.03 L68.5,88.03 L69.0,88.02 L69.5,88.02 L70.0,88.02 L70.5,88.02 L71.0,88.02 L71.5,88.02 L72.0,88.01 L72.5,88.01 L73.0,88.01 L73.5,88.01 L74.0,88.01 L74.5,88.00 L75.0,88.00 L75.5,88.00 L76.0,88.00 L76.5,88.00 L77.0,88.00 L77.5,87.99 L78.0,87.99 L78.5,87.99 L79.0,87.99 L79.5,87.99 L80.0,87.99 L80.5,87.98 L81.0,87.98 L81.5,87.98 L82.0,87.98 L82.5,87.98 L83.0,87.98 L83.5,87.97 L84.0,87.97 L84.5,87.97 L85.0,87.97 L85.5,87.97 L86.0,87.97 L86.5,87.96 L87.0,87.96 L87.5,87.96 L88.0,87.96 L88.5,87.96 L89.0,87.96 L89.5,87.95 L90.0,87.95 L90.5,87.95 L91.0,87.95 L91.5,87.95 L92.0,87.95 L92.5,87.94 L93.0,87.94 L93.5,87.94 L94.0,87.94 L94.5,87.94 L95.0,87.94 L95.5,87.94 L96.0,87.94 L96.5,87.93 L97.0,87.93 L97.5,87.93 L98.0,87.93 L98.5,87.93 L99.0,87.93 L99.5,87.93 L100.0,87.93 L100.5,87.92 L101.0,87.92 L101.5,87.92 L102.0,87.92 L102.5,87.92 L103.0,87.92 L103.5,87.92 L104.0,87.92 L104.5,87.92 L105.0,87.91 L105.5,87.91 L106.0,87.91 L106.5,87.91 L107.0,87.91 L107.5,87.91 L108.0,87.91 L108.5,87.91 L109.0,87.91 L109.5,87.91 L110.0,87.91 L110.5,87.91 L111.0,87.91 L111.5,87.91 L112.0,87.90 L112.5,87.90 L113.0,87.90 L113.5,87.90 L114.0,87.90 L114.5,87.90 L115.0,87.90 L115.5,87.90 L116.0,87.90 L116.5,87.90 L117.0,87.90 L117.5,87.90 L118.0,87.90 L118.5,87.90 L119.0,87.90 L119.5,87.90 L120.0,87.90 L120.5,87.90 L121.0,87.90 L121.5,87.90 L122.0,87.90 L122.5,87.90 L123.0,87.90 L123.5,87.90 L124.0,87.90 L124.5,87.90 L125.0,87.90 L125.5,87.90 L126.0,87.90 L126.5,87.90 L127.0,87.90 L127.5,87.90 L128.0,87.90 L128.5,87.90 L129.0,87.90 L129.5,87.90 L130.0,87.90 L130.5,87.90 L131.0,87.90 L131.5,87.90 L132.0,87.90 L132.5,87.90 L133.0,87.90 L133.5,87.90 L134.0,87.90 L134.5,87.90 L135.0,87.90 L135.5,87.91 L136.0,87.91 L136.5,87.91 L137.0,87.91 L137.5,87.91 L138.0,87.91 L138.5,87.91 L139.0,87.91 L139.5,87.91 L140.0,87.91 L140.5,87.91 L141.0,87.91 L141.5,87.91 L142.0,87.91 L142.5,87.91 L143.0,87.91 L143.5,87.91 L144.0,87.92 L144.5,87.92 L145.0,87.92 L145.5,87.92 L146.0,87.92 L146.5,87.92 L147.0,87.92 L147.5,87.92 L148.0,87.92 L148.5,87.92 L149.0,87.93 L149.5,87.93 L150.0,87.93 L150.5,87.93 L151.0,87.93 L151.5,87.93 L152.0,87.93 L152.5,87.93 L153.0,87.94 L153.5,87.94 L154.0,87.94 L154.5,87.94 L155.0,87.94 L155.5,87.94 L156.0,87.95 L156.5,87.95 L157.0,87.95 L157.5,87.95 L158.0,87.95 L158.5,87.95 L159.0,87.96 L159.5,87.96 L160.0,87.96 L160.5,87.96 L161.0,87.96 L161.5,87.97 L162.0,87.97 L162.5,87.97 L163.0,87.97 L163.5,87.98 L164.0,87.98 L164.5,87.98 L165.0,87.98 L165.5,87.99 L166.0,87.99 L166.5,87.99 L167.0,87.99 L167.5,88.00 L168.0,88.02 L168.5,88.05 L169.0,88.10 L169.5,88.18 L170.0,88.28 L170.5,88.42 L171.0,88.63 L171.5,88.96 L172.0,89.45 L172.5,90.13 L173.0,91.00 L173.5,92.05 L174.0,93.22 L174.5,94.49 L175.0,95.88 L175.5,97.44 L176.0,99.21 L176.5,101.20 L177.0,103.41 L177.5,105.77 L178.0,108.15 L178.5,110.44 L179.0,112.61 L179.5,114.63 L180.0,116.53 L180.5,118.33 L181.0,120.09 L181.5,121.79 L182.0,123.46 L182.5,125.09 L183.0,126.69 L183.5,128.27 L184.0,129.81 L184.5,131.32 L185.0,132.82 L185.5,134.29 L186.0,135.74 L186.5,137.18 L187.0,138.60 L187.5,140.03 L188.0,141.47 L188.5,142.92 L189.0,144.38 L189.5,145.84 L190.0,147.28 L190.5,148.67 L191.0,150.00 L191.5,151.25 L192.0,152.39 L192.5,153.43 L193.0,154.38 L193.5,155.25 L194.0,156.06 L194.5,156.83 L195.0,157.57 L195.5,158.28 L196.0,158.95 L196.5,159.59 L197.0,160.18 L197.5,160.75 L198.0,161.27 L198.5,161.76 L199.0,162.20 L199.5,162.61 L200.0,163.00 L200.5,163.35 L201.0,163.69 L201.5,164.01 L202.0,164.32 L202.5,164.61 L203.0,164.89 L203.5,165.15 L204.0,165.41 L204.5,165.66 L205.0,165.89 L205.5,166.12 L206.0,166.35 L206.5,166.57 L207.0,166.78 L207.5,166.99 L208.0,167.19 L208.5,167.39 L209.0,167.60 L209.5,167.80 L210.0,168.00 L210.5,168.20 L211.0,168.40 L211.5,168.59 L212.0,168.78 L212.5,168.97 L213.0,169.16 L213.5,169.34 L214.0,169.52 L214.5,169.70 L215.0,169.87 L215.5,170.04 L216.0,170.20 L216.5,170.37 L217.0,170.52 L217.5,170.68 L218.0,170.83 L218.5,170.98 L219.0,171.12 L219.5,171.26 L220.0,171.40 L220.5,171.53 L221.0,171.67 L221.5,171.80 L222.0,171.93 L222.5,172.06 L223.0,172.19 L223.5,172.32 L224.0,172.44 L224.5,172.57 L225.0,172.70 L225.5,172.82 L226.0,172.94 L226.5,173.07 L227.0,173.19 L227.5,173.31 L228.0,173.43 L228.5,173.55 L229.0,173.67 L229.5,173.78 L230.0,173.90 L230.5,174.02 L231.0,174.13 L231.5,174.24 L232.0,174.35 L232.5,174.46 L233.0,174.57 L233.5,174.68 L234.0,174.79 L234.5,174.90 L235.0,175.00 L235.5,175.11 L236.0,175.21 L236.5,175.31 L237.0,175.41 L237.5,175.51 L238.0,175.61 L238.5,175.71 L239.0,175.80 L239.5,175.90 L240.0,175.99 L240.5,176.09 L241.0,176.18 L241.5,176.27 L242.0,176.36 L242.5,176.44 L243.0,176.53 L243.5,176.61 L244.0,176.70 L244.5,176.78 L245.0,176.86 L245.5,176.94 L246.0,177.02 L246.5,177.10 L247.0,177.17 L247.5,177.25 L248.0,177.32 L248.5,177.39 L249.0,177.46 L249.5,177.53 L250.0,177.60 L250.5,177.67 L251.0,177.73 L251.5,177.80 L252.0,177.87 L252.5,177.93 L253.0,178.00 L253.5,178.07 L254.0,178.14 L254.5,178.20 L255.0,178.27 L255.5,178.34 L256.0,178.40 L256.5,178.47 L257.0,178.54 L257.5,178.61 L258.0,178.67 L258.5,178.74 L259.0,178.81 L259.5,178.87 L260.0,178.94 L260.5,179.01 L261.0,179.07 L261.5,179.14 L262.0,179.20 L262.5,179.27 L263.0,179.33 L263.5,179.40 L264.0,179.47 L264.5,179.53 L265.0,179.60 L265.5,179.66 L266.0,179.72 L266.5,179.79 L267.0,179.85 L267.5,179.92 L268.0,179.98 L268.5,180.04 L269.0,180.11 L269.5,180.17 L270.0,180.23 L270.5,180.29 L271.0,180.36 L271.5,180.42 L272.0,180.48 L272.5,180.54 L273.0,180.60 L273.5,180.66 L274.0,180.72 L274.5,180.78 L275.0,180.84 L275.5,180.90 L276.0,180.95 L276.5,181.01 L277.0,181.07 L277.5,181.13 L278.0,181.18 L278.5,181.24 L279.0,181.30 L279.5,181.35 L280.0,181.41 L280.5,181.46 L281.0,181.51 L281.5,181.57 L282.0,181.62 L282.5,181.67 L283.0,181.72 L283.5,181.77 L284.0,181.82 L284.5,181.87 L285.0,181.92 L285.5,181.97 L286.0,182.02 L286.5,182.07 L287.0,182.12 L287.5,182.16 L288.0,182.21 L288.5,182.25 L289.0,182.30 L289.5,182.34 L290.0,182.38 L290.5,182.43 L291.0,182.47 L291.5,182.51 L292.0,182.55 L292.5,182.59 L293.0,182.63 L293.5,182.67 L294.0,182.71 L294.5,182.74 L295.0,182.78 L295.5,182.81 L296.0,182.85 L296.5,182.88 L297.0,182.91 L297.5,182.95 L298.0,182.98 L298.5,183.01 L299.0,183.04 L299.5,183.07 L300.0,183.10 L300.5,183.12 L301.0,183.15 L301.5,183.17 L302.0,183.20 L302.5,183.22 L303.0,183.25 L303.5,183.27 L304.0,183.29 L304.5,183.31 L305.0,183.33 L305.5,183.35 L306.0,183.36 L306.5,183.38 L307.0,183.39 L307.5,183.41 L308.0,183.42 L308.5,183.43 L309.0,183.44 L309.5,183.45 L310.0,183.46 L310.5,183.47 L311.0,183.48 L311.5,183.49 L312.0,183.49 L312.5,183.49 L313.0,183.50 L313.5,183.50 L314.0,183.50 L314.5,183.50 L315.0,183.49 L315.5,183.49 L316.0,183.48 L316.5,183.48 L317.0,183.47 L317.5,183.45 L318.0,183.44 L318.5,183.43 L319.0,183.41 L319.5,183.39 L320.0,183.37 L320.5,183.35 L321.0,183.33 L321.5,183.30 L322.0,183.28 L322.5,183.25 L323.0,183.23 L323.5,183.20 L324.0,183.17 L324.5,183.13 L325.0,183.10 L325.5,183.07 L326.0,183.03 L326.5,183.00 L327.0,182.96 L327.5,182.92 L328.0,182.88 L328.5,182.84 L329.0,182.80 L329.5,182.76 L330.0,182.72 L330.5,182.68 L331.0,182.63 L331.5,182.59 L332.0,182.55 L332.5,182.50 L333.0,182.45 L333.5,182.41 L334.0,182.36 L334.5,182.31 L335.0,182.26 L335.5,182.22 L336.0,182.17 L336.5,182.12 L337.0,182.07 L337.5,182.02 L338.0,181.97 L338.5,181.92 L339.0,181.87 L339.5,181.82 L340.0,181.77 L340.5,181.72 L341.0,181.67 L341.5,181.62 L342.0,181.57 L342.5,181.52 L343.0,181.47 L343.5,181.42 L344.0,181.37 L344.5,181.32 L345.0,181.27 L345.5,181.22 L346.0,181.17 L346.5,181.13 L347.0,181.08 L347.5,181.03 L348.0,180.98 L348.5,180.94 L349.0,180.89 L349.5,180.85 L350.0,180.80 L350.5,180.76 L351.0,180.72 L351.5,180.68 L352.0,180.63 L352.5,180.59 L353.0,180.56 L353.5,180.54" stroke="#55acdc" stroke-width="1.9" fill="none" stroke-linejoin="round"/></g>
<path d="M45.5,315.7V530.2M42.5,315.7h3M42.5,422.4h3M42.5,530.2h3" stroke="#222" stroke-width="1.1" fill="none"/>
<text x="39.3" y="319.2" font-size="13" text-anchor="end" fill="#1e1e1e" >5.0</text>
<text x="39.3" y="426.6" font-size="13" text-anchor="end" fill="#1e1e1e" >2.5</text>
<text x="39.3" y="534.3" font-size="13" text-anchor="end" fill="#1e1e1e" >0.0</text>
<text transform="translate(17,418.8) rotate(-90)" font-size="12.6" text-anchor="middle" fill="#1e1e1e">[Ca<tspan font-size="9.6" dy="-3.8">2+</tspan><tspan dy="3.8">]</tspan><tspan font-size="8.5" dy="2.5">i</tspan><tspan dy="-2.5"> (μM)</tspan></text>
<path d="M68.4,531.3H107.8" stroke="#111" stroke-width="1.6"/>
<text x="82.3" y="548.8" font-size="13" text-anchor="middle" fill="#1e1e1e" >30 s</text>
<path d="M122.3,341H240.8" stroke="#111" stroke-width="1.5"/>
<text x="123.0" y="337.3" font-size="13" text-anchor="start" fill="#1e1e1e" >PS (40 μM)</text>
<path d="M274.3,362.7H303.5" stroke="#c6c6c6" stroke-width="2"/>
<text x="307.7" y="367.09999999999997" font-size="13" text-anchor="start" fill="#1e1e1e" >NT</text>
<path d="M274.3,378.6H303.5" stroke="#000" stroke-width="2"/>
<text x="307.7" y="383.04999999999995" font-size="13" text-anchor="start" fill="#1e1e1e" >WT</text>
<path d="M274.3,394.6H303.5" stroke="#1f8c60" stroke-width="2"/>
<text x="307.7" y="398.99999999999994" font-size="13" text-anchor="start" fill="#1e1e1e" >D614V</text>
<path d="M274.3,410.5H303.5" stroke="#55acdc" stroke-width="2"/>
<text x="307.7" y="414.94999999999993" font-size="13" text-anchor="start" fill="#1e1e1e" >L794V</text>
<path d="M274.3,426.5H303.5" stroke="#c9799d" stroke-width="2"/>
<text x="307.7" y="430.9" font-size="13" text-anchor="start" fill="#1e1e1e" >V1002L</text>
<g clip-path="url(#plotclip)"><path d="M46.0,528.20 L46.5,528.20 L47.0,528.20 L47.5,528.21 L48.0,528.21 L48.5,528.21 L49.0,528.21 L49.5,528.21 L50.0,528.22 L50.5,528.22 L51.0,528.22 L51.5,528.22 L52.0,528.22 L52.5,528.23 L53.0,528.23 L53.5,528.23 L54.0,528.23 L54.5,528.23 L55.0,528.24 L55.5,528.24 L56.0,528.24 L56.5,528.24 L57.0,528.24 L57.5,528.25 L58.0,528.25 L58.5,528.25 L59.0,528.25 L59.5,528.25 L60.0,528.26 L60.5,528.26 L61.0,528.26 L61.5,528.26 L62.0,528.26 L62.5,528.27 L63.0,528.27 L63.5,528.27 L64.0,528.27 L64.5,528.27 L65.0,528.28 L65.5,528.28 L66.0,528.28 L66.5,528.28 L67.0,528.28 L67.5,528.29 L68.0,528.29 L68.5,528.29 L69.0,528.29 L69.5,528.29 L70.0,528.30 L70.5,528.30 L71.0,528.30 L71.5,528.30 L72.0,528.30 L72.5,528.31 L73.0,528.31 L73.5,528.31 L74.0,528.31 L74.5,528.31 L75.0,528.32 L75.5,528.32 L76.0,528.32 L76.5,528.32 L77.0,528.32 L77.5,528.33 L78.0,528.33 L78.5,528.33 L79.0,528.33 L79.5,528.33 L80.0,528.34 L80.5,528.34 L81.0,528.34 L81.5,528.34 L82.0,528.35 L82.5,528.35 L83.0,528.35 L83.5,528.35 L84.0,528.35 L84.5,528.36 L85.0,528.36 L85.5,528.36 L86.0,528.36 L86.5,528.36 L87.0,528.37 L87.5,528.37 L88.0,528.37 L88.5,528.37 L89.0,528.37 L89.5,528.38 L90.0,528.38 L90.5,528.38 L91.0,528.38 L91.5,528.38 L92.0,528.39 L92.5,528.39 L93.0,528.39 L93.5,528.39 L94.0,528.39 L94.5,528.40 L95.0,528.40 L95.5,528.40 L96.0,528.40 L96.5,528.41 L97.0,528.41 L97.5,528.41 L98.0,528.41 L98.5,528.41 L99.0,528.42 L99.5,528.42 L100.0,528.42 L100.5,528.42 L101.0,528.42 L101.5,528.43 L102.0,528.43 L102.5,528.43 L103.0,528.43 L103.5,528.43 L104.0,528.44 L104.5,528.44 L105.0,528.44 L105.5,528.44 L106.0,528.44 L106.5,528.45 L107.0,528.45 L107.5,528.45 L108.0,528.45 L108.5,528.46 L109.0,528.46 L109.5,528.46 L110.0,528.46 L110.5,528.46 L111.0,528.47 L111.5,528.47 L112.0,528.47 L112.5,528.47 L113.0,528.47 L113.5,528.48 L114.0,528.48 L114.5,528.48 L115.0,528.48 L115.5,528.48 L116.0,528.49 L116.5,528.49 L117.0,528.49 L117.5,528.49 L118.0,528.49 L118.5,528.50 L119.0,528.50 L119.5,528.50 L120.0,528.50 L120.5,528.50 L121.0,528.51 L121.5,528.51 L122.0,528.51 L122.5,528.51 L123.0,528.51 L123.5,528.52 L124.0,528.52 L124.5,528.52 L125.0,528.52 L125.5,528.53 L126.0,528.53 L126.5,528.53 L127.0,528.53 L127.5,528.53 L128.0,528.54 L128.5,528.54 L129.0,528.54 L129.5,528.54 L130.0,528.54 L130.5,528.55 L131.0,528.55 L131.5,528.55 L132.0,528.55 L132.5,528.55 L133.0,528.56 L133.5,528.56 L134.0,528.56 L134.5,528.56 L135.0,528.56 L135.5,528.57 L136.0,528.57 L136.5,528.57 L137.0,528.57 L137.5,528.57 L138.0,528.58 L138.5,528.58 L139.0,528.58 L139.5,528.58 L140.0,528.58 L140.5,528.59 L141.0,528.59 L141.5,528.59 L142.0,528.59 L142.5,528.59 L143.0,528.60 L143.5,528.60 L144.0,528.60 L144.5,528.60 L145.0,528.60 L145.5,528.61 L146.0,528.61 L146.5,528.61 L147.0,528.61 L147.5,528.61 L148.0,528.62 L148.5,528.62 L149.0,528.62 L149.5,528.62 L150.0,528.62 L150.5,528.62 L151.0,528.63 L151.5,528.63 L152.0,528.63 L152.5,528.63 L153.0,528.63 L153.5,528.64 L154.0,528.64 L154.5,528.64 L155.0,528.64 L155.5,528.64 L156.0,528.65 L156.5,528.65 L157.0,528.65 L157.5,528.65 L158.0,528.65 L158.5,528.66 L159.0,528.66 L159.5,528.66 L160.0,528.66 L160.5,528.66 L161.0,528.66 L161.5,528.67 L162.0,528.67 L162.5,528.67 L163.0,528.67 L163.5,528.67 L164.0,528.68 L164.5,528.68 L165.0,528.68 L165.5,528.68 L166.0,528.68 L166.5,528.69 L167.0,528.69 L167.5,528.69 L168.0,528.69 L168.5,528.69 L169.0,528.69 L169.5,528.70 L170.0,528.70 L170.5,528.70 L171.0,528.70 L171.5,528.70 L172.0,528.71 L172.5,528.71 L173.0,528.71 L173.5,528.71 L174.0,528.71 L174.5,528.71 L175.0,528.72 L175.5,528.72 L176.0,528.72 L176.5,528.72 L177.0,528.72 L177.5,528.73 L178.0,528.73 L178.5,528.73 L179.0,528.73 L179.5,528.73 L180.0,528.73 L180.5,528.74 L181.0,528.74 L181.5,528.74 L182.0,528.74 L182.5,528.74 L183.0,528.74 L183.5,528.75 L184.0,528.75 L184.5,528.75 L185.0,528.75 L185.5,528.75 L186.0,528.75 L186.5,528.76 L187.0,528.76 L187.5,528.76 L188.0,528.76 L188.5,528.76 L189.0,528.76 L189.5,528.77 L190.0,528.77 L190.5,528.77 L191.0,528.77 L191.5,528.77 L192.0,528.77 L192.5,528.78 L193.0,528.78 L193.5,528.78 L194.0,528.78 L194.5,528.78 L195.0,528.78 L195.5,528.79 L196.0,528.79 L196.5,528.79 L197.0,528.79 L197.5,528.79 L198.0,528.79 L198.5,528.80 L199.0,528.80 L199.5,528.80 L200.0,528.80 L200.5,528.80 L201.0,528.80 L201.5,528.80 L202.0,528.81 L202.5,528.81 L203.0,528.81 L203.5,528.81 L204.0,528.81 L204.5,528.81 L205.0,528.82 L205.5,528.82 L206.0,528.82 L206.5,528.82 L207.0,528.82 L207.5,528.82 L208.0,528.82 L208.5,528.83 L209.0,528.83 L209.5,528.83 L210.0,528.83 L210.5,528.83 L211.0,528.83 L211.5,528.84 L212.0,528.84 L212.5,528.84 L213.0,528.84 L213.5,528.84 L214.0,528.84 L214.5,528.84 L215.0,528.85 L215.5,528.85 L216.0,528.85 L216.5,528.85 L217.0,528.85 L217.5,528.85 L218.0,528.85 L218.5,528.86 L219.0,528.86 L219.5,528.86 L220.0,528.86 L220.5,528.86 L221.0,528.86 L221.5,528.86 L222.0,528.87 L222.5,528.87 L223.0,528.87 L223.5,528.87 L224.0,528.87 L224.5,528.87 L225.0,528.87 L225.5,528.88 L226.0,528.88 L226.5,528.88 L227.0,528.88 L227.5,528.88 L228.0,528.88 L228.5,528.88 L229.0,528.89 L229.5,528.89 L230.0,528.89 L230.5,528.89 L231.0,528.89 L231.5,528.89 L232.0,528.89 L232.5,528.90 L233.0,528.90 L233.5,528.90 L234.0,528.90 L234.5,528.90 L235.0,528.90 L235.5,528.90 L236.0,528.90 L236.5,528.91 L237.0,528.91 L237.5,528.91 L238.0,528.91 L238.5,528.91 L239.0,528.91 L239.5,528.91 L240.0,528.92 L240.5,528.92 L241.0,528.92 L241.5,528.92 L242.0,528.92 L242.5,528.92 L243.0,528.92 L243.5,528.92 L244.0,528.93 L244.5,528.93 L245.0,528.93 L245.5,528.93 L246.0,528.93 L246.5,528.93 L247.0,528.93 L247.5,528.94 L248.0,528.94 L248.5,528.94 L249.0,528.94 L249.5,528.94 L250.0,528.94 L250.5,528.94 L251.0,528.94 L251.5,528.95 L252.0,528.95 L252.5,528.95 L253.0,528.95 L253.5,528.95 L254.0,528.95 L254.5,528.95 L255.0,528.96 L255.5,528.96 L256.0,528.96 L256.5,528.96 L257.0,528.96 L257.5,528.96 L258.0,528.96 L258.5,528.96 L259.0,528.97 L259.5,528.97 L260.0,528.97 L260.5,528.97 L261.0,528.97 L261.5,528.97 L262.0,528.97 L262.5,528.97 L263.0,528.98 L263.5,528.98 L264.0,528.98 L264.5,528.98 L265.0,528.98 L265.5,528.98 L266.0,528.98 L266.5,528.98 L267.0,528.99 L267.5,528.99 L268.0,528.99 L268.5,528.99 L269.0,528.99 L269.5,528.99 L270.0,528.99 L270.5,528.99 L271.0,529.00 L271.5,529.00 L272.0,529.00 L272.5,529.00 L273.0,529.00 L273.5,529.00 L274.0,529.00 L274.5,529.00 L275.0,529.01 L275.5,529.01 L276.0,529.01 L276.5,529.01 L277.0,529.01 L277.5,529.01 L278.0,529.01 L278.5,529.01 L279.0,529.02 L279.5,529.02 L280.0,529.02 L280.5,529.02 L281.0,529.02 L281.5,529.02 L282.0,529.02 L282.5,529.02 L283.0,529.03 L283.5,529.03 L284.0,529.03 L284.5,529.03 L285.0,529.03 L285.5,529.03 L286.0,529.03 L286.5,529.03 L287.0,529.04 L287.5,529.04 L288.0,529.04 L288.5,529.04 L289.0,529.04 L289.5,529.04 L290.0,529.04 L290.5,529.04 L291.0,529.04 L291.5,529.05 L292.0,529.05 L292.5,529.05 L293.0,529.05 L293.5,529.05 L294.0,529.05 L294.5,529.05 L295.0,529.05 L295.5,529.06 L296.0,529.06 L296.5,529.06 L297.0,529.06 L297.5,529.06 L298.0,529.06 L298.5,529.06 L299.0,529.06 L299.5,529.07 L300.0,529.07 L300.5,529.07 L301.0,529.07 L301.5,529.07 L302.0,529.07 L302.5,529.07 L303.0,529.07 L303.5,529.08 L304.0,529.08 L304.5,529.08 L305.0,529.08 L305.5,529.08 L306.0,529.08 L306.5,529.08 L307.0,529.08 L307.5,529.09 L308.0,529.09 L308.5,529.09 L309.0,529.09 L309.5,529.09 L310.0,529.09 L310.5,529.09 L311.0,529.09 L311.5,529.09 L312.0,529.10 L312.5,529.10 L313.0,529.10 L313.5,529.10 L314.0,529.10 L314.5,529.10 L315.0,529.10 L315.5,529.10 L316.0,529.11 L316.5,529.11 L317.0,529.11 L317.5,529.11 L318.0,529.11 L318.5,529.11 L319.0,529.11 L319.5,529.11 L320.0,529.12 L320.5,529.12 L321.0,529.12 L321.5,529.12 L322.0,529.12 L322.5,529.12 L323.0,529.12 L323.5,529.12 L324.0,529.13 L324.5,529.13 L325.0,529.13 L325.5,529.13 L326.0,529.13 L326.5,529.13 L327.0,529.13 L327.5,529.13 L328.0,529.14 L328.5,529.14 L329.0,529.14 L329.5,529.14 L330.0,529.14 L330.5,529.14 L331.0,529.14 L331.5,529.14 L332.0,529.15 L332.5,529.15 L333.0,529.15 L333.5,529.15 L334.0,529.15 L334.5,529.15 L335.0,529.15 L335.5,529.15 L336.0,529.16 L336.5,529.16 L337.0,529.16 L337.5,529.16 L338.0,529.16 L338.5,529.16 L339.0,529.16 L339.5,529.16 L340.0,529.17 L340.5,529.17 L341.0,529.17 L341.5,529.17 L342.0,529.17 L342.5,529.17 L343.0,529.17 L343.5,529.17 L344.0,529.18 L344.5,529.18 L345.0,529.18 L345.5,529.18 L346.0,529.18 L346.5,529.18 L347.0,529.18 L347.5,529.18 L348.0,529.19 L348.5,529.19 L349.0,529.19 L349.5,529.19 L350.0,529.19 L350.5,529.19 L351.0,529.19 L351.5,529.19 L352.0,529.20 L352.5,529.20 L353.0,529.20 L353.5,529.20" stroke="#d0d0d0" stroke-width="1.6" fill="none" stroke-linejoin="round"/></g>
<g clip-path="url(#plotclip)"><path d="M46.0,526.00 L46.5,526.00 L47.0,525.99 L47.5,525.99 L48.0,525.99 L48.5,525.99 L49.0,525.99 L49.5,525.98 L50.0,525.98 L50.5,525.98 L51.0,525.98 L51.5,525.97 L52.0,525.97 L52.5,525.97 L53.0,525.97 L53.5,525.96 L54.0,525.96 L54.5,525.96 L55.0,525.96 L55.5,525.95 L56.0,525.95 L56.5,525.95 L57.0,525.95 L57.5,525.94 L58.0,525.94 L58.5,525.94 L59.0,525.94 L59.5,525.93 L60.0,525.93 L60.5,525.93 L61.0,525.93 L61.5,525.92 L62.0,525.92 L62.5,525.92 L63.0,525.92 L63.5,525.91 L64.0,525.91 L64.5,525.91 L65.0,525.91 L65.5,525.90 L66.0,525.90 L66.5,525.90 L67.0,525.90 L67.5,525.89 L68.0,525.89 L68.5,525.89 L69.0,525.88 L69.5,525.88 L70.0,525.88 L70.5,525.88 L71.0,525.87 L71.5,525.87 L72.0,525.87 L72.5,525.87 L73.0,525.86 L73.5,525.86 L74.0,525.86 L74.5,525.86 L75.0,525.85 L75.5,525.85 L76.0,525.85 L76.5,525.85 L77.0,525.84 L77.5,525.84 L78.0,525.84 L78.5,525.84 L79.0,525.83 L79.5,525.83 L80.0,525.83 L80.5,525.83 L81.0,525.82 L81.5,525.82 L82.0,525.82 L82.5,525.82 L83.0,525.81 L83.5,525.81 L84.0,525.81 L84.5,525.80 L85.0,525.80 L85.5,525.80 L86.0,525.80 L86.5,525.79 L87.0,525.79 L87.5,525.79 L88.0,525.79 L88.5,525.78 L89.0,525.78 L89.5,525.78 L90.0,525.78 L90.5,525.77 L91.0,525.77 L91.5,525.77 L92.0,525.77 L92.5,525.76 L93.0,525.76 L93.5,525.76 L94.0,525.76 L94.5,525.75 L95.0,525.75 L95.5,525.75 L96.0,525.75 L96.5,525.74 L97.0,525.74 L97.5,525.74 L98.0,525.74 L98.5,525.73 L99.0,525.73 L99.5,525.73 L100.0,525.73 L100.5,525.72 L101.0,525.72 L101.5,525.72 L102.0,525.72 L102.5,525.71 L103.0,525.71 L103.5,525.71 L104.0,525.71 L104.5,525.70 L105.0,525.70 L105.5,525.70 L106.0,525.70 L106.5,525.69 L107.0,525.69 L107.5,525.69 L108.0,525.69 L108.5,525.68 L109.0,525.68 L109.5,525.68 L110.0,525.68 L110.5,525.67 L111.0,525.67 L111.5,525.67 L112.0,525.67 L112.5,525.66 L113.0,525.66 L113.5,525.66 L114.0,525.66 L114.5,525.65 L115.0,525.65 L115.5,525.65 L116.0,525.65 L116.5,525.64 L117.0,525.64 L117.5,525.64 L118.0,525.64 L118.5,525.63 L119.0,525.63 L119.5,525.63 L120.0,525.63 L120.5,525.62 L121.0,525.62 L121.5,525.62 L122.0,525.62 L122.5,525.62 L123.0,525.61 L123.5,525.61 L124.0,525.61 L124.5,525.61 L125.0,525.60 L125.5,525.60 L126.0,525.60 L126.5,525.60 L127.0,525.59 L127.5,525.59 L128.0,525.59 L128.5,525.59 L129.0,525.59 L129.5,525.58 L130.0,525.58 L130.5,525.58 L131.0,525.58 L131.5,525.57 L132.0,525.57 L132.5,525.57 L133.0,525.57 L133.5,525.57 L134.0,525.56 L134.5,525.56 L135.0,525.56 L135.5,525.56 L136.0,525.56 L136.5,525.55 L137.0,525.55 L137.5,525.55 L138.0,525.55 L138.5,525.55 L139.0,525.54 L139.5,525.54 L140.0,525.54 L140.5,525.54 L141.0,525.53 L141.5,525.53 L142.0,525.53 L142.5,525.53 L143.0,525.53 L143.5,525.52 L144.0,525.52 L144.5,525.52 L145.0,525.52 L145.5,525.52 L146.0,525.52 L146.5,525.51 L147.0,525.51 L147.5,525.51 L148.0,525.51 L148.5,525.51 L149.0,525.50 L149.5,525.50 L150.0,525.50 L150.5,525.50 L151.0,525.50 L151.5,525.49 L152.0,525.49 L152.5,525.49 L153.0,525.49 L153.5,525.49 L154.0,525.48 L154.5,525.48 L155.0,525.48 L155.5,525.48 L156.0,525.48 L156.5,525.48 L157.0,525.47 L157.5,525.47 L158.0,525.47 L158.5,525.47 L159.0,525.47 L159.5,525.46 L160.0,525.46 L160.5,525.46 L161.0,525.46 L161.5,525.46 L162.0,525.45 L162.5,525.45 L163.0,525.45 L163.5,525.45 L164.0,525.45 L164.5,525.44 L165.0,525.44 L165.5,525.44 L166.0,525.44 L166.5,525.44 L167.0,525.43 L167.5,525.43 L168.0,525.43 L168.5,525.43 L169.0,525.43 L169.5,525.42 L170.0,525.42 L170.5,525.42 L171.0,525.42 L171.5,525.42 L172.0,525.41 L172.5,525.41 L173.0,525.41 L173.5,525.41 L174.0,525.41 L174.5,525.40 L175.0,525.40 L175.5,525.40 L176.0,525.40 L176.5,525.40 L177.0,525.39 L177.5,525.39 L178.0,525.39 L178.5,525.39 L179.0,525.39 L179.5,525.38 L180.0,525.38 L180.5,525.38 L181.0,525.38 L181.5,525.37 L182.0,525.37 L182.5,525.37 L183.0,525.37 L183.5,525.37 L184.0,525.36 L184.5,525.36 L185.0,525.36 L185.5,525.36 L186.0,525.36 L186.5,525.35 L187.0,525.35 L187.5,525.35 L188.0,525.35 L188.5,525.35 L189.0,525.35 L189.5,525.34 L190.0,525.34 L190.5,525.34 L191.0,525.34 L191.5,525.34 L192.0,525.33 L192.5,525.33 L193.0,525.33 L193.5,525.33 L194.0,525.33 L194.5,525.32 L195.0,525.32 L195.5,525.32 L196.0,525.32 L196.5,525.32 L197.0,525.31 L197.5,525.31 L198.0,525.31 L198.5,525.31 L199.0,525.31 L199.5,525.31 L200.0,525.30 L200.5,525.30 L201.0,525.30 L201.5,525.30 L202.0,525.30 L202.5,525.30 L203.0,525.29 L203.5,525.29 L204.0,525.29 L204.5,525.29 L205.0,525.29 L205.5,525.28 L206.0,525.28 L206.5,525.28 L207.0,525.28 L207.5,525.28 L208.0,525.28 L208.5,525.27 L209.0,525.27 L209.5,525.27 L210.0,525.27 L210.5,525.27 L211.0,525.27 L211.5,525.27 L212.0,525.26 L212.5,525.26 L213.0,525.26 L213.5,525.26 L214.0,525.26 L214.5,525.26 L215.0,525.26 L215.5,525.25 L216.0,525.25 L216.5,525.25 L217.0,525.25 L217.5,525.25 L218.0,525.25 L218.5,525.25 L219.0,525.24 L219.5,525.24 L220.0,525.24 L220.5,525.24 L221.0,525.24 L221.5,525.24 L222.0,525.24 L222.5,525.24 L223.0,525.23 L223.5,525.23 L224.0,525.23 L224.5,525.23 L225.0,525.23 L225.5,525.23 L226.0,525.23 L226.5,525.23 L227.0,525.23 L227.5,525.22 L228.0,525.22 L228.5,525.22 L229.0,525.22 L229.5,525.22 L230.0,525.22 L230.5,525.22 L231.0,525.22 L231.5,525.22 L232.0,525.22 L232.5,525.22 L233.0,525.21 L233.5,525.21 L234.0,525.21 L234.5,525.21 L235.0,525.21 L235.5,525.21 L236.0,525.21 L236.5,525.21 L237.0,525.21 L237.5,525.21 L238.0,525.21 L238.5,525.21 L239.0,525.21 L239.5,525.21 L240.0,525.21 L240.5,525.20 L241.0,525.20 L241.5,525.20 L242.0,525.20 L242.5,525.20 L243.0,525.20 L243.5,525.20 L244.0,525.20 L244.5,525.20 L245.0,525.20 L245.5,525.20 L246.0,525.20 L246.5,525.20 L247.0,525.20 L247.5,525.20 L248.0,525.20 L248.5,525.20 L249.0,525.20 L249.5,525.20 L250.0,525.20 L250.5,525.20 L251.0,525.20 L251.5,525.20 L252.0,525.20 L252.5,525.20 L253.0,525.20 L253.5,525.20 L254.0,525.20 L254.5,525.20 L255.0,525.20 L255.5,525.21 L256.0,525.21 L256.5,525.21 L257.0,525.21 L257.5,525.21 L258.0,525.21 L258.5,525.21 L259.0,525.21 L259.5,525.22 L260.0,525.22 L260.5,525.22 L261.0,525.22 L261.5,525.22 L262.0,525.23 L262.5,525.23 L263.0,525.23 L263.5,525.23 L264.0,525.23 L264.5,525.24 L265.0,525.24 L265.5,525.24 L266.0,525.24 L266.5,525.25 L267.0,525.25 L267.5,525.25 L268.0,525.26 L268.5,525.26 L269.0,525.26 L269.5,525.26 L270.0,525.27 L270.5,525.27 L271.0,525.27 L271.5,525.28 L272.0,525.28 L272.5,525.28 L273.0,525.29 L273.5,525.29 L274.0,525.30 L274.5,525.30 L275.0,525.30 L275.5,525.31 L276.0,525.31 L276.5,525.31 L277.0,525.32 L277.5,525.32 L278.0,525.33 L278.5,525.33 L279.0,525.34 L279.5,525.34 L280.0,525.34 L280.5,525.35 L281.0,525.35 L281.5,525.36 L282.0,525.36 L282.5,525.37 L283.0,525.37 L283.5,525.38 L284.0,525.38 L284.5,525.39 L285.0,525.39 L285.5,525.40 L286.0,525.40 L286.5,525.41 L287.0,525.41 L287.5,525.42 L288.0,525.42 L288.5,525.43 L289.0,525.43 L289.5,525.44 L290.0,525.44 L290.5,525.45 L291.0,525.45 L291.5,525.46 L292.0,525.46 L292.5,525.47 L293.0,525.47 L293.5,525.48 L294.0,525.48 L294.5,525.49 L295.0,525.50 L295.5,525.50 L296.0,525.51 L296.5,525.51 L297.0,525.52 L297.5,525.52 L298.0,525.53 L298.5,525.54 L299.0,525.54 L299.5,525.55 L300.0,525.55 L300.5,525.56 L301.0,525.57 L301.5,525.57 L302.0,525.58 L302.5,525.58 L303.0,525.59 L303.5,525.60 L304.0,525.60 L304.5,525.61 L305.0,525.61 L305.5,525.62 L306.0,525.63 L306.5,525.63 L307.0,525.64 L307.5,525.65 L308.0,525.65 L308.5,525.66 L309.0,525.66 L309.5,525.67 L310.0,525.68 L310.5,525.68 L311.0,525.69 L311.5,525.70 L312.0,525.70 L312.5,525.71 L313.0,525.72 L313.5,525.72 L314.0,525.73 L314.5,525.73 L315.0,525.74 L315.5,525.75 L316.0,525.75 L316.5,525.76 L317.0,525.77 L317.5,525.77 L318.0,525.78 L318.5,525.79 L319.0,525.79 L319.5,525.80 L320.0,525.81 L320.5,525.81 L321.0,525.82 L321.5,525.82 L322.0,525.83 L322.5,525.84 L323.0,525.84 L323.5,525.85 L324.0,525.86 L324.5,525.86 L325.0,525.87 L325.5,525.88 L326.0,525.88 L326.5,525.89 L327.0,525.90 L327.5,525.90 L328.0,525.91 L328.5,525.91 L329.0,525.92 L329.5,525.93 L330.0,525.93 L330.5,525.94 L331.0,525.95 L331.5,525.95 L332.0,525.96 L332.5,525.96 L333.0,525.97 L333.5,525.98 L334.0,525.98 L334.5,525.99 L335.0,525.99 L335.5,526.00 L336.0,526.01 L336.5,526.01 L337.0,526.02 L337.5,526.03 L338.0,526.03 L338.5,526.04 L339.0,526.04 L339.5,526.05 L340.0,526.05 L340.5,526.06 L341.0,526.07 L341.5,526.07 L342.0,526.08 L342.5,526.08 L343.0,526.09 L343.5,526.09 L344.0,526.10 L344.5,526.11 L345.0,526.11 L345.5,526.12 L346.0,526.12 L346.5,526.13 L347.0,526.13 L347.5,526.14 L348.0,526.14 L348.5,526.15 L349.0,526.15 L349.5,526.16 L350.0,526.16 L350.5,526.17 L351.0,526.18 L351.5,526.18 L352.0,526.18 L352.5,526.19 L353.0,526.19 L353.5,526.19" stroke="#55acdc" stroke-width="1.7" fill="none" stroke-linejoin="round"/></g>
<g clip-path="url(#plotclip)"><path d="M46.0,511.60 L46.5,511.60 L47.0,511.60 L47.5,511.60 L48.0,511.60 L48.5,511.60 L49.0,511.60 L49.5,511.60 L50.0,511.60 L50.5,511.60 L51.0,511.60 L51.5,511.60 L52.0,511.60 L52.5,511.60 L53.0,511.60 L53.5,511.60 L54.0,511.60 L54.5,511.60 L55.0,511.60 L55.5,511.60 L56.0,511.60 L56.5,511.60 L57.0,511.60 L57.5,511.60 L58.0,511.60 L58.5,511.61 L59.0,511.61 L59.5,511.61 L60.0,511.61 L60.5,511.61 L61.0,511.61 L61.5,511.61 L62.0,511.61 L62.5,511.61 L63.0,511.61 L63.5,511.61 L64.0,511.61 L64.5,511.61 L65.0,511.61 L65.5,511.61 L66.0,511.61 L66.5,511.61 L67.0,511.61 L67.5,511.61 L68.0,511.61 L68.5,511.61 L69.0,511.61 L69.5,511.61 L70.0,511.61 L70.5,511.61 L71.0,511.62 L71.5,511.62 L72.0,511.62 L72.5,511.62 L73.0,511.62 L73.5,511.62 L74.0,511.62 L74.5,511.62 L75.0,511.62 L75.5,511.62 L76.0,511.62 L76.5,511.62 L77.0,511.62 L77.5,511.62 L78.0,511.62 L78.5,511.62 L79.0,511.62 L79.5,511.62 L80.0,511.62 L80.5,511.62 L81.0,511.62 L81.5,511.62 L82.0,511.62 L82.5,511.62 L83.0,511.63 L83.5,511.63 L84.0,511.63 L84.5,511.63 L85.0,511.63 L85.5,511.63 L86.0,511.63 L86.5,511.63 L87.0,511.63 L87.5,511.63 L88.0,511.63 L88.5,511.63 L89.0,511.63 L89.5,511.63 L90.0,511.63 L90.5,511.63 L91.0,511.63 L91.5,511.63 L92.0,511.63 L92.5,511.63 L93.0,511.63 L93.5,511.63 L94.0,511.63 L94.5,511.63 L95.0,511.63 L95.5,511.63 L96.0,511.63 L96.5,511.63 L97.0,511.63 L97.5,511.63 L98.0,511.63 L98.5,511.63 L99.0,511.63 L99.5,511.63 L100.0,511.63 L100.5,511.63 L101.0,511.63 L101.5,511.63 L102.0,511.63 L102.5,511.63 L103.0,511.63 L103.5,511.63 L104.0,511.63 L104.5,511.63 L105.0,511.63 L105.5,511.63 L106.0,511.63 L106.5,511.63 L107.0,511.63 L107.5,511.63 L108.0,511.63 L108.5,511.63 L109.0,511.63 L109.5,511.63 L110.0,511.63 L110.5,511.63 L111.0,511.62 L111.5,511.62 L112.0,511.62 L112.5,511.62 L113.0,511.62 L113.5,511.62 L114.0,511.62 L114.5,511.62 L115.0,511.62 L115.5,511.62 L116.0,511.62 L116.5,511.62 L117.0,511.62 L117.5,511.62 L118.0,511.61 L118.5,511.61 L119.0,511.61 L119.5,511.60 L120.0,511.58 L120.5,511.55 L121.0,511.51 L121.5,511.44 L122.0,511.36 L122.5,511.25 L123.0,511.13 L123.5,510.99 L124.0,510.84 L124.5,510.68 L125.0,510.51 L125.5,510.33 L126.0,510.14 L126.5,509.96 L127.0,509.77 L127.5,509.57 L128.0,509.37 L128.5,509.16 L129.0,508.94 L129.5,508.70 L130.0,508.45 L130.5,508.18 L131.0,507.90 L131.5,507.60 L132.0,507.30 L132.5,506.99 L133.0,506.68 L133.5,506.37 L134.0,506.06 L134.5,505.75 L135.0,505.45 L135.5,505.15 L136.0,504.87 L136.5,504.60 L137.0,504.34 L137.5,504.08 L138.0,503.84 L138.5,503.61 L139.0,503.38 L139.5,503.15 L140.0,502.92 L140.5,502.69 L141.0,502.46 L141.5,502.23 L142.0,502.01 L142.5,501.78 L143.0,501.56 L143.5,501.33 L144.0,501.11 L144.5,500.89 L145.0,500.67 L145.5,500.45 L146.0,500.23 L146.5,500.02 L147.0,499.81 L147.5,499.59 L148.0,499.39 L148.5,499.18 L149.0,498.98 L149.5,498.78 L150.0,498.58 L150.5,498.38 L151.0,498.19 L151.5,498.00 L152.0,497.82 L152.5,497.64 L153.0,497.46 L153.5,497.29 L154.0,497.11 L154.5,496.95 L155.0,496.79 L155.5,496.63 L156.0,496.47 L156.5,496.33 L157.0,496.18 L157.5,496.04 L158.0,495.91 L158.5,495.78 L159.0,495.65 L159.5,495.53 L160.0,495.42 L160.5,495.31 L161.0,495.21 L161.5,495.11 L162.0,495.02 L162.5,494.92 L163.0,494.84 L163.5,494.75 L164.0,494.66 L164.5,494.58 L165.0,494.49 L165.5,494.41 L166.0,494.33 L166.5,494.25 L167.0,494.17 L167.5,494.09 L168.0,494.01 L168.5,493.93 L169.0,493.86 L169.5,493.78 L170.0,493.71 L170.5,493.64 L171.0,493.57 L171.5,493.49 L172.0,493.43 L172.5,493.36 L173.0,493.29 L173.5,493.22 L174.0,493.16 L174.5,493.09 L175.0,493.03 L175.5,492.96 L176.0,492.90 L176.5,492.84 L177.0,492.78 L177.5,492.72 L178.0,492.66 L178.5,492.60 L179.0,492.54 L179.5,492.49 L180.0,492.43 L180.5,492.38 L181.0,492.32 L181.5,492.27 L182.0,492.21 L182.5,492.16 L183.0,492.11 L183.5,492.06 L184.0,492.01 L184.5,491.96 L185.0,491.91 L185.5,491.86 L186.0,491.82 L186.5,491.77 L187.0,491.72 L187.5,491.68 L188.0,491.63 L188.5,491.59 L189.0,491.54 L189.5,491.50 L190.0,491.46 L190.5,491.42 L191.0,491.37 L191.5,491.33 L192.0,491.29 L192.5,491.25 L193.0,491.21 L193.5,491.17 L194.0,491.13 L194.5,491.10 L195.0,491.06 L195.5,491.02 L196.0,490.98 L196.5,490.95 L197.0,490.91 L197.5,490.87 L198.0,490.84 L198.5,490.80 L199.0,490.77 L199.5,490.73 L200.0,490.70 L200.5,490.67 L201.0,490.63 L201.5,490.60 L202.0,490.56 L202.5,490.53 L203.0,490.49 L203.5,490.46 L204.0,490.43 L204.5,490.39 L205.0,490.36 L205.5,490.32 L206.0,490.29 L206.5,490.25 L207.0,490.22 L207.5,490.18 L208.0,490.15 L208.5,490.11 L209.0,490.08 L209.5,490.05 L210.0,490.01 L210.5,489.98 L211.0,489.94 L211.5,489.91 L212.0,489.88 L212.5,489.84 L213.0,489.81 L213.5,489.78 L214.0,489.74 L214.5,489.71 L215.0,489.68 L215.5,489.64 L216.0,489.61 L216.5,489.58 L217.0,489.55 L217.5,489.51 L218.0,489.48 L218.5,489.45 L219.0,489.42 L219.5,489.39 L220.0,489.36 L220.5,489.33 L221.0,489.30 L221.5,489.27 L222.0,489.24 L222.5,489.21 L223.0,489.18 L223.5,489.15 L224.0,489.13 L224.5,489.10 L225.0,489.07 L225.5,489.05 L226.0,489.02 L226.5,488.99 L227.0,488.97 L227.5,488.94 L228.0,488.92 L228.5,488.89 L229.0,488.87 L229.5,488.85 L230.0,488.82 L230.5,488.80 L231.0,488.78 L231.5,488.76 L232.0,488.74 L232.5,488.72 L233.0,488.70 L233.5,488.68 L234.0,488.66 L234.5,488.64 L235.0,488.63 L235.5,488.61 L236.0,488.59 L236.5,488.58 L237.0,488.56 L237.5,488.55 L238.0,488.53 L238.5,488.52 L239.0,488.51 L239.5,488.50 L240.0,488.49 L240.5,488.48 L241.0,488.47 L241.5,488.46 L242.0,488.45 L242.5,488.44 L243.0,488.44 L243.5,488.43 L244.0,488.43 L244.5,488.42 L245.0,488.42 L245.5,488.42 L246.0,488.42 L246.5,488.44 L247.0,488.47 L247.5,488.52 L248.0,488.58 L248.5,488.67 L249.0,488.78 L249.5,488.92 L250.0,489.07 L250.5,489.24 L251.0,489.42 L251.5,489.62 L252.0,489.83 L252.5,490.04 L253.0,490.27 L253.5,490.50 L254.0,490.74 L254.5,490.98 L255.0,491.22 L255.5,491.46 L256.0,491.69 L256.5,491.93 L257.0,492.15 L257.5,492.37 L258.0,492.59 L258.5,492.81 L259.0,493.03 L259.5,493.26 L260.0,493.49 L260.5,493.72 L261.0,493.96 L261.5,494.21 L262.0,494.46 L262.5,494.71 L263.0,494.96 L263.5,495.22 L264.0,495.47 L264.5,495.73 L265.0,495.98 L265.5,496.23 L266.0,496.48 L266.5,496.73 L267.0,496.97 L267.5,497.21 L268.0,497.44 L268.5,497.66 L269.0,497.88 L269.5,498.09 L270.0,498.29 L270.5,498.48 L271.0,498.66 L271.5,498.84 L272.0,499.01 L272.5,499.18 L273.0,499.35 L273.5,499.51 L274.0,499.68 L274.5,499.84 L275.0,500.00 L275.5,500.16 L276.0,500.32 L276.5,500.48 L277.0,500.64 L277.5,500.80 L278.0,500.95 L278.5,501.11 L279.0,501.26 L279.5,501.41 L280.0,501.56 L280.5,501.71 L281.0,501.86 L281.5,502.00 L282.0,502.14 L282.5,502.29 L283.0,502.43 L283.5,502.56 L284.0,502.70 L284.5,502.83 L285.0,502.97 L285.5,503.10 L286.0,503.22 L286.5,503.35 L287.0,503.47 L287.5,503.60 L288.0,503.72 L288.5,503.83 L289.0,503.95 L289.5,504.06 L290.0,504.17 L290.5,504.28 L291.0,504.38 L291.5,504.48 L292.0,504.58 L292.5,504.68 L293.0,504.77 L293.5,504.86 L294.0,504.95 L294.5,505.04 L295.0,505.12 L295.5,505.20 L296.0,505.27 L296.5,505.34 L297.0,505.41 L297.5,505.48 L298.0,505.54 L298.5,505.60 L299.0,505.66 L299.5,505.72 L300.0,505.77 L300.5,505.83 L301.0,505.88 L301.5,505.93 L302.0,505.98 L302.5,506.03 L303.0,506.08 L303.5,506.13 L304.0,506.18 L304.5,506.22 L305.0,506.27 L305.5,506.32 L306.0,506.36 L306.5,506.40 L307.0,506.45 L307.5,506.49 L308.0,506.53 L308.5,506.58 L309.0,506.62 L309.5,506.66 L310.0,506.70 L310.5,506.74 L311.0,506.77 L311.5,506.81 L312.0,506.85 L312.5,506.89 L313.0,506.92 L313.5,506.96 L314.0,507.00 L314.5,507.03 L315.0,507.07 L315.5,507.10 L316.0,507.13 L316.5,507.17 L317.0,507.20 L317.5,507.23 L318.0,507.26 L318.5,507.30 L319.0,507.33 L319.5,507.36 L320.0,507.39 L320.5,507.42 L321.0,507.45 L321.5,507.48 L322.0,507.51 L322.5,507.54 L323.0,507.56 L323.5,507.59 L324.0,507.62 L324.5,507.65 L325.0,507.68 L325.5,507.70 L326.0,507.73 L326.5,507.76 L327.0,507.78 L327.5,507.81 L328.0,507.84 L328.5,507.86 L329.0,507.89 L329.5,507.91 L330.0,507.94 L330.5,507.96 L331.0,507.99 L331.5,508.02 L332.0,508.04 L332.5,508.07 L333.0,508.09 L333.5,508.12 L334.0,508.14 L334.5,508.17 L335.0,508.19 L335.5,508.22 L336.0,508.24 L336.5,508.27 L337.0,508.29 L337.5,508.31 L338.0,508.34 L338.5,508.37 L339.0,508.39 L339.5,508.42 L340.0,508.44 L340.5,508.47 L341.0,508.49 L341.5,508.52 L342.0,508.54 L342.5,508.57 L343.0,508.60 L343.5,508.62 L344.0,508.65 L344.5,508.67 L345.0,508.70 L345.5,508.73 L346.0,508.76 L346.5,508.78 L347.0,508.81 L347.5,508.84 L348.0,508.87 L348.5,508.90 L349.0,508.93 L349.5,508.95 L350.0,508.98 L350.5,509.01 L351.0,509.04 L351.5,509.07 L352.0,509.11 L352.5,509.13 L353.0,509.15 L353.5,509.17 L353.5,514.17 L353.0,514.15 L352.5,514.13 L352.0,514.10 L351.5,514.07 L351.0,514.04 L350.5,514.01 L350.0,513.98 L349.5,513.94 L349.0,513.91 L348.5,513.88 L348.0,513.85 L347.5,513.82 L347.0,513.79 L346.5,513.77 L346.0,513.74 L345.5,513.71 L345.0,513.68 L344.5,513.65 L344.0,513.62 L343.5,513.60 L343.0,513.57 L342.5,513.54 L342.0,513.52 L341.5,513.49 L341.0,513.46 L340.5,513.43 L340.0,513.41 L339.5,513.38 L339.0,513.36 L338.5,513.33 L338.0,513.30 L337.5,513.28 L337.0,513.25 L336.5,513.23 L336.0,513.20 L335.5,513.17 L335.0,513.15 L334.5,513.12 L334.0,513.10 L333.5,513.07 L333.0,513.04 L332.5,513.02 L332.0,512.99 L331.5,512.97 L331.0,512.94 L330.5,512.91 L330.0,512.89 L329.5,512.86 L329.0,512.83 L328.5,512.81 L328.0,512.78 L327.5,512.75 L327.0,512.72 L326.5,512.70 L326.0,512.67 L325.5,512.64 L325.0,512.61 L324.5,512.58 L324.0,512.56 L323.5,512.53 L323.0,512.50 L322.5,512.47 L322.0,512.44 L321.5,512.41 L321.0,512.38 L320.5,512.35 L320.0,512.32 L319.5,512.28 L319.0,512.25 L318.5,512.22 L318.0,512.19 L317.5,512.16 L317.0,512.12 L316.5,512.09 L316.0,512.05 L315.5,512.02 L315.0,511.98 L314.5,511.95 L314.0,511.91 L313.5,511.88 L313.0,511.84 L312.5,511.80 L312.0,511.76 L311.5,511.73 L311.0,511.69 L310.5,511.65 L310.0,511.61 L309.5,511.57 L309.0,511.52 L308.5,511.48 L308.0,511.44 L307.5,511.40 L307.0,511.35 L306.5,511.31 L306.0,511.26 L305.5,511.22 L305.0,511.17 L304.5,511.12 L304.0,511.08 L303.5,511.03 L303.0,510.98 L302.5,510.93 L302.0,510.88 L301.5,510.82 L301.0,510.77 L300.5,510.72 L300.0,510.66 L299.5,510.61 L299.0,510.55 L298.5,510.49 L298.0,510.43 L297.5,510.37 L297.0,510.30 L296.5,510.23 L296.0,510.16 L295.5,510.08 L295.0,510.00 L294.5,509.92 L294.0,509.83 L293.5,509.74 L293.0,509.65 L292.5,509.56 L292.0,509.46 L291.5,509.36 L291.0,509.26 L290.5,509.15 L290.0,509.04 L289.5,508.93 L289.0,508.82 L288.5,508.70 L288.0,508.59 L287.5,508.47 L287.0,508.34 L286.5,508.22 L286.0,508.09 L285.5,507.96 L285.0,507.83 L284.5,507.70 L284.0,507.56 L283.5,507.43 L283.0,507.29 L282.5,507.15 L282.0,507.00 L281.5,506.86 L281.0,506.71 L280.5,506.57 L280.0,506.42 L279.5,506.27 L279.0,506.11 L278.5,505.96 L278.0,505.80 L277.5,505.65 L277.0,505.49 L276.5,505.33 L276.0,505.17 L275.5,505.01 L275.0,504.85 L274.5,504.68 L274.0,504.52 L273.5,504.35 L273.0,504.19 L272.5,504.02 L272.0,503.85 L271.5,503.68 L271.0,503.50 L270.5,503.31 L270.0,503.12 L269.5,502.92 L269.0,502.71 L268.5,502.49 L268.0,502.27 L267.5,502.04 L267.0,501.80 L266.5,501.56 L266.0,501.31 L265.5,501.06 L265.0,500.81 L264.5,500.55 L264.0,500.29 L263.5,500.04 L263.0,499.78 L262.5,499.53 L262.0,499.27 L261.5,499.03 L261.0,498.78 L260.5,498.54 L260.0,498.30 L259.5,498.07 L259.0,497.85 L258.5,497.62 L258.0,497.40 L257.5,497.18 L257.0,496.96 L256.5,496.73 L256.0,496.50 L255.5,496.26 L255.0,496.02 L254.5,495.78 L254.0,495.54 L253.5,495.30 L253.0,495.07 L252.5,494.84 L252.0,494.62 L251.5,494.41 L251.0,494.21 L250.5,494.03 L250.0,493.86 L249.5,493.70 L249.0,493.57 L248.5,493.46 L248.0,493.37 L247.5,493.30 L247.0,493.25 L246.5,493.22 L246.0,493.20 L245.5,493.19 L245.0,493.19 L244.5,493.19 L244.0,493.20 L243.5,493.20 L243.0,493.21 L242.5,493.21 L242.0,493.22 L241.5,493.22 L241.0,493.23 L240.5,493.24 L240.0,493.25 L239.5,493.26 L239.0,493.27 L238.5,493.28 L238.0,493.29 L237.5,493.30 L237.0,493.31 L236.5,493.33 L236.0,493.34 L235.5,493.36 L235.0,493.37 L234.5,493.39 L234.0,493.40 L233.5,493.42 L233.0,493.44 L232.5,493.45 L232.0,493.47 L231.5,493.49 L231.0,493.51 L230.5,493.53 L230.0,493.55 L229.5,493.57 L229.0,493.59 L228.5,493.62 L228.0,493.64 L227.5,493.66 L227.0,493.69 L226.5,493.71 L226.0,493.73 L225.5,493.76 L225.0,493.78 L224.5,493.81 L224.0,493.83 L223.5,493.86 L223.0,493.89 L222.5,493.91 L222.0,493.94 L221.5,493.97 L221.0,493.99 L220.5,494.02 L220.0,494.05 L219.5,494.08 L219.0,494.11 L218.5,494.14 L218.0,494.17 L217.5,494.20 L217.0,494.23 L216.5,494.26 L216.0,494.29 L215.5,494.32 L215.0,494.35 L214.5,494.38 L214.0,494.41 L213.5,494.44 L213.0,494.47 L212.5,494.50 L212.0,494.53 L211.5,494.56 L211.0,494.60 L210.5,494.63 L210.0,494.66 L209.5,494.69 L209.0,494.72 L208.5,494.76 L208.0,494.79 L207.5,494.82 L207.0,494.85 L206.5,494.88 L206.0,494.92 L205.5,494.95 L205.0,494.98 L204.5,495.01 L204.0,495.05 L203.5,495.08 L203.0,495.11 L202.5,495.14 L202.0,495.17 L201.5,495.21 L201.0,495.24 L200.5,495.27 L200.0,495.30 L199.5,495.33 L199.0,495.36 L198.5,495.39 L198.0,495.43 L197.5,495.46 L197.0,495.49 L196.5,495.52 L196.0,495.55 L195.5,495.58 L195.0,495.61 L194.5,495.65 L194.0,495.68 L193.5,495.71 L193.0,495.74 L192.5,495.77 L192.0,495.81 L191.5,495.84 L191.0,495.87 L190.5,495.90 L190.0,495.94 L189.5,495.97 L189.0,496.00 L188.5,496.04 L188.0,496.07 L187.5,496.11 L187.0,496.14 L186.5,496.18 L186.0,496.21 L185.5,496.25 L185.0,496.29 L184.5,496.32 L184.0,496.36 L183.5,496.40 L183.0,496.44 L182.5,496.48 L182.0,496.51 L181.5,496.55 L181.0,496.59 L180.5,496.64 L180.0,496.68 L179.5,496.72 L179.0,496.76 L178.5,496.81 L178.0,496.85 L177.5,496.89 L177.0,496.94 L176.5,496.99 L176.0,497.03 L175.5,497.08 L175.0,497.13 L174.5,497.18 L174.0,497.23 L173.5,497.28 L173.0,497.33 L172.5,497.38 L172.0,497.43 L171.5,497.49 L171.0,497.54 L170.5,497.60 L170.0,497.65 L169.5,497.71 L169.0,497.77 L168.5,497.83 L168.0,497.89 L167.5,497.95 L167.0,498.01 L166.5,498.07 L166.0,498.14 L165.5,498.20 L165.0,498.27 L164.5,498.34 L164.0,498.41 L163.5,498.48 L163.0,498.55 L162.5,498.62 L162.0,498.69 L161.5,498.77 L161.0,498.85 L160.5,498.94 L160.0,499.03 L159.5,499.13 L159.0,499.23 L158.5,499.34 L158.0,499.45 L157.5,499.57 L157.0,499.69 L156.5,499.82 L156.0,499.95 L155.5,500.09 L155.0,500.23 L154.5,500.38 L154.0,500.53 L153.5,500.68 L153.0,500.84 L152.5,501.00 L152.0,501.17 L151.5,501.34 L151.0,501.51 L150.5,501.69 L150.0,501.87 L149.5,502.05 L149.0,502.24 L148.5,502.43 L148.0,502.62 L147.5,502.81 L147.0,503.01 L146.5,503.20 L146.0,503.41 L145.5,503.61 L145.0,503.81 L144.5,504.02 L144.0,504.23 L143.5,504.44 L143.0,504.65 L142.5,504.86 L142.0,505.07 L141.5,505.29 L141.0,505.50 L140.5,505.72 L140.0,505.94 L139.5,506.15 L139.0,506.37 L138.5,506.59 L138.0,506.82 L137.5,507.05 L137.0,507.29 L136.5,507.54 L136.0,507.80 L135.5,508.08 L135.0,508.36 L134.5,508.66 L134.0,508.96 L133.5,509.26 L133.0,509.56 L132.5,509.87 L132.0,510.17 L131.5,510.46 L131.0,510.75 L130.5,511.02 L130.0,511.29 L129.5,511.53 L129.0,511.77 L128.5,511.98 L128.0,512.19 L127.5,512.39 L127.0,512.58 L126.5,512.77 L126.0,512.95 L125.5,513.13 L125.0,513.31 L124.5,513.48 L124.0,513.64 L123.5,513.79 L123.0,513.92 L122.5,514.04 L122.0,514.15 L121.5,514.23 L121.0,514.29 L120.5,514.33 L120.0,514.36 L119.5,514.38 L119.0,514.38 L118.5,514.39 L118.0,514.38 L117.5,514.38 L117.0,514.38 L116.5,514.38 L116.0,514.38 L115.5,514.38 L115.0,514.38 L114.5,514.38 L114.0,514.38 L113.5,514.38 L113.0,514.37 L112.5,514.37 L112.0,514.37 L111.5,514.37 L111.0,514.37 L110.5,514.37 L110.0,514.37 L109.5,514.37 L109.0,514.37 L108.5,514.36 L108.0,514.36 L107.5,514.36 L107.0,514.36 L106.5,514.36 L106.0,514.36 L105.5,514.36 L105.0,514.36 L104.5,514.35 L104.0,514.35 L103.5,514.35 L103.0,514.35 L102.5,514.35 L102.0,514.35 L101.5,514.35 L101.0,514.35 L100.5,514.34 L100.0,514.34 L99.5,514.34 L99.0,514.34 L98.5,514.34 L98.0,514.34 L97.5,514.34 L97.0,514.34 L96.5,514.33 L96.0,514.33 L95.5,514.33 L95.0,514.33 L94.5,514.33 L94.0,514.33 L93.5,514.33 L93.0,514.33 L92.5,514.32 L92.0,514.32 L91.5,514.32 L91.0,514.32 L90.5,514.32 L90.0,514.32 L89.5,514.32 L89.0,514.32 L88.5,514.31 L88.0,514.31 L87.5,514.31 L87.0,514.31 L86.5,514.31 L86.0,514.31 L85.5,514.31 L85.0,514.31 L84.5,514.30 L84.0,514.30 L83.5,514.30 L83.0,514.30 L82.5,514.30 L82.0,514.30 L81.5,514.30 L81.0,514.29 L80.5,514.29 L80.0,514.29 L79.5,514.29 L79.0,514.29 L78.5,514.29 L78.0,514.29 L77.5,514.28 L77.0,514.28 L76.5,514.28 L76.0,514.28 L75.5,514.28 L75.0,514.28 L74.5,514.28 L74.0,514.28 L73.5,514.27 L73.0,514.27 L72.5,514.27 L72.0,514.27 L71.5,514.27 L71.0,514.27 L70.5,514.27 L70.0,514.26 L69.5,514.26 L69.0,514.26 L68.5,514.26 L68.0,514.26 L67.5,514.26 L67.0,514.26 L66.5,514.26 L66.0,514.25 L65.5,514.25 L65.0,514.25 L64.5,514.25 L64.0,514.25 L63.5,514.25 L63.0,514.25 L62.5,514.24 L62.0,514.24 L61.5,514.24 L61.0,514.24 L60.5,514.24 L60.0,514.24 L59.5,514.24 L59.0,514.23 L58.5,514.23 L58.0,514.23 L57.5,514.23 L57.0,514.23 L56.5,514.23 L56.0,514.23 L55.5,514.23 L55.0,514.22 L54.5,514.22 L54.0,514.22 L53.5,514.22 L53.0,514.22 L52.5,514.22 L52.0,514.22 L51.5,514.21 L51.0,514.21 L50.5,514.21 L50.0,514.21 L49.5,514.21 L49.0,514.21 L48.5,514.21 L48.0,514.21 L47.5,514.20 L47.0,514.20 L46.5,514.20 L46.0,514.20Z" fill="#f6d3e4" stroke="none"/>
<path d="M46.5,511.6V514.2M48.5,511.6V514.2M50.5,511.6V514.2M52.5,511.6V514.2M54.5,511.6V514.2M56.5,511.6V514.2M58.5,511.6V514.2M60.5,511.6V514.2M62.5,511.6V514.2M64.5,511.6V514.2M66.5,511.6V514.3M68.5,511.6V514.3M70.5,511.6V514.3M72.5,511.6V514.3M74.5,511.6V514.3M76.5,511.6V514.3M78.5,511.6V514.3M80.5,511.6V514.3M82.5,511.6V514.3M84.5,511.6V514.3M86.5,511.6V514.3M88.5,511.6V514.3M90.5,511.6V514.3M92.5,511.6V514.3M94.5,511.6V514.3M96.5,511.6V514.3M98.5,511.6V514.3M100.5,511.6V514.3M102.5,511.6V514.3M104.5,511.6V514.4M106.5,511.6V514.4M108.5,511.6V514.4M110.5,511.6V514.4M112.5,511.6V514.4M114.5,511.6V514.4M116.5,511.6V514.4M118.5,511.6V514.4M120.5,511.6V514.4M122.5,511.4V514.1M124.5,510.8V513.6M126.5,510.1V513.0M128.5,509.4V512.2M130.5,508.4V511.3M132.5,507.3V510.2M134.5,506.1V509.0M136.5,504.9V507.8M138.5,503.8V506.8M140.5,502.9V505.9M142.5,502.0V505.1M144.5,501.1V504.2M146.5,500.2V503.4M148.5,499.4V502.6M150.5,498.6V501.9M152.5,497.8V501.2M154.5,497.1V500.5M156.5,496.5V500.0M158.5,495.9V499.5M160.5,495.4V499.0M162.5,495.0V498.7M164.5,494.7V498.4M166.5,494.3V498.1M168.5,494.0V497.9M170.5,493.7V497.7M172.5,493.4V497.4M174.5,493.2V497.2M176.5,492.9V497.0M178.5,492.7V496.8M180.5,492.4V496.7M182.5,492.2V496.5M184.5,492.0V496.4M186.5,491.8V496.2M188.5,491.6V496.1M190.5,491.5V495.9M192.5,491.3V495.8M194.5,491.1V495.7M196.5,491.0V495.6M198.5,490.8V495.4M200.5,490.7V495.3M202.5,490.6V495.2M204.5,490.4V495.0M206.5,490.3V494.9M208.5,490.1V494.8M210.5,490.0V494.7M212.5,489.9V494.5M214.5,489.7V494.4M216.5,489.6V494.3M218.5,489.5V494.2M220.5,489.4V494.1M222.5,489.2V493.9M224.5,489.1V493.8M226.5,489.0V493.7M228.5,488.9V493.6M230.5,488.8V493.6M232.5,488.7V493.5M234.5,488.7V493.4M236.5,488.6V493.3M238.5,488.5V493.3M240.5,488.5V493.2M242.5,488.5V493.2M244.5,488.4V493.2M246.5,488.4V493.2M248.5,488.6V493.4M250.5,489.1V493.9M252.5,489.8V494.6M254.5,490.7V495.5M256.5,491.7V496.5M258.5,492.6V497.4M260.5,493.5V498.3M262.5,494.5V499.3M264.5,495.5V500.3M266.5,496.5V501.3M268.5,497.4V502.3M270.5,498.3V503.1M272.5,499.0V503.9M274.5,499.7V504.5M276.5,500.3V505.2M278.5,501.0V505.8M280.5,501.6V506.4M282.5,502.1V507.0M284.5,502.7V507.6M286.5,503.2V508.1M288.5,503.7V508.6M290.5,504.2V509.0M292.5,504.6V509.5M294.5,505.0V509.8M296.5,505.3V510.2M298.5,505.5V510.4M300.5,505.8V510.7M302.5,506.0V510.9M304.5,506.2V511.1M306.5,506.4V511.3M308.5,506.5V511.4M310.5,506.7V511.6M312.5,506.9V511.8M314.5,507.0V511.9M316.5,507.1V512.1M318.5,507.3V512.2M320.5,507.4V512.3M322.5,507.5V512.4M324.5,507.6V512.6M326.5,507.7V512.7M328.5,507.8V512.8M330.5,507.9V512.9M332.5,508.0V513.0M334.5,508.1V513.1M336.5,508.2V513.2M338.5,508.3V513.3M340.5,508.4V513.4M342.5,508.5V513.5M344.5,508.6V513.6M346.5,508.8V513.7M348.5,508.9V513.9M350.5,509.0V514.0M352.5,509.1V514.1" stroke="#e9a3c4" stroke-width="1.0" fill="none" opacity="0.15"/>
<path d="M43.5,511.6h5M43.5,514.2h5M45.5,511.6h5M45.5,514.2h5M47.5,511.6h5M47.5,514.2h5M49.5,511.6h5M49.5,514.2h5M51.5,511.6h5M51.5,514.2h5M53.5,511.6h5M53.5,514.2h5M55.5,511.6h5M55.5,514.2h5M57.5,511.6h5M57.5,514.2h5M59.5,511.6h5M59.5,514.2h5M61.5,511.6h5M61.5,514.2h5M63.5,511.6h5M63.5,514.3h5M65.5,511.6h5M65.5,514.3h5M67.5,511.6h5M67.5,514.3h5M69.5,511.6h5M69.5,514.3h5M71.5,511.6h5M71.5,514.3h5M73.5,511.6h5M73.5,514.3h5M75.5,511.6h5M75.5,514.3h5M77.5,511.6h5M77.5,514.3h5M79.5,511.6h5M79.5,514.3h5M81.5,511.6h5M81.5,514.3h5M83.5,511.6h5M83.5,514.3h5M85.5,511.6h5M85.5,514.3h5M87.5,511.6h5M87.5,514.3h5M89.5,511.6h5M89.5,514.3h5M91.5,511.6h5M91.5,514.3h5M93.5,511.6h5M93.5,514.3h5M95.5,511.6h5M95.5,514.3h5M97.5,511.6h5M97.5,514.3h5M99.5,511.6h5M99.5,514.3h5M101.5,511.6h5M101.5,514.4h5M103.5,511.6h5M103.5,514.4h5M105.5,511.6h5M105.5,514.4h5M107.5,511.6h5M107.5,514.4h5M109.5,511.6h5M109.5,514.4h5M111.5,511.6h5M111.5,514.4h5M113.5,511.6h5M113.5,514.4h5M115.5,511.6h5M115.5,514.4h5M117.5,511.6h5M117.5,514.4h5M119.5,511.4h5M119.5,514.1h5M121.5,510.8h5M121.5,513.6h5M123.5,510.1h5M123.5,513.0h5M125.5,509.4h5M125.5,512.2h5M127.5,508.4h5M127.5,511.3h5M129.5,507.3h5M129.5,510.2h5M131.5,506.1h5M131.5,509.0h5M133.5,504.9h5M133.5,507.8h5M135.5,503.8h5M135.5,506.8h5M137.5,502.9h5M137.5,505.9h5M139.5,502.0h5M139.5,505.1h5M141.5,501.1h5M141.5,504.2h5M143.5,500.2h5M143.5,503.4h5M145.5,499.4h5M145.5,502.6h5M147.5,498.6h5M147.5,501.9h5M149.5,497.8h5M149.5,501.2h5M151.5,497.1h5M151.5,500.5h5M153.5,496.5h5M153.5,500.0h5M155.5,495.9h5M155.5,499.5h5M157.5,495.4h5M157.5,499.0h5M159.5,495.0h5M159.5,498.7h5M161.5,494.7h5M161.5,498.4h5M163.5,494.3h5M163.5,498.1h5M165.5,494.0h5M165.5,497.9h5M167.5,493.7h5M167.5,497.7h5M169.5,493.4h5M169.5,497.4h5M171.5,493.2h5M171.5,497.2h5M173.5,492.9h5M173.5,497.0h5M175.5,492.7h5M175.5,496.8h5M177.5,492.4h5M177.5,496.7h5M179.5,492.2h5M179.5,496.5h5M181.5,492.0h5M181.5,496.4h5M183.5,491.8h5M183.5,496.2h5M185.5,491.6h5M185.5,496.1h5M187.5,491.5h5M187.5,495.9h5M189.5,491.3h5M189.5,495.8h5M191.5,491.1h5M191.5,495.7h5M193.5,491.0h5M193.5,495.6h5M195.5,490.8h5M195.5,495.4h5M197.5,490.7h5M197.5,495.3h5M199.5,490.6h5M199.5,495.2h5M201.5,490.4h5M201.5,495.0h5M203.5,490.3h5M203.5,494.9h5M205.5,490.1h5M205.5,494.8h5M207.5,490.0h5M207.5,494.7h5M209.5,489.9h5M209.5,494.5h5M211.5,489.7h5M211.5,494.4h5M213.5,489.6h5M213.5,494.3h5M215.5,489.5h5M215.5,494.2h5M217.5,489.4h5M217.5,494.1h5M219.5,489.2h5M219.5,493.9h5M221.5,489.1h5M221.5,493.8h5M223.5,489.0h5M223.5,493.7h5M225.5,488.9h5M225.5,493.6h5M227.5,488.8h5M227.5,493.6h5M229.5,488.7h5M229.5,493.5h5M231.5,488.7h5M231.5,493.4h5M233.5,488.6h5M233.5,493.3h5M235.5,488.5h5M235.5,493.3h5M237.5,488.5h5M237.5,493.2h5M239.5,488.5h5M239.5,493.2h5M241.5,488.4h5M241.5,493.2h5M243.5,488.4h5M243.5,493.2h5M245.5,488.6h5M245.5,493.4h5M247.5,489.1h5M247.5,493.9h5M249.5,489.8h5M249.5,494.6h5M251.5,490.7h5M251.5,495.5h5M253.5,491.7h5M253.5,496.5h5M255.5,492.6h5M255.5,497.4h5M257.5,493.5h5M257.5,498.3h5M259.5,494.5h5M259.5,499.3h5M261.5,495.5h5M261.5,500.3h5M263.5,496.5h5M263.5,501.3h5M265.5,497.4h5M265.5,502.3h5M267.5,498.3h5M267.5,503.1h5M269.5,499.0h5M269.5,503.9h5M271.5,499.7h5M271.5,504.5h5M273.5,500.3h5M273.5,505.2h5M275.5,501.0h5M275.5,505.8h5M277.5,501.6h5M277.5,506.4h5M279.5,502.1h5M279.5,507.0h5M281.5,502.7h5M281.5,507.6h5M283.5,503.2h5M283.5,508.1h5M285.5,503.7h5M285.5,508.6h5M287.5,504.2h5M287.5,509.0h5M289.5,504.6h5M289.5,509.5h5M291.5,505.0h5M291.5,509.8h5M293.5,505.3h5M293.5,510.2h5M295.5,505.5h5M295.5,510.4h5M297.5,505.8h5M297.5,510.7h5M299.5,506.0h5M299.5,510.9h5M301.5,506.2h5M301.5,511.1h5M303.5,506.4h5M303.5,511.3h5M305.5,506.5h5M305.5,511.4h5M307.5,506.7h5M307.5,511.6h5M309.5,506.9h5M309.5,511.8h5M311.5,507.0h5M311.5,511.9h5M313.5,507.1h5M313.5,512.1h5M315.5,507.3h5M315.5,512.2h5M317.5,507.4h5M317.5,512.3h5M319.5,507.5h5M319.5,512.4h5M321.5,507.6h5M321.5,512.6h5M323.5,507.7h5M323.5,512.7h5M325.5,507.8h5M325.5,512.8h5M327.5,507.9h5M327.5,512.9h5M329.5,508.0h5M329.5,513.0h5M331.5,508.1h5M331.5,513.1h5M333.5,508.2h5M333.5,513.2h5M335.5,508.3h5M335.5,513.3h5M337.5,508.4h5M337.5,513.4h5M339.5,508.5h5M339.5,513.5h5M341.5,508.6h5M341.5,513.6h5M343.5,508.8h5M343.5,513.7h5M345.5,508.9h5M345.5,513.9h5M347.5,509.0h5M347.5,514.0h5M349.5,509.1h5M349.5,514.1h5" stroke="#e8b4cd" stroke-width="0.9" fill="none" opacity="0.5"/>
<path d="M46.0,512.90 L46.5,512.90 L47.0,512.90 L47.5,512.90 L48.0,512.90 L48.5,512.90 L49.0,512.90 L49.5,512.90 L50.0,512.91 L50.5,512.91 L51.0,512.91 L51.5,512.91 L52.0,512.91 L52.5,512.91 L53.0,512.91 L53.5,512.91 L54.0,512.91 L54.5,512.91 L55.0,512.91 L55.5,512.91 L56.0,512.92 L56.5,512.92 L57.0,512.92 L57.5,512.92 L58.0,512.92 L58.5,512.92 L59.0,512.92 L59.5,512.92 L60.0,512.92 L60.5,512.92 L61.0,512.92 L61.5,512.92 L62.0,512.93 L62.5,512.93 L63.0,512.93 L63.5,512.93 L64.0,512.93 L64.5,512.93 L65.0,512.93 L65.5,512.93 L66.0,512.93 L66.5,512.93 L67.0,512.93 L67.5,512.94 L68.0,512.94 L68.5,512.94 L69.0,512.94 L69.5,512.94 L70.0,512.94 L70.5,512.94 L71.0,512.94 L71.5,512.94 L72.0,512.94 L72.5,512.94 L73.0,512.94 L73.5,512.95 L74.0,512.95 L74.5,512.95 L75.0,512.95 L75.5,512.95 L76.0,512.95 L76.5,512.95 L77.0,512.95 L77.5,512.95 L78.0,512.95 L78.5,512.95 L79.0,512.96 L79.5,512.96 L80.0,512.96 L80.5,512.96 L81.0,512.96 L81.5,512.96 L82.0,512.96 L82.5,512.96 L83.0,512.96 L83.5,512.96 L84.0,512.96 L84.5,512.97 L85.0,512.97 L85.5,512.97 L86.0,512.97 L86.5,512.97 L87.0,512.97 L87.5,512.97 L88.0,512.97 L88.5,512.97 L89.0,512.97 L89.5,512.97 L90.0,512.97 L90.5,512.97 L91.0,512.98 L91.5,512.98 L92.0,512.98 L92.5,512.98 L93.0,512.98 L93.5,512.98 L94.0,512.98 L94.5,512.98 L95.0,512.98 L95.5,512.98 L96.0,512.98 L96.5,512.98 L97.0,512.98 L97.5,512.98 L98.0,512.98 L98.5,512.99 L99.0,512.99 L99.5,512.99 L100.0,512.99 L100.5,512.99 L101.0,512.99 L101.5,512.99 L102.0,512.99 L102.5,512.99 L103.0,512.99 L103.5,512.99 L104.0,512.99 L104.5,512.99 L105.0,512.99 L105.5,512.99 L106.0,512.99 L106.5,512.99 L107.0,512.99 L107.5,512.99 L108.0,513.00 L108.5,513.00 L109.0,513.00 L109.5,513.00 L110.0,513.00 L110.5,513.00 L111.0,513.00 L111.5,513.00 L112.0,513.00 L112.5,513.00 L113.0,513.00 L113.5,513.00 L114.0,513.00 L114.5,513.00 L115.0,513.00 L115.5,513.00 L116.0,513.00 L116.5,513.00 L117.0,513.00 L117.5,513.00 L118.0,513.00 L118.5,513.00 L119.0,513.00 L119.5,512.99 L120.0,512.97 L120.5,512.94 L121.0,512.90 L121.5,512.84 L122.0,512.75 L122.5,512.65 L123.0,512.53 L123.5,512.39 L124.0,512.24 L124.5,512.08 L125.0,511.91 L125.5,511.73 L126.0,511.55 L126.5,511.36 L127.0,511.17 L127.5,510.98 L128.0,510.78 L128.5,510.57 L129.0,510.35 L129.5,510.12 L130.0,509.87 L130.5,509.60 L131.0,509.32 L131.5,509.03 L132.0,508.73 L132.5,508.43 L133.0,508.12 L133.5,507.81 L134.0,507.51 L134.5,507.20 L135.0,506.90 L135.5,506.61 L136.0,506.34 L136.5,506.07 L137.0,505.81 L137.5,505.57 L138.0,505.33 L138.5,505.10 L139.0,504.87 L139.5,504.65 L140.0,504.43 L140.5,504.20 L141.0,503.98 L141.5,503.76 L142.0,503.54 L142.5,503.32 L143.0,503.10 L143.5,502.88 L144.0,502.67 L144.5,502.45 L145.0,502.24 L145.5,502.03 L146.0,501.82 L146.5,501.61 L147.0,501.41 L147.5,501.20 L148.0,501.00 L148.5,500.80 L149.0,500.61 L149.5,500.41 L150.0,500.22 L150.5,500.04 L151.0,499.85 L151.5,499.67 L152.0,499.49 L152.5,499.32 L153.0,499.15 L153.5,498.98 L154.0,498.82 L154.5,498.66 L155.0,498.51 L155.5,498.36 L156.0,498.21 L156.5,498.07 L157.0,497.94 L157.5,497.81 L158.0,497.68 L158.5,497.56 L159.0,497.44 L159.5,497.33 L160.0,497.23 L160.5,497.13 L161.0,497.03 L161.5,496.94 L162.0,496.86 L162.5,496.77 L163.0,496.69 L163.5,496.61 L164.0,496.53 L164.5,496.46 L165.0,496.38 L165.5,496.31 L166.0,496.23 L166.5,496.16 L167.0,496.09 L167.5,496.02 L168.0,495.95 L168.5,495.88 L169.0,495.81 L169.5,495.75 L170.0,495.68 L170.5,495.62 L171.0,495.55 L171.5,495.49 L172.0,495.43 L172.5,495.37 L173.0,495.31 L173.5,495.25 L174.0,495.19 L174.5,495.13 L175.0,495.08 L175.5,495.02 L176.0,494.97 L176.5,494.91 L177.0,494.86 L177.5,494.81 L178.0,494.75 L178.5,494.70 L179.0,494.65 L179.5,494.60 L180.0,494.55 L180.5,494.51 L181.0,494.46 L181.5,494.41 L182.0,494.36 L182.5,494.32 L183.0,494.27 L183.5,494.23 L184.0,494.19 L184.5,494.14 L185.0,494.10 L185.5,494.06 L186.0,494.01 L186.5,493.97 L187.0,493.93 L187.5,493.89 L188.0,493.85 L188.5,493.81 L189.0,493.77 L189.5,493.74 L190.0,493.70 L190.5,493.66 L191.0,493.62 L191.5,493.59 L192.0,493.55 L192.5,493.51 L193.0,493.48 L193.5,493.44 L194.0,493.41 L194.5,493.37 L195.0,493.34 L195.5,493.30 L196.0,493.27 L196.5,493.23 L197.0,493.20 L197.5,493.17 L198.0,493.13 L198.5,493.10 L199.0,493.07 L199.5,493.03 L200.0,493.00 L200.5,492.97 L201.0,492.93 L201.5,492.90 L202.0,492.87 L202.5,492.84 L203.0,492.80 L203.5,492.77 L204.0,492.74 L204.5,492.70 L205.0,492.67 L205.5,492.64 L206.0,492.60 L206.5,492.57 L207.0,492.54 L207.5,492.50 L208.0,492.47 L208.5,492.44 L209.0,492.40 L209.5,492.37 L210.0,492.34 L210.5,492.30 L211.0,492.27 L211.5,492.24 L212.0,492.20 L212.5,492.17 L213.0,492.14 L213.5,492.11 L214.0,492.08 L214.5,492.04 L215.0,492.01 L215.5,491.98 L216.0,491.95 L216.5,491.92 L217.0,491.89 L217.5,491.86 L218.0,491.82 L218.5,491.79 L219.0,491.76 L219.5,491.73 L220.0,491.71 L220.5,491.68 L221.0,491.65 L221.5,491.62 L222.0,491.59 L222.5,491.56 L223.0,491.53 L223.5,491.51 L224.0,491.48 L224.5,491.45 L225.0,491.43 L225.5,491.40 L226.0,491.38 L226.5,491.35 L227.0,491.33 L227.5,491.30 L228.0,491.28 L228.5,491.26 L229.0,491.23 L229.5,491.21 L230.0,491.19 L230.5,491.17 L231.0,491.15 L231.5,491.13 L232.0,491.11 L232.5,491.09 L233.0,491.07 L233.5,491.05 L234.0,491.03 L234.5,491.01 L235.0,491.00 L235.5,490.98 L236.0,490.97 L236.5,490.95 L237.0,490.94 L237.5,490.92 L238.0,490.91 L238.5,490.90 L239.0,490.89 L239.5,490.88 L240.0,490.87 L240.5,490.86 L241.0,490.85 L241.5,490.84 L242.0,490.83 L242.5,490.83 L243.0,490.82 L243.5,490.82 L244.0,490.81 L244.5,490.81 L245.0,490.81 L245.5,490.81 L246.0,490.81 L246.5,490.83 L247.0,490.86 L247.5,490.91 L248.0,490.98 L248.5,491.06 L249.0,491.18 L249.5,491.31 L250.0,491.46 L250.5,491.63 L251.0,491.82 L251.5,492.01 L252.0,492.22 L252.5,492.44 L253.0,492.67 L253.5,492.90 L254.0,493.14 L254.5,493.38 L255.0,493.62 L255.5,493.86 L256.0,494.10 L256.5,494.33 L257.0,494.55 L257.5,494.78 L258.0,495.00 L258.5,495.22 L259.0,495.44 L259.5,495.66 L260.0,495.89 L260.5,496.13 L261.0,496.37 L261.5,496.62 L262.0,496.87 L262.5,497.12 L263.0,497.37 L263.5,497.63 L264.0,497.88 L264.5,498.14 L265.0,498.39 L265.5,498.65 L266.0,498.90 L266.5,499.14 L267.0,499.38 L267.5,499.62 L268.0,499.85 L268.5,500.08 L269.0,500.30 L269.5,500.50 L270.0,500.70 L270.5,500.90 L271.0,501.08 L271.5,501.26 L272.0,501.43 L272.5,501.60 L273.0,501.77 L273.5,501.93 L274.0,502.10 L274.5,502.26 L275.0,502.42 L275.5,502.59 L276.0,502.75 L276.5,502.91 L277.0,503.07 L277.5,503.22 L278.0,503.38 L278.5,503.53 L279.0,503.69 L279.5,503.84 L280.0,503.99 L280.5,504.14 L281.0,504.28 L281.5,504.43 L282.0,504.57 L282.5,504.72 L283.0,504.86 L283.5,504.99 L284.0,505.13 L284.5,505.27 L285.0,505.40 L285.5,505.53 L286.0,505.66 L286.5,505.78 L287.0,505.91 L287.5,506.03 L288.0,506.15 L288.5,506.27 L289.0,506.38 L289.5,506.50 L290.0,506.61 L290.5,506.71 L291.0,506.82 L291.5,506.92 L292.0,507.02 L292.5,507.12 L293.0,507.21 L293.5,507.30 L294.0,507.39 L294.5,507.48 L295.0,507.56 L295.5,507.64 L296.0,507.71 L296.5,507.79 L297.0,507.86 L297.5,507.92 L298.0,507.99 L298.5,508.05 L299.0,508.11 L299.5,508.16 L300.0,508.22 L300.5,508.27 L301.0,508.33 L301.5,508.38 L302.0,508.43 L302.5,508.48 L303.0,508.53 L303.5,508.58 L304.0,508.63 L304.5,508.67 L305.0,508.72 L305.5,508.77 L306.0,508.81 L306.5,508.86 L307.0,508.90 L307.5,508.94 L308.0,508.99 L308.5,509.03 L309.0,509.07 L309.5,509.11 L310.0,509.15 L310.5,509.19 L311.0,509.23 L311.5,509.27 L312.0,509.31 L312.5,509.34 L313.0,509.38 L313.5,509.42 L314.0,509.45 L314.5,509.49 L315.0,509.53 L315.5,509.56 L316.0,509.59 L316.5,509.63 L317.0,509.66 L317.5,509.69 L318.0,509.73 L318.5,509.76 L319.0,509.79 L319.5,509.82 L320.0,509.85 L320.5,509.88 L321.0,509.91 L321.5,509.94 L322.0,509.97 L322.5,510.00 L323.0,510.03 L323.5,510.06 L324.0,510.09 L324.5,510.12 L325.0,510.14 L325.5,510.17 L326.0,510.20 L326.5,510.23 L327.0,510.25 L327.5,510.28 L328.0,510.31 L328.5,510.33 L329.0,510.36 L329.5,510.39 L330.0,510.41 L330.5,510.44 L331.0,510.46 L331.5,510.49 L332.0,510.52 L332.5,510.54 L333.0,510.57 L333.5,510.59 L334.0,510.62 L334.5,510.64 L335.0,510.67 L335.5,510.69 L336.0,510.72 L336.5,510.75 L337.0,510.77 L337.5,510.80 L338.0,510.82 L338.5,510.85 L339.0,510.87 L339.5,510.90 L340.0,510.92 L340.5,510.95 L341.0,510.98 L341.5,511.00 L342.0,511.03 L342.5,511.06 L343.0,511.08 L343.5,511.11 L344.0,511.14 L344.5,511.16 L345.0,511.19 L345.5,511.22 L346.0,511.25 L346.5,511.27 L347.0,511.30 L347.5,511.33 L348.0,511.36 L348.5,511.39 L349.0,511.42 L349.5,511.45 L350.0,511.48 L350.5,511.51 L351.0,511.54 L351.5,511.57 L352.0,511.60 L352.5,511.63 L353.0,511.65 L353.5,511.67" stroke="#c9799d" stroke-width="1.8" fill="none" stroke-linejoin="round"/></g>
<g clip-path="url(#plotclip)"><path d="M46.5,526.3V527.3M48.5,526.3V527.3M50.5,526.3V527.3M52.5,526.3V527.3M54.5,526.3V527.3M56.5,526.3V527.3M58.5,526.3V527.4M60.5,526.3V527.4M62.5,526.3V527.4M64.5,526.3V527.4M66.5,526.3V527.4M68.5,526.3V527.4M70.5,526.3V527.4M72.5,526.3V527.4M74.5,526.3V527.4M76.5,526.3V527.4M78.5,526.3V527.4M80.5,526.3V527.4M82.5,526.3V527.4M84.5,526.3V527.4M86.5,526.3V527.5M88.5,526.3V527.5M90.5,526.3V527.5M92.5,526.3V527.5M94.5,526.3V527.5M96.5,526.3V527.5M98.5,526.3V527.5M100.5,526.3V527.5M102.5,526.2V527.5M104.5,526.2V527.5M106.5,526.2V527.5M108.5,526.2V527.6M110.5,526.2V527.6M112.5,526.2V527.6M114.5,526.2V527.6M116.5,526.2V527.6M118.5,526.2V527.6M120.5,526.2V527.6M122.5,526.1V527.7M124.5,526.1V527.7M126.5,525.9V527.5M128.5,524.8V526.5M130.5,522.6V524.9M132.5,519.6V523.0M134.5,515.8V520.5M136.5,511.6V517.4M138.5,506.8V513.4M140.5,501.7V508.7M142.5,496.8V503.8M144.5,491.9V498.8M146.5,486.9V493.7M148.5,482.0V488.6M150.5,477.7V484.1M152.5,474.1V480.4M154.5,471.7V477.8M156.5,470.1V475.9M158.5,468.8V474.5M160.5,467.7V473.2M162.5,466.9V472.1M164.5,466.3V471.4M166.5,465.8V470.7M168.5,465.4V470.2M170.5,465.1V469.7M172.5,464.8V469.2M174.5,464.6V468.8M176.5,464.3V468.3M178.5,464.1V467.8M180.5,463.8V467.4M182.5,463.5V466.9M184.5,463.3V466.5M186.5,463.0V466.1M188.5,462.8V465.7M190.5,462.6V465.3M192.5,462.4V465.1M194.5,462.3V464.8M196.5,462.2V464.6M198.5,462.1V464.5M200.5,462.0V464.4M202.5,461.9V464.3M204.5,461.8V464.2M206.5,461.7V464.1M208.5,461.6V464.1M210.5,461.5V464.1M212.5,461.5V464.1M214.5,461.4V464.1M216.5,461.4V464.1M218.5,461.3V464.1M220.5,461.3V464.2M222.5,461.2V464.2M224.5,461.2V464.2M226.5,461.1V464.3M228.5,461.1V464.3M230.5,461.2V464.5M232.5,461.4V464.9M234.5,461.8V465.4M236.5,462.6V466.3M238.5,463.9V467.7M240.5,465.5V469.5M242.5,467.3V471.3M244.5,469.8V474.0M246.5,473.7V478.2M248.5,477.9V482.7M250.5,482.3V487.3M252.5,486.6V491.9M254.5,490.6V496.2M256.5,493.6V499.4M258.5,496.0V501.9M260.5,498.2V504.2M262.5,500.3V506.3M264.5,502.0V507.9M266.5,503.6V509.4M268.5,505.0V510.6M270.5,506.2V511.6M272.5,507.2V512.3M274.5,508.0V512.9M276.5,508.7V513.3M278.5,509.4V513.7M280.5,510.0V514.0M282.5,510.5V514.3M284.5,511.1V514.6M286.5,511.6V514.8M288.5,512.0V515.0M290.5,512.5V515.2M292.5,512.9V515.4M294.5,513.3V515.6M296.5,513.6V515.7M298.5,513.9V515.9M300.5,514.1V516.1M302.5,514.3V516.3M304.5,514.5V516.5M306.5,514.7V516.7M308.5,514.9V516.8M310.5,515.1V517.0M312.5,515.3V517.2M314.5,515.5V517.3M316.5,515.6V517.5M318.5,515.8V517.6M320.5,516.0V517.8M322.5,516.1V517.9M324.5,516.3V518.0M326.5,516.4V518.2M328.5,516.6V518.3M330.5,516.7V518.4M332.5,516.8V518.6M334.5,517.0V518.7M336.5,517.1V518.8M338.5,517.3V518.9M340.5,517.4V519.1M342.5,517.5V519.2M344.5,517.7V519.3M346.5,517.8V519.5M348.5,518.0V519.6M350.5,518.1V519.7M352.5,518.3V519.9" stroke="#888" stroke-width="1.0" fill="none" opacity="0.2"/>
<path d="M42.5,526.3h7M42.5,527.3h7M44.5,526.3h7M44.5,527.3h7M46.5,526.3h7M46.5,527.3h7M48.5,526.3h7M48.5,527.3h7M50.5,526.3h7M50.5,527.3h7M52.5,526.3h7M52.5,527.3h7M54.5,526.3h7M54.5,527.4h7M56.5,526.3h7M56.5,527.4h7M58.5,526.3h7M58.5,527.4h7M60.5,526.3h7M60.5,527.4h7M62.5,526.3h7M62.5,527.4h7M64.5,526.3h7M64.5,527.4h7M66.5,526.3h7M66.5,527.4h7M68.5,526.3h7M68.5,527.4h7M70.5,526.3h7M70.5,527.4h7M72.5,526.3h7M72.5,527.4h7M74.5,526.3h7M74.5,527.4h7M76.5,526.3h7M76.5,527.4h7M78.5,526.3h7M78.5,527.4h7M80.5,526.3h7M80.5,527.4h7M82.5,526.3h7M82.5,527.5h7M84.5,526.3h7M84.5,527.5h7M86.5,526.3h7M86.5,527.5h7M88.5,526.3h7M88.5,527.5h7M90.5,526.3h7M90.5,527.5h7M92.5,526.3h7M92.5,527.5h7M94.5,526.3h7M94.5,527.5h7M96.5,526.3h7M96.5,527.5h7M98.5,526.2h7M98.5,527.5h7M100.5,526.2h7M100.5,527.5h7M102.5,526.2h7M102.5,527.5h7M104.5,526.2h7M104.5,527.6h7M106.5,526.2h7M106.5,527.6h7M108.5,526.2h7M108.5,527.6h7M110.5,526.2h7M110.5,527.6h7M112.5,526.2h7M112.5,527.6h7M114.5,526.2h7M114.5,527.6h7M116.5,526.2h7M116.5,527.6h7M118.5,526.1h7M118.5,527.7h7M120.5,526.1h7M120.5,527.7h7M122.5,525.9h7M122.5,527.5h7M124.5,524.8h7M124.5,526.5h7M126.5,522.6h7M126.5,524.9h7M128.5,519.6h7M128.5,523.0h7M130.5,515.8h7M130.5,520.5h7M132.5,511.6h7M132.5,517.4h7M134.5,506.8h7M134.5,513.4h7M136.5,501.7h7M136.5,508.7h7M138.5,496.8h7M138.5,503.8h7M140.5,491.9h7M140.5,498.8h7M142.5,486.9h7M142.5,493.7h7M144.5,482.0h7M144.5,488.6h7M146.5,477.7h7M146.5,484.1h7M148.5,474.1h7M148.5,480.4h7M150.5,471.7h7M150.5,477.8h7M152.5,470.1h7M152.5,475.9h7M154.5,468.8h7M154.5,474.5h7M156.5,467.7h7M156.5,473.2h7M158.5,466.9h7M158.5,472.1h7M160.5,466.3h7M160.5,471.4h7M162.5,465.8h7M162.5,470.7h7M164.5,465.4h7M164.5,470.2h7M166.5,465.1h7M166.5,469.7h7M168.5,464.8h7M168.5,469.2h7M170.5,464.6h7M170.5,468.8h7M172.5,464.3h7M172.5,468.3h7M174.5,464.1h7M174.5,467.8h7M176.5,463.8h7M176.5,467.4h7M178.5,463.5h7M178.5,466.9h7M180.5,463.3h7M180.5,466.5h7M182.5,463.0h7M182.5,466.1h7M184.5,462.8h7M184.5,465.7h7M186.5,462.6h7M186.5,465.3h7M188.5,462.4h7M188.5,465.1h7M190.5,462.3h7M190.5,464.8h7M192.5,462.2h7M192.5,464.6h7M194.5,462.1h7M194.5,464.5h7M196.5,462.0h7M196.5,464.4h7M198.5,461.9h7M198.5,464.3h7M200.5,461.8h7M200.5,464.2h7M202.5,461.7h7M202.5,464.1h7M204.5,461.6h7M204.5,464.1h7M206.5,461.5h7M206.5,464.1h7M208.5,461.5h7M208.5,464.1h7M210.5,461.4h7M210.5,464.1h7M212.5,461.4h7M212.5,464.1h7M214.5,461.3h7M214.5,464.1h7M216.5,461.3h7M216.5,464.2h7M218.5,461.2h7M218.5,464.2h7M220.5,461.2h7M220.5,464.2h7M222.5,461.1h7M222.5,464.3h7M224.5,461.1h7M224.5,464.3h7M226.5,461.2h7M226.5,464.5h7M228.5,461.4h7M228.5,464.9h7M230.5,461.8h7M230.5,465.4h7M232.5,462.6h7M232.5,466.3h7M234.5,463.9h7M234.5,467.7h7M236.5,465.5h7M236.5,469.5h7M238.5,467.3h7M238.5,471.3h7M240.5,469.8h7M240.5,474.0h7M242.5,473.7h7M242.5,478.2h7M244.5,477.9h7M244.5,482.7h7M246.5,482.3h7M246.5,487.3h7M248.5,486.6h7M248.5,491.9h7M250.5,490.6h7M250.5,496.2h7M252.5,493.6h7M252.5,499.4h7M254.5,496.0h7M254.5,501.9h7M256.5,498.2h7M256.5,504.2h7M258.5,500.3h7M258.5,506.3h7M260.5,502.0h7M260.5,507.9h7M262.5,503.6h7M262.5,509.4h7M264.5,505.0h7M264.5,510.6h7M266.5,506.2h7M266.5,511.6h7M268.5,507.2h7M268.5,512.3h7M270.5,508.0h7M270.5,512.9h7M272.5,508.7h7M272.5,513.3h7M274.5,509.4h7M274.5,513.7h7M276.5,510.0h7M276.5,514.0h7M278.5,510.5h7M278.5,514.3h7M280.5,511.1h7M280.5,514.6h7M282.5,511.6h7M282.5,514.8h7M284.5,512.0h7M284.5,515.0h7M286.5,512.5h7M286.5,515.2h7M288.5,512.9h7M288.5,515.4h7M290.5,513.3h7M290.5,515.6h7M292.5,513.6h7M292.5,515.7h7M294.5,513.9h7M294.5,515.9h7M296.5,514.1h7M296.5,516.1h7M298.5,514.3h7M298.5,516.3h7M300.5,514.5h7M300.5,516.5h7M302.5,514.7h7M302.5,516.7h7M304.5,514.9h7M304.5,516.8h7M306.5,515.1h7M306.5,517.0h7M308.5,515.3h7M308.5,517.2h7M310.5,515.5h7M310.5,517.3h7M312.5,515.6h7M312.5,517.5h7M314.5,515.8h7M314.5,517.6h7M316.5,516.0h7M316.5,517.8h7M318.5,516.1h7M318.5,517.9h7M320.5,516.3h7M320.5,518.0h7M322.5,516.4h7M322.5,518.2h7M324.5,516.6h7M324.5,518.3h7M326.5,516.7h7M326.5,518.4h7M328.5,516.8h7M328.5,518.6h7M330.5,517.0h7M330.5,518.7h7M332.5,517.1h7M332.5,518.8h7M334.5,517.3h7M334.5,518.9h7M336.5,517.4h7M336.5,519.1h7M338.5,517.5h7M338.5,519.2h7M340.5,517.7h7M340.5,519.3h7M342.5,517.8h7M342.5,519.5h7M344.5,518.0h7M344.5,519.6h7M346.5,518.1h7M346.5,519.7h7M348.5,518.3h7M348.5,519.9h7" stroke="#666" stroke-width="0.9" fill="none" opacity="0.5"/>
<path d="M46.0,526.80 L46.5,526.80 L47.0,526.80 L47.5,526.80 L48.0,526.80 L48.5,526.80 L49.0,526.80 L49.5,526.80 L50.0,526.81 L50.5,526.81 L51.0,526.81 L51.5,526.81 L52.0,526.81 L52.5,526.81 L53.0,526.81 L53.5,526.81 L54.0,526.81 L54.5,526.81 L55.0,526.81 L55.5,526.81 L56.0,526.81 L56.5,526.81 L57.0,526.82 L57.5,526.82 L58.0,526.82 L58.5,526.82 L59.0,526.82 L59.5,526.82 L60.0,526.82 L60.5,526.82 L61.0,526.82 L61.5,526.82 L62.0,526.82 L62.5,526.82 L63.0,526.83 L63.5,526.83 L64.0,526.83 L64.5,526.83 L65.0,526.83 L65.5,526.83 L66.0,526.83 L66.5,526.83 L67.0,526.83 L67.5,526.83 L68.0,526.83 L68.5,526.83 L69.0,526.84 L69.5,526.84 L70.0,526.84 L70.5,526.84 L71.0,526.84 L71.5,526.84 L72.0,526.84 L72.5,526.84 L73.0,526.84 L73.5,526.84 L74.0,526.84 L74.5,526.84 L75.0,526.85 L75.5,526.85 L76.0,526.85 L76.5,526.85 L77.0,526.85 L77.5,526.85 L78.0,526.85 L78.5,526.85 L79.0,526.85 L79.5,526.85 L80.0,526.85 L80.5,526.85 L81.0,526.86 L81.5,526.86 L82.0,526.86 L82.5,526.86 L83.0,526.86 L83.5,526.86 L84.0,526.86 L84.5,526.86 L85.0,526.86 L85.5,526.86 L86.0,526.86 L86.5,526.86 L87.0,526.86 L87.5,526.87 L88.0,526.87 L88.5,526.87 L89.0,526.87 L89.5,526.87 L90.0,526.87 L90.5,526.87 L91.0,526.87 L91.5,526.87 L92.0,526.87 L92.5,526.87 L93.0,526.87 L93.5,526.87 L94.0,526.88 L94.5,526.88 L95.0,526.88 L95.5,526.88 L96.0,526.88 L96.5,526.88 L97.0,526.88 L97.5,526.88 L98.0,526.88 L98.5,526.88 L99.0,526.88 L99.5,526.88 L100.0,526.88 L100.5,526.88 L101.0,526.88 L101.5,526.88 L102.0,526.89 L102.5,526.89 L103.0,526.89 L103.5,526.89 L104.0,526.89 L104.5,526.89 L105.0,526.89 L105.5,526.89 L106.0,526.89 L106.5,526.89 L107.0,526.89 L107.5,526.89 L108.0,526.89 L108.5,526.89 L109.0,526.89 L109.5,526.89 L110.0,526.89 L110.5,526.89 L111.0,526.89 L111.5,526.89 L112.0,526.90 L112.5,526.90 L113.0,526.90 L113.5,526.90 L114.0,526.90 L114.5,526.90 L115.0,526.90 L115.5,526.90 L116.0,526.90 L116.5,526.90 L117.0,526.90 L117.5,526.90 L118.0,526.90 L118.5,526.90 L119.0,526.90 L119.5,526.90 L120.0,526.90 L120.5,526.90 L121.0,526.90 L121.5,526.90 L122.0,526.90 L122.5,526.90 L123.0,526.90 L123.5,526.90 L124.0,526.90 L124.5,526.90 L125.0,526.88 L125.5,526.81 L126.0,526.68 L126.5,526.47 L127.0,526.22 L127.5,525.95 L128.0,525.63 L128.5,525.25 L129.0,524.81 L129.5,524.30 L130.0,523.76 L130.5,523.19 L131.0,522.59 L131.5,521.96 L132.0,521.29 L132.5,520.57 L133.0,519.80 L133.5,519.00 L134.0,518.16 L134.5,517.28 L135.0,516.38 L135.5,515.46 L136.0,514.49 L136.5,513.48 L137.0,512.40 L137.5,511.27 L138.0,510.09 L138.5,508.89 L139.0,507.67 L139.5,506.44 L140.0,505.22 L140.5,504.00 L141.0,502.79 L141.5,501.57 L142.0,500.33 L142.5,499.09 L143.0,497.84 L143.5,496.59 L144.0,495.34 L144.5,494.09 L145.0,492.84 L145.5,491.60 L146.0,490.34 L146.5,489.07 L147.0,487.79 L147.5,486.53 L148.0,485.30 L148.5,484.13 L149.0,483.01 L149.5,481.95 L150.0,480.91 L150.5,479.90 L151.0,478.94 L151.5,478.05 L152.0,477.24 L152.5,476.53 L153.0,475.89 L153.5,475.31 L154.0,474.77 L154.5,474.27 L155.0,473.81 L155.5,473.39 L156.0,473.01 L156.5,472.64 L157.0,472.30 L157.5,471.96 L158.0,471.64 L158.5,471.32 L159.0,471.02 L159.5,470.74 L160.0,470.46 L160.5,470.20 L161.0,469.96 L161.5,469.73 L162.0,469.52 L162.5,469.32 L163.0,469.14 L163.5,468.97 L164.0,468.82 L164.5,468.67 L165.0,468.53 L165.5,468.39 L166.0,468.27 L166.5,468.14 L167.0,468.02 L167.5,467.91 L168.0,467.80 L168.5,467.69 L169.0,467.59 L169.5,467.49 L170.0,467.40 L170.5,467.30 L171.0,467.21 L171.5,467.12 L172.0,467.03 L172.5,466.94 L173.0,466.85 L173.5,466.77 L174.0,466.68 L174.5,466.59 L175.0,466.50 L175.5,466.41 L176.0,466.32 L176.5,466.23 L177.0,466.13 L177.5,466.04 L178.0,465.95 L178.5,465.86 L179.0,465.76 L179.5,465.67 L180.0,465.58 L180.5,465.49 L181.0,465.40 L181.5,465.31 L182.0,465.22 L182.5,465.13 L183.0,465.04 L183.5,464.95 L184.0,464.87 L184.5,464.78 L185.0,464.70 L185.5,464.62 L186.0,464.54 L186.5,464.46 L187.0,464.38 L187.5,464.31 L188.0,464.23 L188.5,464.16 L189.0,464.09 L189.5,464.03 L190.0,463.96 L190.5,463.90 L191.0,463.84 L191.5,463.79 L192.0,463.74 L192.5,463.68 L193.0,463.64 L193.5,463.59 L194.0,463.55 L194.5,463.52 L195.0,463.48 L195.5,463.45 L196.0,463.41 L196.5,463.38 L197.0,463.35 L197.5,463.31 L198.0,463.28 L198.5,463.25 L199.0,463.22 L199.5,463.19 L200.0,463.16 L200.5,463.13 L201.0,463.11 L201.5,463.08 L202.0,463.06 L202.5,463.03 L203.0,463.01 L203.5,462.98 L204.0,462.96 L204.5,462.94 L205.0,462.92 L205.5,462.91 L206.0,462.89 L206.5,462.87 L207.0,462.86 L207.5,462.84 L208.0,462.83 L208.5,462.82 L209.0,462.81 L209.5,462.81 L210.0,462.80 L210.5,462.79 L211.0,462.79 L211.5,462.78 L212.0,462.78 L212.5,462.78 L213.0,462.77 L213.5,462.77 L214.0,462.76 L214.5,462.76 L215.0,462.75 L215.5,462.75 L216.0,462.75 L216.5,462.74 L217.0,462.74 L217.5,462.74 L218.0,462.73 L218.5,462.73 L219.0,462.73 L219.5,462.72 L220.0,462.72 L220.5,462.72 L221.0,462.72 L221.5,462.71 L222.0,462.71 L222.5,462.71 L223.0,462.71 L223.5,462.71 L224.0,462.70 L224.5,462.70 L225.0,462.70 L225.5,462.70 L226.0,462.70 L226.5,462.70 L227.0,462.70 L227.5,462.70 L228.0,462.71 L228.5,462.73 L229.0,462.76 L229.5,462.80 L230.0,462.85 L230.5,462.91 L231.0,462.98 L231.5,463.05 L232.0,463.13 L232.5,463.21 L233.0,463.31 L233.5,463.43 L234.0,463.58 L234.5,463.77 L235.0,463.99 L235.5,464.24 L236.0,464.50 L236.5,464.77 L237.0,465.07 L237.5,465.40 L238.0,465.77 L238.5,466.18 L239.0,466.61 L239.5,467.05 L240.0,467.50 L240.5,467.93 L241.0,468.36 L241.5,468.81 L242.0,469.29 L242.5,469.81 L243.0,470.41 L243.5,471.09 L244.0,471.89 L244.5,472.79 L245.0,473.78 L245.5,474.83 L246.0,475.92 L246.5,477.03 L247.0,478.15 L247.5,479.25 L248.0,480.33 L248.5,481.43 L249.0,482.54 L249.5,483.67 L250.0,484.81 L250.5,485.94 L251.0,487.04 L251.5,488.14 L252.0,489.23 L252.5,490.32 L253.0,491.39 L253.5,492.42 L254.0,493.37 L254.5,494.24 L255.0,495.04 L255.5,495.78 L256.0,496.47 L256.5,497.13 L257.0,497.77 L257.5,498.38 L258.0,498.97 L258.5,499.55 L259.0,500.12 L259.5,500.68 L260.0,501.23 L260.5,501.77 L261.0,502.28 L261.5,502.78 L262.0,503.27 L262.5,503.73 L263.0,504.17 L263.5,504.59 L264.0,505.00 L264.5,505.38 L265.0,505.76 L265.5,506.13 L266.0,506.49 L266.5,506.84 L267.0,507.18 L267.5,507.51 L268.0,507.82 L268.5,508.13 L269.0,508.41 L269.5,508.68 L270.0,508.93 L270.5,509.16 L271.0,509.38 L271.5,509.57 L272.0,509.76 L272.5,509.93 L273.0,510.10 L273.5,510.27 L274.0,510.43 L274.5,510.59 L275.0,510.74 L275.5,510.88 L276.0,511.02 L276.5,511.16 L277.0,511.29 L277.5,511.42 L278.0,511.54 L278.5,511.66 L279.0,511.78 L279.5,511.90 L280.0,512.01 L280.5,512.11 L281.0,512.22 L281.5,512.32 L282.0,512.43 L282.5,512.53 L283.0,512.62 L283.5,512.72 L284.0,512.81 L284.5,512.91 L285.0,513.00 L285.5,513.09 L286.0,513.18 L286.5,513.27 L287.0,513.36 L287.5,513.44 L288.0,513.52 L288.5,513.61 L289.0,513.69 L289.5,513.77 L290.0,513.84 L290.5,513.92 L291.0,514.00 L291.5,514.07 L292.0,514.14 L292.5,514.21 L293.0,514.28 L293.5,514.35 L294.0,514.42 L294.5,514.48 L295.0,514.55 L295.5,514.61 L296.0,514.67 L296.5,514.73 L297.0,514.79 L297.5,514.85 L298.0,514.90 L298.5,514.96 L299.0,515.01 L299.5,515.06 L300.0,515.12 L300.5,515.17 L301.0,515.22 L301.5,515.27 L302.0,515.32 L302.5,515.37 L303.0,515.42 L303.5,515.47 L304.0,515.52 L304.5,515.56 L305.0,515.61 L305.5,515.66 L306.0,515.71 L306.5,515.75 L307.0,515.80 L307.5,515.84 L308.0,515.89 L308.5,515.93 L309.0,515.98 L309.5,516.02 L310.0,516.06 L310.5,516.11 L311.0,516.15 L311.5,516.19 L312.0,516.23 L312.5,516.27 L313.0,516.32 L313.5,516.36 L314.0,516.40 L314.5,516.44 L315.0,516.48 L315.5,516.52 L316.0,516.56 L316.5,516.59 L317.0,516.63 L317.5,516.67 L318.0,516.71 L318.5,516.75 L319.0,516.78 L319.5,516.82 L320.0,516.86 L320.5,516.90 L321.0,516.93 L321.5,516.97 L322.0,517.01 L322.5,517.04 L323.0,517.08 L323.5,517.11 L324.0,517.15 L324.5,517.18 L325.0,517.22 L325.5,517.25 L326.0,517.29 L326.5,517.32 L327.0,517.36 L327.5,517.39 L328.0,517.43 L328.5,517.46 L329.0,517.50 L329.5,517.53 L330.0,517.56 L330.5,517.60 L331.0,517.63 L331.5,517.67 L332.0,517.70 L332.5,517.73 L333.0,517.77 L333.5,517.80 L334.0,517.83 L334.5,517.87 L335.0,517.90 L335.5,517.93 L336.0,517.97 L336.5,518.00 L337.0,518.03 L337.5,518.07 L338.0,518.10 L338.5,518.14 L339.0,518.17 L339.5,518.20 L340.0,518.24 L340.5,518.27 L341.0,518.30 L341.5,518.34 L342.0,518.37 L342.5,518.41 L343.0,518.44 L343.5,518.48 L344.0,518.51 L344.5,518.54 L345.0,518.58 L345.5,518.61 L346.0,518.65 L346.5,518.68 L347.0,518.72 L347.5,518.76 L348.0,518.79 L348.5,518.83 L349.0,518.86 L349.5,518.90 L350.0,518.94 L350.5,518.97 L351.0,519.01 L351.5,519.05 L352.0,519.09 L352.5,519.12 L353.0,519.16 L353.5,519.19" stroke="#000" stroke-width="2.2" fill="none" stroke-linejoin="round"/></g>
<g clip-path="url(#plotclip)"><path d="M46.5,499.1V502.1M48.5,499.1V502.1M50.5,499.1V502.1M52.5,499.1V502.1M54.5,499.1V502.1M56.5,499.1V502.1M58.5,499.1V502.1M60.5,499.1V502.1M62.5,499.1V502.1M64.5,499.1V502.1M66.5,499.1V502.1M68.5,499.1V502.1M70.5,499.1V502.1M72.5,499.1V502.1M74.5,499.1V502.1M76.5,499.1V502.1M78.5,499.1V502.1M80.5,499.1V502.1M82.5,499.1V502.1M84.5,499.1V502.1M86.5,499.1V502.1M88.5,499.1V502.1M90.5,499.1V502.1M92.5,499.1V502.1M94.5,499.1V502.1M96.5,499.1V502.1M98.5,499.1V502.1M100.5,499.1V502.1M102.5,499.0V502.2M104.5,499.0V502.2M106.5,499.0V502.2M108.5,499.0V502.2M110.5,499.0V502.2M112.5,499.0V502.2M114.5,499.0V502.2M116.5,499.0V502.2M118.5,499.0V502.2M120.5,499.0V502.2M122.5,498.8V502.0M124.5,498.2V501.5M126.5,493.7V497.7M128.5,482.7V487.7M130.5,462.4V469.0M132.5,442.6V450.9M134.5,424.3V434.3M136.5,409.7V421.3M138.5,397.6V410.6M140.5,386.8V400.8M142.5,378.4V393.1M144.5,372.0V387.5M146.5,367.4V383.6M148.5,365.1V382.0M150.5,363.9V381.3M152.5,363.4V381.2M154.5,363.3V381.2M156.5,364.0V382.0M158.5,365.1V383.0M160.5,366.4V384.3M162.5,367.9V385.8M164.5,369.9V387.7M166.5,372.2V389.8M168.5,374.0V391.5M170.5,375.5V392.9M172.5,377.0V394.2M174.5,378.3V395.4M176.5,379.5V396.4M178.5,380.5V397.2M180.5,381.2V397.8M182.5,381.9V398.3M184.5,382.4V398.7M186.5,383.0V399.1M188.5,383.5V399.4M190.5,384.0V399.7M192.5,384.4V399.9M194.5,384.8V400.2M196.5,385.1V400.3M198.5,385.4V400.5M200.5,385.6V400.6M202.5,385.9V400.7M204.5,386.0V400.8M206.5,386.2V400.9M208.5,386.3V400.9M210.5,386.4V400.9M212.5,386.5V400.9M214.5,386.6V401.0M216.5,386.7V401.0M218.5,386.8V401.0M220.5,387.0V401.1M222.5,387.2V401.2M224.5,387.4V401.4M226.5,387.8V401.7M228.5,388.3V402.1M230.5,388.9V402.6M232.5,389.6V403.2M234.5,390.5V403.9M236.5,391.5V404.8M238.5,392.9V406.0M240.5,395.3V408.3M242.5,400.5V413.3M244.5,407.2V419.7M246.5,412.1V424.3M248.5,416.5V428.4M250.5,421.8V433.3M252.5,428.5V439.5M254.5,437.5V448.1M256.5,450.3V460.4M258.5,459.9V469.6M260.5,467.3V476.6M262.5,473.5V482.4M264.5,478.2V486.8M266.5,480.7V489.0M268.5,482.4V490.5M270.5,483.6V491.6M272.5,484.4V492.3M274.5,484.8V492.6M276.5,485.1V492.8M278.5,485.4V493.0M280.5,485.6V493.1M282.5,485.6V493.2M284.5,485.7V493.1M286.5,485.6V493.0M288.5,485.6V492.9M290.5,485.5V492.7M292.5,485.4V492.6M294.5,485.3V492.4M296.5,485.2V492.3M298.5,485.1V492.1M300.5,485.0V492.0M302.5,484.8V491.8M304.5,484.7V491.6M306.5,484.6V491.4M308.5,484.4V491.2M310.5,484.3V491.1M312.5,484.2V490.9M314.5,484.1V490.8M316.5,484.0V490.6M318.5,483.9V490.5M320.5,483.8V490.4M322.5,483.7V490.3M324.5,483.6V490.2M326.5,483.5V490.0M328.5,483.4V489.9M330.5,483.4V489.8M332.5,483.3V489.7M334.5,483.2V489.6M336.5,483.1V489.5M338.5,483.1V489.4M340.5,483.0V489.3M342.5,482.9V489.2M344.5,482.8V489.0M346.5,482.8V488.9M348.5,482.7V488.8M350.5,482.6V488.7M352.5,482.6V488.6" stroke="#4fc493" stroke-width="1.0" fill="none" opacity="0.35"/>
<path d="M43.5,499.1h5M43.5,502.1h5M45.5,499.1h5M45.5,502.1h5M47.5,499.1h5M47.5,502.1h5M49.5,499.1h5M49.5,502.1h5M51.5,499.1h5M51.5,502.1h5M53.5,499.1h5M53.5,502.1h5M55.5,499.1h5M55.5,502.1h5M57.5,499.1h5M57.5,502.1h5M59.5,499.1h5M59.5,502.1h5M61.5,499.1h5M61.5,502.1h5M63.5,499.1h5M63.5,502.1h5M65.5,499.1h5M65.5,502.1h5M67.5,499.1h5M67.5,502.1h5M69.5,499.1h5M69.5,502.1h5M71.5,499.1h5M71.5,502.1h5M73.5,499.1h5M73.5,502.1h5M75.5,499.1h5M75.5,502.1h5M77.5,499.1h5M77.5,502.1h5M79.5,499.1h5M79.5,502.1h5M81.5,499.1h5M81.5,502.1h5M83.5,499.1h5M83.5,502.1h5M85.5,499.1h5M85.5,502.1h5M87.5,499.1h5M87.5,502.1h5M89.5,499.1h5M89.5,502.1h5M91.5,499.1h5M91.5,502.1h5M93.5,499.1h5M93.5,502.1h5M95.5,499.1h5M95.5,502.1h5M97.5,499.1h5M97.5,502.1h5M99.5,499.0h5M99.5,502.2h5M101.5,499.0h5M101.5,502.2h5M103.5,499.0h5M103.5,502.2h5M105.5,499.0h5M105.5,502.2h5M107.5,499.0h5M107.5,502.2h5M109.5,499.0h5M109.5,502.2h5M111.5,499.0h5M111.5,502.2h5M113.5,499.0h5M113.5,502.2h5M115.5,499.0h5M115.5,502.2h5M117.5,499.0h5M117.5,502.2h5M119.5,498.8h5M119.5,502.0h5M121.5,498.2h5M121.5,501.5h5M123.5,493.7h5M123.5,497.7h5M125.5,482.7h5M125.5,487.7h5M127.5,462.4h5M127.5,469.0h5M129.5,442.6h5M129.5,450.9h5M131.5,424.3h5M131.5,434.3h5M133.5,409.7h5M133.5,421.3h5M135.5,397.6h5M135.5,410.6h5M137.5,386.8h5M137.5,400.8h5M139.5,378.4h5M139.5,393.1h5M141.5,372.0h5M141.5,387.5h5M143.5,367.4h5M143.5,383.6h5M145.5,365.1h5M145.5,382.0h5M147.5,363.9h5M147.5,381.3h5M149.5,363.4h5M149.5,381.2h5M151.5,363.3h5M151.5,381.2h5M153.5,364.0h5M153.5,382.0h5M155.5,365.1h5M155.5,383.0h5M157.5,366.4h5M157.5,384.3h5M159.5,367.9h5M159.5,385.8h5M161.5,369.9h5M161.5,387.7h5M163.5,372.2h5M163.5,389.8h5M165.5,374.0h5M165.5,391.5h5M167.5,375.5h5M167.5,392.9h5M169.5,377.0h5M169.5,394.2h5M171.5,378.3h5M171.5,395.4h5M173.5,379.5h5M173.5,396.4h5M175.5,380.5h5M175.5,397.2h5M177.5,381.2h5M177.5,397.8h5M179.5,381.9h5M179.5,398.3h5M181.5,382.4h5M181.5,398.7h5M183.5,383.0h5M183.5,399.1h5M185.5,383.5h5M185.5,399.4h5M187.5,384.0h5M187.5,399.7h5M189.5,384.4h5M189.5,399.9h5M191.5,384.8h5M191.5,400.2h5M193.5,385.1h5M193.5,400.3h5M195.5,385.4h5M195.5,400.5h5M197.5,385.6h5M197.5,400.6h5M199.5,385.9h5M199.5,400.7h5M201.5,386.0h5M201.5,400.8h5M203.5,386.2h5M203.5,400.9h5M205.5,386.3h5M205.5,400.9h5M207.5,386.4h5M207.5,400.9h5M209.5,386.5h5M209.5,400.9h5M211.5,386.6h5M211.5,401.0h5M213.5,386.7h5M213.5,401.0h5M215.5,386.8h5M215.5,401.0h5M217.5,387.0h5M217.5,401.1h5M219.5,387.2h5M219.5,401.2h5M221.5,387.4h5M221.5,401.4h5M223.5,387.8h5M223.5,401.7h5M225.5,388.3h5M225.5,402.1h5M227.5,388.9h5M227.5,402.6h5M229.5,389.6h5M229.5,403.2h5M231.5,390.5h5M231.5,403.9h5M233.5,391.5h5M233.5,404.8h5M235.5,392.9h5M235.5,406.0h5M237.5,395.3h5M237.5,408.3h5M239.5,400.5h5M239.5,413.3h5M241.5,407.2h5M241.5,419.7h5M243.5,412.1h5M243.5,424.3h5M245.5,416.5h5M245.5,428.4h5M247.5,421.8h5M247.5,433.3h5M249.5,428.5h5M249.5,439.5h5M251.5,437.5h5M251.5,448.1h5M253.5,450.3h5M253.5,460.4h5M255.5,459.9h5M255.5,469.6h5M257.5,467.3h5M257.5,476.6h5M259.5,473.5h5M259.5,482.4h5M261.5,478.2h5M261.5,486.8h5M263.5,480.7h5M263.5,489.0h5M265.5,482.4h5M265.5,490.5h5M267.5,483.6h5M267.5,491.6h5M269.5,484.4h5M269.5,492.3h5M271.5,484.8h5M271.5,492.6h5M273.5,485.1h5M273.5,492.8h5M275.5,485.4h5M275.5,493.0h5M277.5,485.6h5M277.5,493.1h5M279.5,485.6h5M279.5,493.2h5M281.5,485.7h5M281.5,493.1h5M283.5,485.6h5M283.5,493.0h5M285.5,485.6h5M285.5,492.9h5M287.5,485.5h5M287.5,492.7h5M289.5,485.4h5M289.5,492.6h5M291.5,485.3h5M291.5,492.4h5M293.5,485.2h5M293.5,492.3h5M295.5,485.1h5M295.5,492.1h5M297.5,485.0h5M297.5,492.0h5M299.5,484.8h5M299.5,491.8h5M301.5,484.7h5M301.5,491.6h5M303.5,484.6h5M303.5,491.4h5M305.5,484.4h5M305.5,491.2h5M307.5,484.3h5M307.5,491.1h5M309.5,484.2h5M309.5,490.9h5M311.5,484.1h5M311.5,490.8h5M313.5,484.0h5M313.5,490.6h5M315.5,483.9h5M315.5,490.5h5M317.5,483.8h5M317.5,490.4h5M319.5,483.7h5M319.5,490.3h5M321.5,483.6h5M321.5,490.2h5M323.5,483.5h5M323.5,490.0h5M325.5,483.4h5M325.5,489.9h5M327.5,483.4h5M327.5,489.8h5M329.5,483.3h5M329.5,489.7h5M331.5,483.2h5M331.5,489.6h5M333.5,483.1h5M333.5,489.5h5M335.5,483.1h5M335.5,489.4h5M337.5,483.0h5M337.5,489.3h5M339.5,482.9h5M339.5,489.2h5M341.5,482.8h5M341.5,489.0h5M343.5,482.8h5M343.5,488.9h5M345.5,482.7h5M345.5,488.8h5M347.5,482.6h5M347.5,488.7h5M349.5,482.6h5M349.5,488.6h5" stroke="#5cbf98" stroke-width="0.9" fill="none" opacity="0.7"/>
<path d="M46.0,500.60 L46.5,500.60 L47.0,500.60 L47.5,500.60 L48.0,500.60 L48.5,500.60 L49.0,500.60 L49.5,500.60 L50.0,500.60 L50.5,500.60 L51.0,500.60 L51.5,500.60 L52.0,500.60 L52.5,500.60 L53.0,500.60 L53.5,500.60 L54.0,500.60 L54.5,500.60 L55.0,500.60 L55.5,500.60 L56.0,500.60 L56.5,500.60 L57.0,500.60 L57.5,500.60 L58.0,500.60 L58.5,500.60 L59.0,500.60 L59.5,500.60 L60.0,500.60 L60.5,500.60 L61.0,500.60 L61.5,500.60 L62.0,500.60 L62.5,500.60 L63.0,500.60 L63.5,500.60 L64.0,500.60 L64.5,500.60 L65.0,500.60 L65.5,500.60 L66.0,500.60 L66.5,500.60 L67.0,500.60 L67.5,500.60 L68.0,500.60 L68.5,500.60 L69.0,500.60 L69.5,500.60 L70.0,500.60 L70.5,500.60 L71.0,500.60 L71.5,500.60 L72.0,500.60 L72.5,500.60 L73.0,500.60 L73.5,500.60 L74.0,500.60 L74.5,500.60 L75.0,500.60 L75.5,500.60 L76.0,500.60 L76.5,500.60 L77.0,500.60 L77.5,500.60 L78.0,500.60 L78.5,500.60 L79.0,500.60 L79.5,500.60 L80.0,500.60 L80.5,500.60 L81.0,500.60 L81.5,500.60 L82.0,500.60 L82.5,500.60 L83.0,500.60 L83.5,500.60 L84.0,500.60 L84.5,500.60 L85.0,500.60 L85.5,500.60 L86.0,500.60 L86.5,500.60 L87.0,500.60 L87.5,500.60 L88.0,500.60 L88.5,500.60 L89.0,500.60 L89.5,500.60 L90.0,500.60 L90.5,500.60 L91.0,500.60 L91.5,500.60 L92.0,500.60 L92.5,500.60 L93.0,500.60 L93.5,500.60 L94.0,500.60 L94.5,500.60 L95.0,500.60 L95.5,500.60 L96.0,500.60 L96.5,500.60 L97.0,500.60 L97.5,500.60 L98.0,500.60 L98.5,500.60 L99.0,500.60 L99.5,500.60 L100.0,500.60 L100.5,500.60 L101.0,500.60 L101.5,500.60 L102.0,500.60 L102.5,500.60 L103.0,500.60 L103.5,500.60 L104.0,500.60 L104.5,500.60 L105.0,500.60 L105.5,500.60 L106.0,500.60 L106.5,500.60 L107.0,500.60 L107.5,500.60 L108.0,500.60 L108.5,500.60 L109.0,500.60 L109.5,500.60 L110.0,500.60 L110.5,500.60 L111.0,500.60 L111.5,500.60 L112.0,500.60 L112.5,500.60 L113.0,500.60 L113.5,500.60 L114.0,500.60 L114.5,500.60 L115.0,500.60 L115.5,500.60 L116.0,500.60 L116.5,500.60 L117.0,500.60 L117.5,500.60 L118.0,500.60 L118.5,500.60 L119.0,500.60 L119.5,500.60 L120.0,500.60 L120.5,500.58 L121.0,500.55 L121.5,500.50 L122.0,500.42 L122.5,500.32 L123.0,500.20 L123.5,500.06 L124.0,499.88 L124.5,499.49 L125.0,498.71 L125.5,497.43 L126.0,495.72 L126.5,493.70 L127.0,491.43 L127.5,488.67 L128.0,485.20 L128.5,480.94 L129.0,476.10 L129.5,470.94 L130.0,465.73 L130.5,460.71 L131.0,455.94 L131.5,451.33 L132.0,446.74 L132.5,442.15 L133.0,437.66 L133.5,433.34 L134.0,429.28 L134.5,425.50 L135.0,421.98 L135.5,418.67 L136.0,415.53 L136.5,412.52 L137.0,409.63 L137.5,406.85 L138.0,404.14 L138.5,401.48 L139.0,398.85 L139.5,396.28 L140.0,393.80 L140.5,391.48 L141.0,389.36 L141.5,387.46 L142.0,385.74 L142.5,384.13 L143.0,382.58 L143.5,381.10 L144.0,379.71 L144.5,378.44 L145.0,377.29 L145.5,376.30 L146.0,375.49 L146.5,374.85 L147.0,374.35 L147.5,373.92 L148.0,373.54 L148.5,373.22 L149.0,372.95 L149.5,372.75 L150.0,372.61 L150.5,372.51 L151.0,372.44 L151.5,372.37 L152.0,372.31 L152.5,372.26 L153.0,372.23 L153.5,372.21 L154.0,372.24 L154.5,372.33 L155.0,372.49 L155.5,372.71 L156.0,372.97 L156.5,373.23 L157.0,373.50 L157.5,373.77 L158.0,374.05 L158.5,374.34 L159.0,374.66 L159.5,374.99 L160.0,375.34 L160.5,375.70 L161.0,376.08 L161.5,376.46 L162.0,376.86 L162.5,377.28 L163.0,377.74 L163.5,378.25 L164.0,378.78 L164.5,379.34 L165.0,379.90 L165.5,380.46 L166.0,380.99 L166.5,381.50 L167.0,381.95 L167.5,382.37 L168.0,382.75 L168.5,383.13 L169.0,383.50 L169.5,383.86 L170.0,384.22 L170.5,384.58 L171.0,384.92 L171.5,385.26 L172.0,385.60 L172.5,385.92 L173.0,386.24 L173.5,386.55 L174.0,386.85 L174.5,387.14 L175.0,387.41 L175.5,387.68 L176.0,387.94 L176.5,388.19 L177.0,388.42 L177.5,388.64 L178.0,388.85 L178.5,389.04 L179.0,389.22 L179.5,389.39 L180.0,389.54 L180.5,389.68 L181.0,389.82 L181.5,389.95 L182.0,390.08 L182.5,390.20 L183.0,390.33 L183.5,390.45 L184.0,390.57 L184.5,390.69 L185.0,390.80 L185.5,390.91 L186.0,391.02 L186.5,391.13 L187.0,391.24 L187.5,391.34 L188.0,391.44 L188.5,391.54 L189.0,391.63 L189.5,391.72 L190.0,391.81 L190.5,391.90 L191.0,391.99 L191.5,392.07 L192.0,392.15 L192.5,392.23 L193.0,392.31 L193.5,392.38 L194.0,392.45 L194.5,392.52 L195.0,392.59 L195.5,392.66 L196.0,392.72 L196.5,392.78 L197.0,392.84 L197.5,392.89 L198.0,392.95 L198.5,393.00 L199.0,393.05 L199.5,393.10 L200.0,393.14 L200.5,393.18 L201.0,393.22 L201.5,393.26 L202.0,393.30 L202.5,393.33 L203.0,393.37 L203.5,393.40 L204.0,393.42 L204.5,393.45 L205.0,393.48 L205.5,393.50 L206.0,393.52 L206.5,393.54 L207.0,393.56 L207.5,393.58 L208.0,393.60 L208.5,393.62 L209.0,393.63 L209.5,393.65 L210.0,393.66 L210.5,393.68 L211.0,393.69 L211.5,393.71 L212.0,393.72 L212.5,393.74 L213.0,393.75 L213.5,393.77 L214.0,393.79 L214.5,393.80 L215.0,393.82 L215.5,393.84 L216.0,393.86 L216.5,393.88 L217.0,393.90 L217.5,393.92 L218.0,393.94 L218.5,393.97 L219.0,394.00 L219.5,394.03 L220.0,394.06 L220.5,394.09 L221.0,394.12 L221.5,394.16 L222.0,394.20 L222.5,394.25 L223.0,394.30 L223.5,394.35 L224.0,394.42 L224.5,394.49 L225.0,394.57 L225.5,394.65 L226.0,394.75 L226.5,394.84 L227.0,394.95 L227.5,395.06 L228.0,395.19 L228.5,395.31 L229.0,395.45 L229.5,395.59 L230.0,395.74 L230.5,395.90 L231.0,396.06 L231.5,396.23 L232.0,396.41 L232.5,396.59 L233.0,396.79 L233.5,396.99 L234.0,397.20 L234.5,397.41 L235.0,397.64 L235.5,397.87 L236.0,398.11 L236.5,398.37 L237.0,398.67 L237.5,399.03 L238.0,399.46 L238.5,399.95 L239.0,400.51 L239.5,401.14 L240.0,401.85 L240.5,402.74 L241.0,403.90 L241.5,405.33 L242.0,406.95 L242.5,408.66 L243.0,410.37 L243.5,411.99 L244.0,413.44 L244.5,414.74 L245.0,415.94 L245.5,417.07 L246.0,418.16 L246.5,419.23 L247.0,420.29 L247.5,421.36 L248.0,422.47 L248.5,423.63 L249.0,424.86 L249.5,426.18 L250.0,427.58 L250.5,429.05 L251.0,430.60 L251.5,432.25 L252.0,433.99 L252.5,435.87 L253.0,437.88 L253.5,440.14 L254.0,442.78 L254.5,445.81 L255.0,449.09 L255.5,452.36 L256.0,455.35 L256.5,458.00 L257.0,460.38 L257.5,462.61 L258.0,464.72 L258.5,466.72 L259.0,468.59 L259.5,470.33 L260.0,471.96 L260.5,473.52 L261.0,475.03 L261.5,476.51 L262.0,477.94 L262.5,479.28 L263.0,480.51 L263.5,481.60 L264.0,482.53 L264.5,483.28 L265.0,483.88 L265.5,484.39 L266.0,484.86 L266.5,485.30 L267.0,485.71 L267.5,486.09 L268.0,486.45 L268.5,486.78 L269.0,487.09 L269.5,487.36 L270.0,487.61 L270.5,487.83 L271.0,488.02 L271.5,488.18 L272.0,488.31 L272.5,488.41 L273.0,488.51 L273.5,488.59 L274.0,488.68 L274.5,488.76 L275.0,488.84 L275.5,488.91 L276.0,488.98 L276.5,489.04 L277.0,489.10 L277.5,489.16 L278.0,489.21 L278.5,489.25 L279.0,489.29 L279.5,489.32 L280.0,489.35 L280.5,489.37 L281.0,489.39 L281.5,489.40 L282.0,489.40 L282.5,489.40 L283.0,489.39 L283.5,489.38 L284.0,489.37 L284.5,489.36 L285.0,489.35 L285.5,489.33 L286.0,489.31 L286.5,489.29 L287.0,489.27 L287.5,489.24 L288.0,489.22 L288.5,489.19 L289.0,489.16 L289.5,489.13 L290.0,489.10 L290.5,489.07 L291.0,489.04 L291.5,489.01 L292.0,488.98 L292.5,488.95 L293.0,488.92 L293.5,488.89 L294.0,488.86 L294.5,488.83 L295.0,488.80 L295.5,488.77 L296.0,488.74 L296.5,488.71 L297.0,488.68 L297.5,488.64 L298.0,488.61 L298.5,488.58 L299.0,488.54 L299.5,488.50 L300.0,488.46 L300.5,488.43 L301.0,488.39 L301.5,488.35 L302.0,488.31 L302.5,488.27 L303.0,488.23 L303.5,488.19 L304.0,488.15 L304.5,488.11 L305.0,488.07 L305.5,488.03 L306.0,487.99 L306.5,487.95 L307.0,487.91 L307.5,487.87 L308.0,487.83 L308.5,487.79 L309.0,487.75 L309.5,487.72 L310.0,487.68 L310.5,487.64 L311.0,487.61 L311.5,487.58 L312.0,487.54 L312.5,487.51 L313.0,487.48 L313.5,487.45 L314.0,487.42 L314.5,487.39 L315.0,487.36 L315.5,487.34 L316.0,487.31 L316.5,487.28 L317.0,487.25 L317.5,487.22 L318.0,487.19 L318.5,487.17 L319.0,487.14 L319.5,487.11 L320.0,487.09 L320.5,487.06 L321.0,487.03 L321.5,487.01 L322.0,486.98 L322.5,486.96 L323.0,486.93 L323.5,486.90 L324.0,486.88 L324.5,486.85 L325.0,486.83 L325.5,486.80 L326.0,486.78 L326.5,486.75 L327.0,486.73 L327.5,486.71 L328.0,486.68 L328.5,486.66 L329.0,486.63 L329.5,486.61 L330.0,486.59 L330.5,486.56 L331.0,486.54 L331.5,486.52 L332.0,486.49 L332.5,486.47 L333.0,486.45 L333.5,486.42 L334.0,486.40 L334.5,486.38 L335.0,486.35 L335.5,486.33 L336.0,486.31 L336.5,486.29 L337.0,486.26 L337.5,486.24 L338.0,486.22 L338.5,486.20 L339.0,486.17 L339.5,486.15 L340.0,486.13 L340.5,486.11 L341.0,486.08 L341.5,486.06 L342.0,486.04 L342.5,486.01 L343.0,485.99 L343.5,485.97 L344.0,485.95 L344.5,485.92 L345.0,485.90 L345.5,485.88 L346.0,485.85 L346.5,485.83 L347.0,485.81 L347.5,485.79 L348.0,485.76 L348.5,485.74 L349.0,485.72 L349.5,485.69 L350.0,485.67 L350.5,485.64 L351.0,485.62 L351.5,485.60 L352.0,485.57 L352.5,485.55 L353.0,485.52 L353.5,485.51" stroke="#1f8c60" stroke-width="1.9" fill="none" stroke-linejoin="round"/></g>
<path d="M459,26V241.2M456,26h3M456,133.6h3M456,241h3M457.2,79.8h1.8M457.2,187.3h1.8" stroke="#6a6a6a" stroke-width="1.2" fill="none"/>
<path d="M456,241.2H768" stroke="#222" stroke-width="1.2" fill="none"/>
<text x="453.3" y="29.8" font-size="13" text-anchor="end" fill="#1e1e1e" >1.6</text>
<text x="453.3" y="137.8" font-size="13" text-anchor="end" fill="#1e1e1e" >0.8</text>
<text x="453.3" y="245.3" font-size="13" text-anchor="end" fill="#1e1e1e" >0.0</text>
<text transform="translate(428.5,131.7) rotate(-90)" font-size="12.6" text-anchor="middle" fill="#1e1e1e">[Ca<tspan font-size="9.6" dy="-3.8">2+</tspan><tspan dy="3.8">]</tspan><tspan font-size="8.5" dy="2.5">i</tspan><tspan dy="-2.5"> (μM)</tspan></text>
<rect x="462.00" y="236.30" width="11.5" height="4.90" fill="#bbb" stroke="#111" stroke-width="1.5"/>
<rect x="473.50" y="236.30" width="11.2" height="4.90" fill="url(#hatch)" stroke="#111" stroke-width="1.5"/>
<text x="479.60" y="230.8" font-size="8.6" text-anchor="middle" fill="#333" >ns</text>
<text transform="translate(484.80,252.0) rotate(-60)" font-size="12.8" text-anchor="end" fill="#1e1e1e">NT</text>
<rect x="490.02" y="233.30" width="11.5" height="7.90" fill="#000" stroke="#111" stroke-width="1.5"/>
<rect x="501.52" y="235.20" width="11.2" height="6.00" fill="url(#hatch)" stroke="#111" stroke-width="1.5"/>
<text x="507.62" y="231.1" font-size="8.6" text-anchor="middle" fill="#333" >ns</text>
<text transform="translate(512.82,252.0) rotate(-60)" font-size="12.8" text-anchor="end" fill="#1e1e1e">WT</text>
<path d="M523.79,160.20V163.00M519.29,160.20h9" stroke="#111" stroke-width="1.25" fill="none"/>
<rect x="518.04" y="163.00" width="11.5" height="78.20" fill="#d55a06" stroke="#111" stroke-width="1.5"/>
<path d="M523.79,163.00V165.80M519.29,165.80h9" stroke="#3a1a00" stroke-width="0.9" fill="none" opacity="0.7"/>
<path d="M535.14,209.00V210.30M530.64,209.00h9" stroke="#111" stroke-width="1.25" fill="none"/>
<rect x="529.54" y="210.30" width="11.2" height="30.90" fill="url(#hatch)" stroke="#111" stroke-width="1.5"/>
<path d="M535.14,210.30V211.60M530.54,211.60H539.74" stroke="#111" stroke-width="1" fill="none"/>
<text x="525.49" y="152.4" font-size="8" text-anchor="middle" fill="#333" style="stroke-width:0.35px;letter-spacing:0.4px">****</text>
<text x="536.34" y="201.7" font-size="5.5" text-anchor="middle" fill="#555" style="stroke:#555;stroke-width:0.15px">$$$$</text>
<text transform="translate(540.84,252.0) rotate(-60)" font-size="12.8" text-anchor="end" fill="#1e1e1e">D614V</text>
<rect x="546.06" y="231.40" width="11.5" height="9.80" fill="#d55a06" stroke="#111" stroke-width="1.5"/>
<rect x="557.56" y="232.30" width="11.2" height="8.90" fill="url(#hatch)" stroke="#111" stroke-width="1.5"/>
<text x="552.31" y="226.0" font-size="8.6" text-anchor="middle" fill="#333" >ns</text>
<text x="563.66" y="228.9" font-size="8.6" text-anchor="middle" fill="#333" >ns</text>
<text transform="translate(568.86,252.0) rotate(-60)" font-size="12.8" text-anchor="end" fill="#1e1e1e">L769V</text>
<path d="M579.83,84.10V90.30M575.33,84.10h9" stroke="#111" stroke-width="1.25" fill="none"/>
<rect x="574.08" y="90.30" width="11.5" height="150.90" fill="#d55a06" stroke="#111" stroke-width="1.5"/>
<path d="M579.83,90.30V96.50M575.33,96.50h9" stroke="#3a1a00" stroke-width="0.9" fill="none" opacity="0.7"/>
<path d="M591.18,180.30V183.60M586.68,180.30h9" stroke="#111" stroke-width="1.25" fill="none"/>
<rect x="585.58" y="183.60" width="11.2" height="57.60" fill="url(#hatch)" stroke="#111" stroke-width="1.5"/>
<path d="M591.18,183.60V186.90M586.58,186.90H595.78" stroke="#111" stroke-width="1" fill="none"/>
<text x="581.53" y="76.9" font-size="8" text-anchor="middle" fill="#333" style="stroke-width:0.35px;letter-spacing:0.4px">****</text>
<text x="592.38" y="173.8" font-size="5.5" text-anchor="middle" fill="#555" style="stroke:#555;stroke-width:0.15px">$$$$</text>
<text transform="translate(596.88,252.0) rotate(-60)" font-size="12.8" text-anchor="end" fill="#1e1e1e">V1002M</text>
<path d="M607.85,39.30V47.30M603.35,39.30h9" stroke="#111" stroke-width="1.25" fill="none"/>
<rect x="602.10" y="47.30" width="11.5" height="193.90" fill="#d55a06" stroke="#111" stroke-width="1.5"/>
<path d="M607.85,47.30V55.30M603.35,55.30h9" stroke="#3a1a00" stroke-width="0.9" fill="none" opacity="0.7"/>
<path d="M619.20,162.50V166.90M614.70,162.50h9" stroke="#111" stroke-width="1.25" fill="none"/>
<rect x="613.60" y="166.90" width="11.2" height="74.30" fill="url(#hatch)" stroke="#111" stroke-width="1.5"/>
<path d="M619.20,166.90V171.30M614.60,171.30H623.80" stroke="#111" stroke-width="1" fill="none"/>
<text x="609.55" y="31.6" font-size="8" text-anchor="middle" fill="#333" style="stroke-width:0.35px;letter-spacing:0.4px">****</text>
<text x="620.40" y="156.0" font-size="5.5" text-anchor="middle" fill="#555" style="stroke:#555;stroke-width:0.15px">$$$$</text>
<text transform="translate(624.90,252.0) rotate(-60)" font-size="12.8" text-anchor="end" fill="#1e1e1e">V1002G</text>
<path d="M635.87,170.10V176.20M631.37,170.10h9" stroke="#111" stroke-width="1.25" fill="none"/>
<rect x="630.12" y="176.20" width="11.5" height="65.00" fill="#d55a06" stroke="#111" stroke-width="1.5"/>
<path d="M635.87,176.20V182.30M631.37,182.30h9" stroke="#3a1a00" stroke-width="0.9" fill="none" opacity="0.7"/>
<path d="M647.22,209.50V212.50M642.72,209.50h9" stroke="#111" stroke-width="1.25" fill="none"/>
<rect x="641.62" y="212.50" width="11.2" height="28.70" fill="url(#hatch)" stroke="#111" stroke-width="1.5"/>
<path d="M647.22,212.50V215.50M642.62,215.50H651.82" stroke="#111" stroke-width="1" fill="none"/>
<text x="637.57" y="163.9" font-size="8" text-anchor="middle" fill="#333" style="stroke-width:0.35px;letter-spacing:0.4px">****</text>
<text x="648.42" y="206.0" font-size="5.5" text-anchor="middle" fill="#555" style="stroke:#555;stroke-width:0.15px">$$$$</text>
<text transform="translate(652.92,252.0) rotate(-60)" font-size="12.8" text-anchor="end" fill="#1e1e1e">V1002L</text>
<path d="M663.89,206.00V209.20M659.39,206.00h9" stroke="#111" stroke-width="1.25" fill="none"/>
<rect x="658.14" y="209.20" width="11.5" height="32.00" fill="#d55a06" stroke="#111" stroke-width="1.5"/>
<path d="M663.89,209.20V212.40M659.39,212.40h9" stroke="#3a1a00" stroke-width="0.9" fill="none" opacity="0.7"/>
<path d="M675.24,212.10V214.20M670.74,212.10h9" stroke="#111" stroke-width="1.25" fill="none"/>
<rect x="669.64" y="214.20" width="11.2" height="27.00" fill="url(#hatch)" stroke="#111" stroke-width="1.5"/>
<path d="M675.24,214.20V216.30M670.64,216.30H679.84" stroke="#111" stroke-width="1" fill="none"/>
<text x="665.59" y="199.4" font-size="8" text-anchor="middle" fill="#333" style="stroke-width:0.35px;letter-spacing:0.4px">****</text>
<text x="675.74" y="208.6" font-size="8.6" text-anchor="middle" fill="#333" >ns</text>
<text transform="translate(680.94,252.0) rotate(-60)" font-size="12.8" text-anchor="end" fill="#1e1e1e">G1007S</text>
<path d="M691.91,219.60V220.70M687.41,219.60h9" stroke="#111" stroke-width="1.25" fill="none"/>
<rect x="686.16" y="220.70" width="11.5" height="20.50" fill="#d55a06" stroke="#111" stroke-width="1.5"/>
<path d="M691.91,220.70V221.80M687.41,221.80h9" stroke="#3a1a00" stroke-width="0.9" fill="none" opacity="0.7"/>
<path d="M703.26,231.80V232.80M698.76,231.80h9" stroke="#111" stroke-width="1.25" fill="none"/>
<rect x="697.66" y="232.80" width="11.2" height="8.40" fill="url(#hatch)" stroke="#111" stroke-width="1.5"/>
<path d="M703.26,232.80V233.80M698.66,233.80H707.86" stroke="#111" stroke-width="1" fill="none"/>
<text x="693.61" y="212.9" font-size="8" text-anchor="middle" fill="#333" style="stroke-width:0.35px;letter-spacing:0.4px">**</text>
<text x="704.46" y="223.0" font-size="5.5" text-anchor="middle" fill="#555" style="stroke:#555;stroke-width:0.15px">$</text>
<text transform="translate(708.96,252.0) rotate(-60)" font-size="12.8" text-anchor="end" fill="#1e1e1e">P1102Q</text>
<path d="M719.93,171.40V176.40M715.43,171.40h9" stroke="#111" stroke-width="1.25" fill="none"/>
<rect x="714.18" y="176.40" width="11.5" height="64.80" fill="#d55a06" stroke="#111" stroke-width="1.5"/>
<path d="M719.93,176.40V181.40M715.43,181.40h9" stroke="#3a1a00" stroke-width="0.9" fill="none" opacity="0.7"/>
<path d="M731.28,214.50V217.60M726.78,214.50h9" stroke="#111" stroke-width="1.25" fill="none"/>
<rect x="725.68" y="217.60" width="11.2" height="23.60" fill="url(#hatch)" stroke="#111" stroke-width="1.5"/>
<path d="M731.28,217.60V220.70M726.68,220.70H735.88" stroke="#111" stroke-width="1" fill="none"/>
<text x="721.63" y="163.9" font-size="8" text-anchor="middle" fill="#333" style="stroke-width:0.35px;letter-spacing:0.4px">****</text>
<text x="732.48" y="210.3" font-size="5.5" text-anchor="middle" fill="#555" style="stroke:#555;stroke-width:0.15px">$$$$</text>
<text transform="translate(736.98,252.0) rotate(-60)" font-size="12.8" text-anchor="end" fill="#1e1e1e">N1126D</text>
<path d="M747.95,183.30V189.30M743.45,183.30h9" stroke="#111" stroke-width="1.25" fill="none"/>
<rect x="742.20" y="189.30" width="11.5" height="51.90" fill="#d55a06" stroke="#111" stroke-width="1.5"/>
<path d="M747.95,189.30V195.30M743.45,195.30h9" stroke="#3a1a00" stroke-width="0.9" fill="none" opacity="0.7"/>
<path d="M759.30,217.00V219.30M754.80,217.00h9" stroke="#111" stroke-width="1.25" fill="none"/>
<rect x="753.70" y="219.30" width="11.2" height="21.90" fill="url(#hatch)" stroke="#111" stroke-width="1.5"/>
<path d="M759.30,219.30V221.60M754.70,221.60H763.90" stroke="#111" stroke-width="1" fill="none"/>
<text x="749.65" y="176.4" font-size="8" text-anchor="middle" fill="#333" style="stroke-width:0.35px;letter-spacing:0.4px">****</text>
<text x="760.50" y="212.4" font-size="5.5" text-anchor="middle" fill="#555" style="stroke:#555;stroke-width:0.15px">$$$$</text>
<text transform="translate(765.00,252.0) rotate(-60)" font-size="12.8" text-anchor="end" fill="#1e1e1e">S1133P</text>
<rect x="663.5" y="9" width="28.5" height="13.5" fill="#d55a06" stroke="#222" stroke-width="1.4"/>
<rect x="663.5" y="25" width="28.5" height="13" fill="#fff" stroke="#222" stroke-width="1.4"/>
<path d="M666,37L678,26M680,37L691,27" stroke="#c87444" stroke-width="1"/>
<text x="696.3" y="20.2" font-size="12.8" text-anchor="start" fill="#1e1e1e" >Baseline</text>
<text x="696.3" y="36.4" font-size="12.8" text-anchor="start" fill="#1e1e1e" >Primidone</text>
<path d="M458.5,315.3V530.3M455.5,315.3h3M455.5,422.7h3M455.5,529.5h3M456.8,369.3h1.7M456.8,476.7h1.7" stroke="#6a6a6a" stroke-width="1.2" fill="none"/>
<path d="M455.5,530.3H768" stroke="#222" stroke-width="1.2" fill="none"/>
<text x="453.3" y="319.3" font-size="13" text-anchor="end" fill="#1e1e1e" >4</text>
<text x="453.3" y="427.0" font-size="13" text-anchor="end" fill="#1e1e1e" >2</text>
<text x="453.3" y="534.0" font-size="13" text-anchor="end" fill="#1e1e1e" >0</text>
<text transform="translate(428.5,422) rotate(-90)" font-size="12.6" text-anchor="middle" fill="#1e1e1e">Δ [Ca<tspan font-size="9.6" dy="-3.8">2+</tspan><tspan dy="3.8">]</tspan><tspan font-size="8.5" dy="2.5">i</tspan><tspan dy="-2.5"> (μM)</tspan></text>
<text transform="translate(484.30,541.3) rotate(-60)" font-size="12.8" text-anchor="end" fill="#1e1e1e">NT</text>
<path d="M501.02,453.90V456.80M496.02,453.90h10" stroke="#111" stroke-width="1.25" fill="none"/>
<rect x="489.62" y="456.80" width="22.8" height="73.50" fill="#000" stroke="#111" stroke-width="1.5"/>
<path d="M501.02,456.80V459.70M496.02,459.70h10" stroke="#111" stroke-width="1" fill="none"/>
<text transform="translate(512.32,541.3) rotate(-60)" font-size="12.8" text-anchor="end" fill="#1e1e1e">WT</text>
<path d="M529.04,331.20V344.30M524.04,331.20h10" stroke="#111" stroke-width="1.25" fill="none"/>
<rect x="517.64" y="344.30" width="22.8" height="186.00" fill="#d55a06" stroke="#111" stroke-width="1.5"/>
<path d="M529.04,344.30V357.40M524.04,357.40h10" stroke="#111" stroke-width="1" fill="none"/>
<text x="529.64" y="325.4" font-size="8" text-anchor="middle" fill="#333" style="stroke-width:0.35px;letter-spacing:0.4px">****</text>
<text transform="translate(540.34,541.3) rotate(-60)" font-size="12.8" text-anchor="end" fill="#1e1e1e">D614V</text>
<rect x="545.66" y="528.70" width="22.8" height="1.60" fill="#d55a06" stroke="#111" stroke-width="1.5"/>
<text x="557.66" y="503.9" font-size="8" text-anchor="middle" fill="#333" style="stroke-width:0.35px;letter-spacing:0.4px">****</text>
<text transform="translate(568.36,541.3) rotate(-60)" font-size="12.8" text-anchor="end" fill="#1e1e1e">L769V</text>
<path d="M585.08,390.30V400.70M580.08,390.30h10" stroke="#111" stroke-width="1.25" fill="none"/>
<rect x="573.68" y="400.70" width="22.8" height="129.60" fill="#d55a06" stroke="#111" stroke-width="1.5"/>
<path d="M585.08,400.70V411.10M580.08,411.10h10" stroke="#111" stroke-width="1" fill="none"/>
<text x="585.68" y="384.7" font-size="8" text-anchor="middle" fill="#333" style="stroke-width:0.35px;letter-spacing:0.4px">****</text>
<text transform="translate(596.38,541.3) rotate(-60)" font-size="12.8" text-anchor="end" fill="#1e1e1e">V1002M</text>
<path d="M613.10,517.00V518.30M608.10,517.00h10" stroke="#111" stroke-width="1.25" fill="none"/>
<rect x="601.70" y="518.30" width="22.8" height="12.00" fill="#d55a06" stroke="#111" stroke-width="1.5"/>
<path d="M613.10,518.30V519.60M608.10,519.60h10" stroke="#111" stroke-width="1" fill="none"/>
<text x="613.70" y="505.9" font-size="8" text-anchor="middle" fill="#333" style="stroke-width:0.35px;letter-spacing:0.4px">****</text>
<text transform="translate(624.40,541.3) rotate(-60)" font-size="12.8" text-anchor="end" fill="#1e1e1e">V1002G</text>
<path d="M641.12,497.30V499.60M636.12,497.30h10" stroke="#111" stroke-width="1.25" fill="none"/>
<rect x="629.72" y="499.60" width="22.8" height="30.70" fill="#d55a06" stroke="#111" stroke-width="1.5"/>
<path d="M641.12,499.60V501.90M636.12,501.90h10" stroke="#111" stroke-width="1" fill="none"/>
<text x="641.72" y="486.4" font-size="8" text-anchor="middle" fill="#333" style="stroke-width:0.35px;letter-spacing:0.4px">****</text>
<text transform="translate(652.42,541.3) rotate(-60)" font-size="12.8" text-anchor="end" fill="#1e1e1e">V1002L</text>
<path d="M669.14,494.60V498.20M664.14,494.60h10" stroke="#111" stroke-width="1.25" fill="none"/>
<rect x="657.74" y="498.20" width="22.8" height="32.10" fill="#d55a06" stroke="#111" stroke-width="1.5"/>
<path d="M669.14,498.20V501.80M664.14,501.80h10" stroke="#111" stroke-width="1" fill="none"/>
<text x="669.74" y="486.1" font-size="8" text-anchor="middle" fill="#333" style="stroke-width:0.35px;letter-spacing:0.4px">***</text>
<text transform="translate(680.44,541.3) rotate(-60)" font-size="12.8" text-anchor="end" fill="#1e1e1e">G1007S</text>
<path d="M697.16,419.20V422.80M692.16,419.20h10" stroke="#111" stroke-width="1.25" fill="none"/>
<rect x="685.76" y="422.80" width="22.8" height="107.50" fill="#d55a06" stroke="#111" stroke-width="1.5"/>
<path d="M697.16,422.80V426.40M692.16,426.40h10" stroke="#111" stroke-width="1" fill="none"/>
<text x="697.76" y="407.4" font-size="8" text-anchor="middle" fill="#333" style="stroke-width:0.35px;letter-spacing:0.4px">*</text>
<text transform="translate(708.46,541.3) rotate(-60)" font-size="12.8" text-anchor="end" fill="#1e1e1e">P1102Q</text>
<path d="M725.18,420.00V425.60M720.18,420.00h10" stroke="#111" stroke-width="1.25" fill="none"/>
<rect x="713.78" y="425.60" width="22.8" height="104.70" fill="#d55a06" stroke="#111" stroke-width="1.5"/>
<path d="M725.18,425.60V431.20M720.18,431.20h10" stroke="#111" stroke-width="1" fill="none"/>
<text x="725.78" y="407.4" font-size="8" text-anchor="middle" fill="#333" style="stroke-width:0.35px;letter-spacing:0.4px">**</text>
<text transform="translate(736.48,541.3) rotate(-60)" font-size="12.8" text-anchor="end" fill="#1e1e1e">N1126D</text>
<path d="M753.20,356.50V372.50M748.20,356.50h10" stroke="#111" stroke-width="1.25" fill="none"/>
<rect x="741.80" y="372.50" width="22.8" height="157.80" fill="#d55a06" stroke="#111" stroke-width="1.5"/>
<path d="M753.20,372.50V388.50M748.20,388.50h10" stroke="#111" stroke-width="1" fill="none"/>
<text x="753.80" y="347.9" font-size="8" text-anchor="middle" fill="#333" style="stroke-width:0.35px;letter-spacing:0.4px">****</text>
<text transform="translate(764.50,541.3) rotate(-60)" font-size="12.8" text-anchor="end" fill="#1e1e1e">S1133P</text>
</svg></body></html>
